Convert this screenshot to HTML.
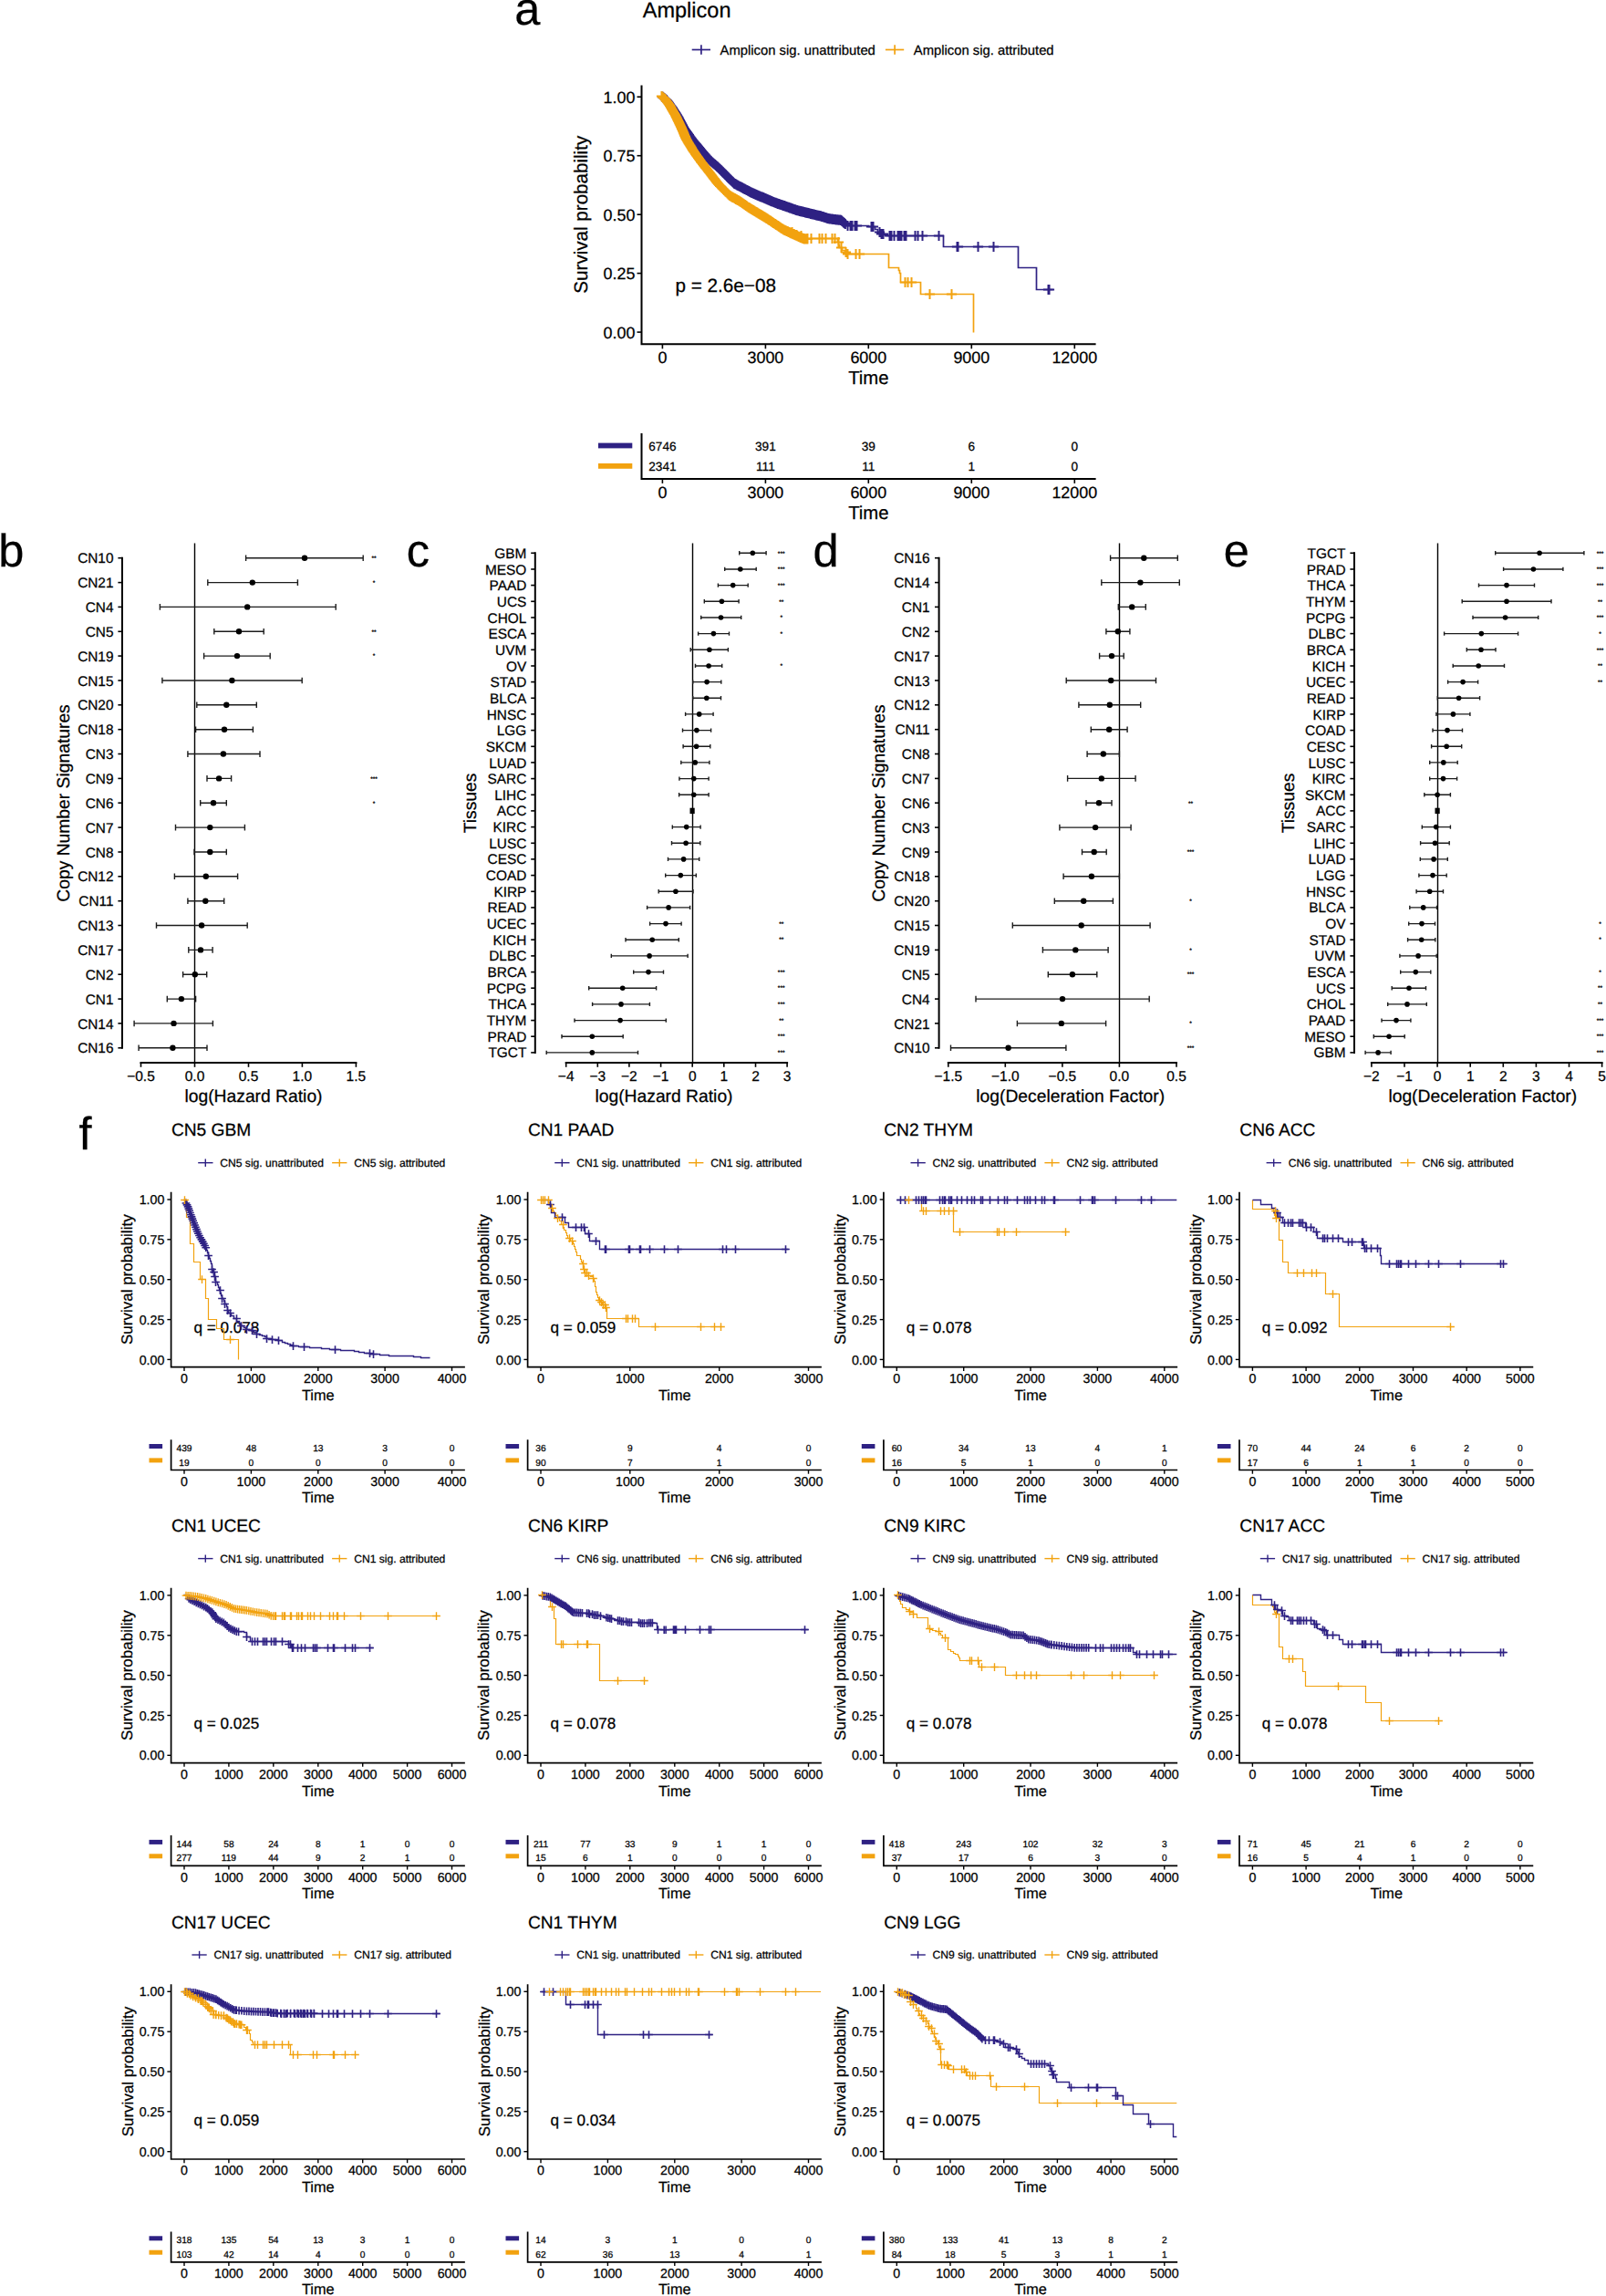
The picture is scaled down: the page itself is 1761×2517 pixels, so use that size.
<!DOCTYPE html>
<html lang="en"><head><meta charset="utf-8"><title>Figure</title>
<style>html,body{margin:0;padding:0;background:#fff}svg{display:block}text{stroke:#000;stroke-width:.25px}</style></head>
<body>
<svg width="1761" height="2517" viewBox="0 0 1761 2517" font-family='"Liberation Sans", "Helvetica", "Arial", sans-serif' text-rendering="geometricPrecision">
<text x="564.2" y="27.2" font-size="50.5" text-anchor="start" fill="#000">a</text>
<text x="-1.8" y="621.4" font-size="50.5" text-anchor="start" fill="#000">b</text>
<text x="445.8" y="621.4" font-size="50.5" text-anchor="start" fill="#000">c</text>
<text x="891.6" y="621.2" font-size="50.5" text-anchor="start" fill="#000">d</text>
<text x="1341.8" y="621.4" font-size="50.5" text-anchor="start" fill="#000">e</text>
<text x="86.6" y="1259.6" font-size="50.5" text-anchor="start" fill="#000">f</text>
<path d="M703.5 94.6V377.3H1200.6" stroke="#000" stroke-width="2" fill="none" stroke-linecap="square"/>
<line x1="698.5" y1="106.2" x2="703.5" y2="106.2" stroke="#000" stroke-width="1.6" stroke-linecap="butt"/>
<text x="696.4" y="112.6" font-size="17.9" text-anchor="end" fill="#000">1.00</text>
<line x1="698.5" y1="170.7" x2="703.5" y2="170.7" stroke="#000" stroke-width="1.6" stroke-linecap="butt"/>
<text x="696.4" y="177.1" font-size="17.9" text-anchor="end" fill="#000">0.75</text>
<line x1="698.5" y1="235.2" x2="703.5" y2="235.2" stroke="#000" stroke-width="1.6" stroke-linecap="butt"/>
<text x="696.4" y="241.6" font-size="17.9" text-anchor="end" fill="#000">0.50</text>
<line x1="698.5" y1="299.6" x2="703.5" y2="299.6" stroke="#000" stroke-width="1.6" stroke-linecap="butt"/>
<text x="696.4" y="306" font-size="17.9" text-anchor="end" fill="#000">0.25</text>
<line x1="698.5" y1="364.1" x2="703.5" y2="364.1" stroke="#000" stroke-width="1.6" stroke-linecap="butt"/>
<text x="696.4" y="370.5" font-size="17.9" text-anchor="end" fill="#000">0.00</text>
<line x1="726.4" y1="377.3" x2="726.4" y2="382.3" stroke="#000" stroke-width="1.6" stroke-linecap="butt"/>
<text x="726.4" y="398.3" font-size="17.9" text-anchor="middle" fill="#000">0</text>
<line x1="839.4" y1="377.3" x2="839.4" y2="382.3" stroke="#000" stroke-width="1.6" stroke-linecap="butt"/>
<text x="839.4" y="398.3" font-size="17.9" text-anchor="middle" fill="#000">3000</text>
<line x1="952.3" y1="377.3" x2="952.3" y2="382.3" stroke="#000" stroke-width="1.6" stroke-linecap="butt"/>
<text x="952.3" y="398.3" font-size="17.9" text-anchor="middle" fill="#000">6000</text>
<line x1="1065.3" y1="377.3" x2="1065.3" y2="382.3" stroke="#000" stroke-width="1.6" stroke-linecap="butt"/>
<text x="1065.3" y="398.3" font-size="17.9" text-anchor="middle" fill="#000">9000</text>
<line x1="1178.3" y1="377.3" x2="1178.3" y2="382.3" stroke="#000" stroke-width="1.6" stroke-linecap="butt"/>
<text x="1178.3" y="398.3" font-size="17.9" text-anchor="middle" fill="#000">12000</text>
<text x="952.3" y="421.1" font-size="20.3" text-anchor="middle" fill="#000">Time</text>
<text x="643.8" y="235.2" font-size="20.6" text-anchor="middle" transform="rotate(-90 643.8 235.2)">Survival probability</text>
<text x="704.8" y="18.6" font-size="23.5" text-anchor="start" fill="#000">Amplicon</text>
<text x="740.5" y="319.9" font-size="20.7" text-anchor="start" fill="#000">p = 2.6e−08</text>
<line x1="758.7" y1="54.5" x2="779" y2="54.5" stroke="#2E2183" stroke-width="1.7" stroke-linecap="butt"/>
<line x1="768.9" y1="49.3" x2="768.9" y2="59.7" stroke="#2E2183" stroke-width="1.7" stroke-linecap="butt"/>
<text x="789.6" y="59.8" font-size="14.8" text-anchor="start" fill="#000">Amplicon sig. unattributed</text>
<line x1="970.9" y1="54.5" x2="991.2" y2="54.5" stroke="#F2A20F" stroke-width="1.7" stroke-linecap="butt"/>
<line x1="981.1" y1="49.3" x2="981.1" y2="59.7" stroke="#F2A20F" stroke-width="1.7" stroke-linecap="butt"/>
<text x="1001.8" y="59.8" font-size="14.8" text-anchor="start" fill="#000">Amplicon sig. attributed</text>
<path d="M703.5 475.9V524.9H1200.6" stroke="#000" stroke-width="2" fill="none" stroke-linecap="square"/>
<line x1="726.4" y1="524.9" x2="726.4" y2="529.9" stroke="#000" stroke-width="1.6" stroke-linecap="butt"/>
<text x="726.4" y="545.7" font-size="17.9" text-anchor="middle" fill="#000">0</text>
<text x="726.4" y="493.6" font-size="13.6" text-anchor="middle" fill="#000">6746</text>
<text x="726.4" y="516" font-size="13.6" text-anchor="middle" fill="#000">2341</text>
<line x1="839.4" y1="524.9" x2="839.4" y2="529.9" stroke="#000" stroke-width="1.6" stroke-linecap="butt"/>
<text x="839.4" y="545.7" font-size="17.9" text-anchor="middle" fill="#000">3000</text>
<text x="839.4" y="493.6" font-size="13.6" text-anchor="middle" fill="#000">391</text>
<text x="839.4" y="516" font-size="13.6" text-anchor="middle" fill="#000">111</text>
<line x1="952.3" y1="524.9" x2="952.3" y2="529.9" stroke="#000" stroke-width="1.6" stroke-linecap="butt"/>
<text x="952.3" y="545.7" font-size="17.9" text-anchor="middle" fill="#000">6000</text>
<text x="952.3" y="493.6" font-size="13.6" text-anchor="middle" fill="#000">39</text>
<text x="952.3" y="516" font-size="13.6" text-anchor="middle" fill="#000">11</text>
<line x1="1065.3" y1="524.9" x2="1065.3" y2="529.9" stroke="#000" stroke-width="1.6" stroke-linecap="butt"/>
<text x="1065.3" y="545.7" font-size="17.9" text-anchor="middle" fill="#000">9000</text>
<text x="1065.3" y="493.6" font-size="13.6" text-anchor="middle" fill="#000">6</text>
<text x="1065.3" y="516" font-size="13.6" text-anchor="middle" fill="#000">1</text>
<line x1="1178.3" y1="524.9" x2="1178.3" y2="529.9" stroke="#000" stroke-width="1.6" stroke-linecap="butt"/>
<text x="1178.3" y="545.7" font-size="17.9" text-anchor="middle" fill="#000">12000</text>
<text x="1178.3" y="493.6" font-size="13.6" text-anchor="middle" fill="#000">0</text>
<text x="1178.3" y="516" font-size="13.6" text-anchor="middle" fill="#000">0</text>
<text x="952.3" y="569" font-size="20.3" text-anchor="middle" fill="#000">Time</text>
<rect x="656" y="485.6" width="37.3" height="5.8" fill="#2E2183"/>
<rect x="656" y="508" width="37.3" height="5.8" fill="#F2A20F"/>
<path d="M726.5 106.5 L728.5 106.5 L728.5 108.5 L731.5 108.5 L731.5 109.5 L733.5 109.5 L733.5 112.5 L735.5 112.5 L735.5 115.5 L737.5 115.5 L737.5 118.5 L739.5 118.5 L739.5 121.5 L741.5 121.5 L741.5 124.5 L742.5 124.5 L742.5 127.5 L744.5 127.5 L744.5 130.5 L746.5 130.5 L746.5 133.5 L747.5 133.5 L747.5 136.5 L749.5 136.5 L749.5 139.5 L751.5 139.5 L751.5 142.5 L753.5 142.5 L753.5 146.5 L756.5 146.5 L756.5 149.5 L758.5 149.5 L758.5 152.5 L760.5 152.5 L760.5 155.5 L762.5 155.5 L762.5 157.5 L765.5 157.5 L765.5 160.5 L767.5 160.5 L767.5 163.5 L769.5 163.5 L769.5 165.5 L772.5 165.5 L772.5 169.5 L775.5 169.5 L775.5 172.5 L778.5 172.5 L778.5 175.5 L781.5 175.5 L781.5 178.5 L784.5 178.5 L784.5 180.5 L787.5 180.5 L787.5 183.5 L790.5 183.5 L790.5 186.5 L793.5 186.5 L793.5 189.5 L796.5 189.5 L796.5 192.5 L799.5 192.5 L799.5 195.5 L802.5 195.5 L802.5 198.5 L804.5 198.5 L804.5 201.5 L807.5 201.5 L807.5 202.5 L810.5 202.5 L810.5 204.5 L813.5 204.5 L813.5 205.5 L816.5 205.5 L816.5 206.5 L818.5 206.5 L818.5 208.5 L821.5 208.5 L821.5 209.5 L824.5 209.5 L824.5 211.5 L827.5 211.5 L827.5 212.5 L830.5 212.5 L830.5 214.5 L833.5 214.5 L833.5 215.5 L836.5 215.5 L836.5 216.5 L840.5 216.5 L840.5 218.5 L843.5 218.5 L843.5 219.5 L846.5 219.5 L846.5 220.5 L849.5 220.5 L849.5 222.5 L852.5 222.5 L852.5 223.5 L855.5 223.5 L855.5 224.5 L858.5 224.5 L858.5 225.5 L861.5 225.5 L861.5 226.5 L865.5 226.5 L865.5 227.5 L868.5 227.5 L868.5 228.5 L871.5 228.5 L871.5 229.5 L874.5 229.5 L874.5 230.5 L877.5 230.5 L877.5 231.5 L880.5 231.5 L880.5 232.5 L882.5 232.5 L882.5 232.5 L885.5 232.5 L885.5 233.5 L888.5 233.5 L888.5 234.5 L891.5 234.5 L891.5 234.5 L894.5 234.5 L894.5 235.5 L897.5 235.5 L897.5 236.5 L900.5 236.5 L900.5 236.5 L902.5 236.5 L902.5 237.5 L905.5 237.5 L905.5 238.5 L908.5 238.5 L908.5 239.5 L912.5 239.5 L912.5 240.5 L915.5 240.5 L915.5 240.5 L918.5 240.5 L918.5 240.5 L922.5 240.5 L922.5 241.5 L925.5 241.5 L925.5 244.5 L928.5 244.5 L928.5 247.5 L931.5 247.5 L931.5 247.5 L934.5 247.5 L934.5 247.5 L937.5 247.5 L937.5 247.5 L940.5 247.5 L940.5 247.5 L943.5 247.5 L943.5 247.5 L946.5 247.5 L946.5 247.5 L949.5 247.5 L949.5 247.5 L952.5 247.5 L952.5 248.5 L955.5 248.5 L955.5 248.5 L959.5 248.5 L959.5 251.5 L962.5 251.5 L962.5 254.5 L965.5 254.5 L965.5 256.5 L969.5 256.5 L969.5 257.5 L972.5 257.5 L972.5 258.5 L1029.5 258.5 L1034.5 258.5 L1034.5 270.5 L1116.5 270.5 L1116.5 293.5 L1136.5 293.5 L1136.5 317.5 L1154.5 317.5" stroke="#2E2183" stroke-width="1.7" fill="none"  stroke-linejoin="miter"/>
<path d="M929.5 241.9v11.2M923.9 247.5h11.2M932.5 241.9v11.2M926.9 247.5h11.2M934.5 241.9v11.2M928.9 247.5h11.2M937.5 241.9v11.2M931.9 247.5h11.2M939.5 241.9v11.2M933.9 247.5h11.2M955.5 242.9v11.2M949.9 248.5h11.2M957.5 242.9v11.2M951.9 248.5h11.2M964.5 248.9v11.2M958.9 254.5h11.2M966.5 250.9v11.2M960.9 256.5h11.2M968.5 250.9v11.2M962.9 256.5h11.2M975.5 252.9v11.2M969.9 258.5h11.2M977.5 252.9v11.2M971.9 258.5h11.2M980.5 252.9v11.2M974.9 258.5h11.2M984.5 252.9v11.2M978.9 258.5h11.2M986.5 252.9v11.2M980.9 258.5h11.2M988.5 252.9v11.2M982.9 258.5h11.2M991.5 252.9v11.2M985.9 258.5h11.2M993.5 252.9v11.2M987.9 258.5h11.2M1003.5 252.9v11.2M997.9 258.5h11.2M1006.5 252.9v11.2M1000.9 258.5h11.2M1011.5 252.9v11.2M1005.9 258.5h11.2M1029.5 252.9v11.2M1023.9 258.5h11.2M1049.5 264.9v11.2M1043.9 270.5h11.2M1050.5 264.9v11.2M1044.9 270.5h11.2M1072.5 264.9v11.2M1066.9 270.5h11.2M1089.5 264.9v11.2M1083.9 270.5h11.2M1149.5 311.9v11.2M1143.9 317.5h11.2M1150.5 311.9v11.2M1144.9 317.5h11.2M726.4 100.6v11.2M720.8 106.2h11.2M727.3 101.3v11.2M721.7 106.9h11.2M728.3 102.1v11.2M722.7 107.7h11.2M729.2 102.8v11.2M723.6 108.4h11.2M730.2 103.6v11.2M724.6 109.2h11.2M731.1 104.3v11.2M725.5 109.9h11.2M731.9 105.4v11.2M726.3 111h11.2M732.7 106.5v11.2M727.1 112.1h11.2M733.5 107.6v11.2M727.9 113.2h11.2M734.2 108.7v11.2M728.6 114.3h11.2M735 109.8v11.2M729.4 115.4h11.2M735.8 110.9v11.2M730.2 116.5h11.2M736.6 112v11.2M731 117.6h11.2M737.4 113v11.2M731.8 118.6h11.2M738.1 114.1v11.2M732.5 119.7h11.2M738.8 115.2v11.2M733.2 120.8h11.2M739.5 116.3v11.2M733.9 121.9h11.2M740.2 117.4v11.2M734.6 123h11.2M740.9 118.5v11.2M735.3 124.1h11.2M741.6 119.6v11.2M736 125.2h11.2M742.3 120.7v11.2M736.7 126.3h11.2M743 121.8v11.2M737.4 127.4h11.2M743.6 122.9v11.2M738 128.5h11.2M744.2 124v11.2M738.6 129.6h11.2M744.8 125.2v11.2M739.2 130.8h11.2M745.4 126.3v11.2M739.8 131.9h11.2M746 127.4v11.2M740.4 133h11.2M746.6 128.6v11.2M741 134.2h11.2M747.2 129.7v11.2M741.6 135.3h11.2M747.8 130.8v11.2M742.2 136.4h11.2M748.4 131.9v11.2M742.8 137.5h11.2M749 133.1v11.2M743.4 138.7h11.2M749.6 134.2v11.2M744 139.8h11.2M750.3 135.3v11.2M744.7 140.9h11.2M751 136.3v11.2M745.4 141.9h11.2M751.7 137.3v11.2M746.1 142.9h11.2M752.5 138.4v11.2M746.9 144h11.2M753.2 139.4v11.2M747.6 145h11.2M753.9 140.4v11.2M748.3 146h11.2M754.6 141.5v11.2M749 147.1h11.2M755.4 142.5v11.2M749.8 148.1h11.2M756.1 143.6v11.2M750.5 149.2h11.2M756.8 144.6v11.2M751.2 150.2h11.2M757.6 145.6v11.2M752 151.2h11.2M758.3 146.7v11.2M752.7 152.3h11.2M759.1 147.6v11.2M753.5 153.2h11.2M759.9 148.6v11.2M754.3 154.2h11.2M760.7 149.6v11.2M755.1 155.2h11.2M761.6 150.6v11.2M756 156.2h11.2M762.4 151.6v11.2M756.8 157.2h11.2M763.2 152.5v11.2M757.6 158.1h11.2M764 153.5v11.2M758.4 159.1h11.2M764.8 154.5v11.2M759.2 160.1h11.2M765.6 155.5v11.2M760 161.1h11.2M766.5 156.5v11.2M760.9 162.1h11.2M767.3 157.4v11.2M761.7 163h11.2M768.1 158.4v11.2M762.5 164h11.2M768.9 159.4v11.2M763.3 165h11.2M769.7 160.4v11.2M764.1 166h11.2M770.5 161.3v11.2M764.9 166.9h11.2M771.3 162.2v11.2M765.7 167.8h11.2M772.1 163.1v11.2M766.5 168.7h11.2M772.9 164v11.2M767.3 169.6h11.2M773.7 164.9v11.2M768.1 170.5h11.2M774.5 165.8v11.2M768.9 171.4h11.2M775.3 166.7v11.2M769.7 172.3h11.2M776.1 167.6v11.2M770.5 173.2h11.2M776.9 168.5v11.2M771.3 174.1h11.2M777.7 169.4v11.2M772.1 175h11.2M778.5 170.3v11.2M772.9 175.9h11.2M779.4 171.1v11.2M773.8 176.7h11.2M780.4 171.9v11.2M774.8 177.5h11.2M781.4 172.7v11.2M775.8 178.3h11.2M782.3 173.5v11.2M776.7 179.1h11.2M783.3 174.3v11.2M777.7 179.9h11.2M784.3 175.1v11.2M778.7 180.7h11.2M785.2 175.9v11.2M779.6 181.5h11.2M786.2 176.7v11.2M780.6 182.3h11.2M787.2 177.6v11.2M781.6 183.2h11.2M788 178.4v11.2M782.4 184h11.2M788.9 179.3v11.2M783.3 184.9h11.2M789.7 180.1v11.2M784.1 185.7h11.2M790.6 181v11.2M785 186.6h11.2M791.4 181.8v11.2M785.8 187.4h11.2M792.3 182.7v11.2M786.7 188.3h11.2M793.1 183.5v11.2M787.5 189.1h11.2M794 184.4v11.2M788.4 190h11.2M794.8 185.2v11.2M789.2 190.8h11.2M795.7 186.1v11.2M790.1 191.7h11.2M796.5 186.9v11.2M790.9 192.5h11.2M797.3 187.8v11.2M791.7 193.4h11.2M798.2 188.7v11.2M792.6 194.3h11.2M799 189.5v11.2M793.4 195.1h11.2M799.9 190.4v11.2M794.3 196h11.2M800.7 191.2v11.2M795.1 196.8h11.2M801.6 192.1v11.2M796 197.7h11.2M802.4 192.9v11.2M796.8 198.5h11.2M803.3 193.8v11.2M797.7 199.4h11.2M804.1 194.6v11.2M798.5 200.2h11.2M805 195.5v11.2M799.4 201.1h11.2M806.1 196.1v11.2M800.5 201.7h11.2M807.2 196.6v11.2M801.6 202.2h11.2M808.2 197.2v11.2M802.6 202.8h11.2M809.3 197.8v11.2M803.7 203.4h11.2M810.4 198.4v11.2M804.8 204h11.2M811.5 198.9v11.2M805.9 204.5h11.2M812.6 199.5v11.2M807 205.1h11.2M813.7 200.1v11.2M808.1 205.7h11.2M814.8 200.7v11.2M809.2 206.3h11.2M815.8 201.2v11.2M810.2 206.8h11.2M816.9 201.8v11.2M811.3 207.4h11.2M818 202.4v11.2M812.4 208h11.2M819.1 202.9v11.2M813.5 208.5h11.2M820.2 203.5v11.2M814.6 209.1h11.2M821.3 204.1v11.2M815.7 209.7h11.2M822.4 204.7v11.2M816.8 210.3h11.2M823.4 205.2v11.2M817.8 210.8h11.2M824.5 205.8v11.2M818.9 211.4h11.2M825.7 206.3v11.2M820.1 211.9h11.2M826.8 206.8v11.2M821.2 212.4h11.2M827.9 207.3v11.2M822.3 212.9h11.2M829.1 207.7v11.2M823.5 213.3h11.2M830.2 208.2v11.2M824.6 213.8h11.2M831.3 208.7v11.2M825.7 214.3h11.2M832.5 209.2v11.2M826.9 214.8h11.2M833.6 209.7v11.2M828 215.3h11.2M834.7 210.2v11.2M829.1 215.8h11.2M835.9 210.6v11.2M830.3 216.2h11.2M837 211.1v11.2M831.4 216.7h11.2M838.1 211.6v11.2M832.5 217.2h11.2M839.3 212.1v11.2M833.7 217.7h11.2M840.4 212.6v11.2M834.8 218.2h11.2M841.5 213v11.2M835.9 218.6h11.2M842.6 213.5v11.2M837 219.1h11.2M843.8 214v11.2M838.2 219.6h11.2M844.9 214.5v11.2M839.3 220.1h11.2M846 215v11.2M840.4 220.6h11.2M847.2 215.4v11.2M841.6 221h11.2M848.3 215.9v11.2M842.7 221.5h11.2M849.4 216.4v11.2M843.8 222h11.2M850.6 216.8v11.2M845 222.4h11.2M851.8 217.2v11.2M846.2 222.8h11.2M853 217.7v11.2M847.4 223.3h11.2M854.2 218.1v11.2M848.6 223.7h11.2M855.4 218.5v11.2M849.8 224.1h11.2M856.6 218.9v11.2M851 224.5h11.2M857.7 219.3v11.2M852.1 224.9h11.2M858.9 219.7v11.2M853.3 225.3h11.2M860.1 220.1v11.2M854.5 225.7h11.2M861.3 220.6v11.2M855.7 226.2h11.2M862.5 221v11.2M856.9 226.6h11.2M863.7 221.4v11.2M858.1 227h11.2M864.9 221.8v11.2M859.3 227.4h11.2M866 222.2v11.2M860.4 227.8h11.2M867.2 222.6v11.2M861.6 228.2h11.2M868.4 223v11.2M862.8 228.6h11.2M869.6 223.5v11.2M864 229.1h11.2M870.8 223.9v11.2M865.2 229.5h11.2M872 224.3v11.2M866.4 229.9h11.2M873.2 224.7v11.2M867.6 230.3h11.2M874.3 225.1v11.2M868.7 230.7h11.2M875.6 225.4v11.2M870 231h11.2M876.8 225.7v11.2M871.2 231.3h11.2M878 226v11.2M872.4 231.6h11.2M879.2 226.3v11.2M873.6 231.9h11.2M880.5 226.6v11.2M874.9 232.2h11.2M881.7 226.9v11.2M876.1 232.5h11.2M882.9 227.2v11.2M877.3 232.8h11.2M884.1 227.5v11.2M878.5 233.1h11.2M885.3 227.8v11.2M879.7 233.4h11.2M886.6 228.1v11.2M881 233.7h11.2M887.8 228.4v11.2M882.2 234h11.2M889 228.7v11.2M883.4 234.3h11.2M890.2 229v11.2M884.6 234.6h11.2M891.4 229.3v11.2M885.8 234.9h11.2M892.7 229.6v11.2M887.1 235.2h11.2M893.9 229.9v11.2M888.3 235.5h11.2M895.1 230.2v11.2M889.5 235.8h11.2M896.3 230.5v11.2M890.7 236.1h11.2M897.6 230.8v11.2M892 236.4h11.2M898.8 231.1v11.2M893.2 236.7h11.2M900 231.3v11.2M894.4 236.9h11.2M901.2 231.7v11.2M895.6 237.3h11.2M902.5 232.1v11.2M896.9 237.7h11.2M903.7 232.5v11.2M898.1 238.1h11.2M904.9 232.9v11.2M899.3 238.5h11.2M906.2 233.3v11.2M900.6 238.9h11.2M907.4 233.7v11.2M901.8 239.3h11.2M908.6 234.1v11.2M903 239.7h11.2M909.9 234.3v11.2M904.3 239.9h11.2M911.1 234.4v11.2M905.5 240h11.2M912.3 234.6v11.2M906.7 240.2h11.2M913.5 234.7v11.2M907.9 240.3h11.2M914.8 234.9v11.2M909.2 240.5h11.2M916 235v11.2M910.4 240.6h11.2M917.2 235.2v11.2M911.6 240.8h11.2M918.4 235.3v11.2M912.8 240.9h11.2M919.6 235.5v11.2M914 241.1h11.2M920.9 235.6v11.2M915.3 241.2h11.2M922.1 235.8v11.2M916.5 241.4h11.2M923.1 236.6v11.2M917.5 242.2h11.2M924 237.4v11.2M918.4 243h11.2M925 238.2v11.2M919.4 243.8h11.2M925.9 239.1v11.2M920.3 244.7h11.2M926.9 239.9v11.2M921.3 245.5h11.2" stroke="#2E2183" stroke-width="2" fill="none" />
<path d="M725.5 105.5 L729.5 105.5 L729.5 108.5 L731.5 108.5 L731.5 111.5 L733.5 111.5 L733.5 114.5 L735.5 114.5 L735.5 118.5 L737.5 118.5 L737.5 121.5 L739.5 121.5 L739.5 124.5 L741.5 124.5 L741.5 127.5 L742.5 127.5 L742.5 130.5 L744.5 130.5 L744.5 133.5 L745.5 133.5 L745.5 136.5 L747.5 136.5 L747.5 139.5 L748.5 139.5 L748.5 142.5 L749.5 142.5 L749.5 146.5 L750.5 146.5 L750.5 149.5 L752.5 149.5 L752.5 152.5 L754.5 152.5 L754.5 155.5 L756.5 155.5 L756.5 158.5 L757.5 158.5 L757.5 161.5 L759.5 161.5 L759.5 164.5 L761.5 164.5 L761.5 167.5 L764.5 167.5 L764.5 170.5 L766.5 170.5 L766.5 174.5 L768.5 174.5 L768.5 177.5 L770.5 177.5 L770.5 180.5 L773.5 180.5 L773.5 183.5 L775.5 183.5 L775.5 186.5 L778.5 186.5 L778.5 189.5 L780.5 189.5 L780.5 192.5 L783.5 192.5 L783.5 195.5 L785.5 195.5 L785.5 198.5 L787.5 198.5 L787.5 202.5 L790.5 202.5 L790.5 205.5 L794.5 205.5 L794.5 208.5 L797.5 208.5 L797.5 211.5 L800.5 211.5 L800.5 214.5 L803.5 214.5 L803.5 216.5 L805.5 216.5 L805.5 217.5 L808.5 217.5 L808.5 219.5 L811.5 219.5 L811.5 220.5 L814.5 220.5 L814.5 222.5 L817.5 222.5 L817.5 224.5 L820.5 224.5 L820.5 226.5 L823.5 226.5 L823.5 228.5 L826.5 228.5 L826.5 230.5 L828.5 230.5 L828.5 232.5 L831.5 232.5 L831.5 234.5 L834.5 234.5 L834.5 235.5 L837.5 235.5 L837.5 237.5 L840.5 237.5 L840.5 239.5 L843.5 239.5 L843.5 241.5 L846.5 241.5 L846.5 243.5 L850.5 243.5 L850.5 245.5 L853.5 245.5 L853.5 247.5 L856.5 247.5 L856.5 249.5 L859.5 249.5 L859.5 251.5 L862.5 251.5 L862.5 253.5 L865.5 253.5 L865.5 254.5 L868.5 254.5 L868.5 256.5 L871.5 256.5 L871.5 257.5 L874.5 257.5 L874.5 258.5 L878.5 258.5 L878.5 260.5 L881.5 260.5 L881.5 261.5 L917.5 261.5 L918.5 261.5 L918.5 265.5 L919.5 265.5 L919.5 268.5 L920.5 268.5 L920.5 271.5 L923.5 271.5 L923.5 274.5 L926.5 274.5 L926.5 276.5 L928.5 276.5 L928.5 278.5 L974.5 278.5 L974.5 293.5 L984.5 293.5 L985.5 293.5 L985.5 296.5 L986.5 296.5 L986.5 299.5 L987.5 299.5 L987.5 301.5 L987.5 309.5 L1009.5 309.5 L1009.5 322.5 L1067.5 322.5 L1067.5 364.5" stroke="#F2A20F" stroke-width="1.7" fill="none"  stroke-linejoin="miter"/>
<path d="M863.5 247.9v11.2M857.9 253.5h11.2M865.5 248.9v11.2M859.9 254.5h11.2M868.5 248.9v11.2M862.9 254.5h11.2M870.5 250.9v11.2M864.9 256.5h11.2M873.5 251.9v11.2M867.9 257.5h11.2M878.5 252.9v11.2M872.9 258.5h11.2M881.5 255.9v11.2M875.9 261.5h11.2M885.5 255.9v11.2M879.9 261.5h11.2M889.5 255.9v11.2M883.9 261.5h11.2M898.5 255.9v11.2M892.9 261.5h11.2M901.5 255.9v11.2M895.9 261.5h11.2M905.5 255.9v11.2M899.9 261.5h11.2M912.5 255.9v11.2M906.9 261.5h11.2M915.5 255.9v11.2M909.9 261.5h11.2M919.5 259.9v11.2M913.9 265.5h11.2M922.5 265.9v11.2M916.9 271.5h11.2M927.5 270.9v11.2M921.9 276.5h11.2M929.5 272.9v11.2M923.9 278.5h11.2M938.5 272.9v11.2M932.9 278.5h11.2M942.5 272.9v11.2M936.9 278.5h11.2M992.5 303.9v11.2M986.9 309.5h11.2M995.5 303.9v11.2M989.9 309.5h11.2M999.5 303.9v11.2M993.9 309.5h11.2M1019.5 316.9v11.2M1013.9 322.5h11.2M1043.5 316.9v11.2M1037.9 322.5h11.2M725.5 100v11.2M719.9 105.6h11.2M726.5 100.7v11.2M720.9 106.3h11.2M727.4 101.5v11.2M721.8 107.1h11.2M728.3 102.3v11.2M722.7 107.9h11.2M729.3 103.1v11.2M723.7 108.7h11.2M730.1 104.1v11.2M724.5 109.7h11.2M730.8 105.2v11.2M725.2 110.8h11.2M731.6 106.2v11.2M726 111.8h11.2M732.4 107.2v11.2M726.8 112.8h11.2M733.2 108.3v11.2M727.6 113.9h11.2M734 109.3v11.2M728.4 114.9h11.2M734.6 110.4v11.2M729 116h11.2M735.3 111.6v11.2M729.7 117.2h11.2M735.9 112.7v11.2M730.3 118.3h11.2M736.6 113.8v11.2M731 119.4h11.2M737.2 115v11.2M731.6 120.6h11.2M737.9 116.1v11.2M732.3 121.7h11.2M738.5 117.2v11.2M732.9 122.8h11.2M739.2 118.4v11.2M733.6 124h11.2M739.8 119.5v11.2M734.2 125.1h11.2M740.5 120.6v11.2M734.9 126.2h11.2M741.1 121.8v11.2M735.5 127.4h11.2M741.6 122.9v11.2M736 128.5h11.2M742.2 124v11.2M736.6 129.6h11.2M742.7 125.2v11.2M737.1 130.8h11.2M743.3 126.3v11.2M737.7 131.9h11.2M743.8 127.4v11.2M738.2 133h11.2M744.4 128.6v11.2M738.8 134.2h11.2M744.9 129.7v11.2M739.3 135.3h11.2M745.4 130.8v11.2M739.8 136.4h11.2M746 131.9v11.2M740.4 137.5h11.2M746.5 133.1v11.2M740.9 138.7h11.2M747.1 134.2v11.2M741.5 139.8h11.2M747.5 135.3v11.2M741.9 140.9h11.2M748 136.5v11.2M742.4 142.1h11.2M748.5 137.6v11.2M742.9 143.2h11.2M749 138.7v11.2M743.4 144.3h11.2M749.5 139.9v11.2M743.9 145.5h11.2M749.9 141v11.2M744.3 146.6h11.2M750.4 142.1v11.2M744.8 147.7h11.2M750.9 143.3v11.2M745.3 148.9h11.2M751.4 144.4v11.2M745.8 150h11.2M751.8 145.5v11.2M746.2 151.1h11.2M752.3 146.7v11.2M746.7 152.3h11.2M752.9 147.7v11.2M747.3 153.3h11.2M753.5 148.7v11.2M747.9 154.3h11.2M754.2 149.8v11.2M748.6 155.4h11.2M754.8 150.8v11.2M749.2 156.4h11.2M755.4 151.9v11.2M749.8 157.5h11.2M756 152.9v11.2M750.4 158.5h11.2M756.7 153.9v11.2M751.1 159.5h11.2M757.3 155v11.2M751.7 160.6h11.2M757.9 156v11.2M752.3 161.6h11.2M758.5 157v11.2M752.9 162.6h11.2M759.2 158.1v11.2M753.6 163.7h11.2M759.8 159.1v11.2M754.2 164.7h11.2M760.5 160.2v11.2M754.9 165.8h11.2M761.2 161.2v11.2M755.6 166.8h11.2M762 162.2v11.2M756.4 167.8h11.2M762.7 163.3v11.2M757.1 168.9h11.2M763.4 164.3v11.2M757.8 169.9h11.2M764.1 165.3v11.2M758.5 170.9h11.2M764.9 166.4v11.2M759.3 172h11.2M765.6 167.4v11.2M760 173h11.2M766.3 168.5v11.2M760.7 174.1h11.2M767 169.5v11.2M761.4 175.1h11.2M767.8 170.5v11.2M762.2 176.1h11.2M768.5 171.6v11.2M762.9 177.2h11.2M769.2 172.5v11.2M763.6 178.1h11.2M770 173.5v11.2M764.4 179.1h11.2M770.7 174.4v11.2M765.1 180h11.2M771.5 175.4v11.2M765.9 181h11.2M772.2 176.4v11.2M766.6 182h11.2M773 177.3v11.2M767.4 182.9h11.2M773.7 178.3v11.2M768.1 183.9h11.2M774.5 179.2v11.2M768.9 184.8h11.2M775.2 180.2v11.2M769.6 185.8h11.2M776 181.2v11.2M770.4 186.8h11.2M776.7 182.1v11.2M771.1 187.7h11.2M777.5 183.1v11.2M771.9 188.7h11.2M778.2 184v11.2M772.6 189.6h11.2M778.9 185v11.2M773.3 190.6h11.2M779.7 185.9v11.2M774.1 191.5h11.2M780.4 186.9v11.2M774.8 192.5h11.2M781.2 187.9v11.2M775.6 193.5h11.2M781.9 188.8v11.2M776.3 194.4h11.2M782.6 189.8v11.2M777 195.4h11.2M783.4 190.7v11.2M777.8 196.3h11.2M784.1 191.7v11.2M778.5 197.3h11.2M784.8 192.6v11.2M779.2 198.2h11.2M785.6 193.6v11.2M780 199.2h11.2M786.3 194.6v11.2M780.7 200.2h11.2M787.1 195.5v11.2M781.5 201.1h11.2M787.8 196.5v11.2M782.2 202.1h11.2M788.7 197.4v11.2M783.1 203h11.2M789.6 198.3v11.2M784 203.9h11.2M790.5 199.1v11.2M784.9 204.7h11.2M791.4 200v11.2M785.8 205.6h11.2M792.2 200.9v11.2M786.6 206.5h11.2M793.1 201.8v11.2M787.5 207.4h11.2M794 202.7v11.2M788.4 208.3h11.2M794.9 203.6v11.2M789.3 209.2h11.2M795.8 204.5v11.2M790.2 210.1h11.2M796.7 205.4v11.2M791.1 211h11.2M797.6 206.3v11.2M792 211.9h11.2M798.5 207.2v11.2M792.9 212.8h11.2M799.4 208v11.2M793.8 213.6h11.2M800.2 208.9v11.2M794.6 214.5h11.2M801.4 209.6v11.2M795.8 215.2h11.2M802.5 210.2v11.2M796.9 215.8h11.2M803.6 210.8v11.2M798 216.4h11.2M804.7 211.4v11.2M799.1 217h11.2M805.9 212v11.2M800.3 217.6h11.2M807 212.7v11.2M801.4 218.3h11.2M808.1 213.3v11.2M802.5 218.9h11.2M809.2 213.9v11.2M803.6 219.5h11.2M810.3 214.5v11.2M804.7 220.1h11.2M811.5 215.2v11.2M805.9 220.8h11.2M812.5 215.9v11.2M806.9 221.5h11.2M813.6 216.7v11.2M808 222.3h11.2M814.7 217.5v11.2M809.1 223.1h11.2M815.8 218.3v11.2M810.2 223.9h11.2M816.9 219.1v11.2M811.3 224.7h11.2M818 219.8v11.2M812.4 225.4h11.2M819.1 220.6v11.2M813.5 226.2h11.2M820.2 221.4v11.2M814.6 227h11.2M821.2 222v11.2M815.6 227.6h11.2M822.2 222.6v11.2M816.6 228.2h11.2M823.3 223.3v11.2M817.7 228.9h11.2M824.3 223.9v11.2M818.7 229.5h11.2M825.3 224.5v11.2M819.7 230.1h11.2M826.3 225.1v11.2M820.7 230.7h11.2M827.4 225.7v11.2M821.8 231.3h11.2M828.4 226.4v11.2M822.8 232h11.2M829.4 227v11.2M823.8 232.6h11.2M830.4 227.6v11.2M824.8 233.2h11.2M831.5 228.2v11.2M825.9 233.8h11.2M832.5 228.9v11.2M826.9 234.5h11.2M833.5 229.5v11.2M827.9 235.1h11.2M834.6 230.1v11.2M829 235.7h11.2M835.6 230.7v11.2M830 236.3h11.2M836.6 231.3v11.2M831 236.9h11.2M837.6 232v11.2M832 237.6h11.2M838.7 232.6v11.2M833.1 238.2h11.2M839.7 233.2v11.2M834.1 238.8h11.2M840.7 233.8v11.2M835.1 239.4h11.2M841.8 234.5v11.2M836.2 240.1h11.2M842.8 235.2v11.2M837.2 240.8h11.2M843.8 235.9v11.2M838.2 241.5h11.2M844.9 236.6v11.2M839.3 242.2h11.2M845.9 237.3v11.2M840.3 242.9h11.2M846.9 238v11.2M841.3 243.6h11.2M848 238.7v11.2M842.4 244.3h11.2M849 239.4v11.2M843.4 245h11.2M850.1 240.1v11.2M844.5 245.7h11.2M851.1 240.8v11.2M845.5 246.4h11.2M852.1 241.4v11.2M846.5 247h11.2M853.2 242.1v11.2M847.6 247.7h11.2M854.2 242.8v11.2M848.6 248.4h11.2M855.3 243.5v11.2M849.7 249.1h11.2M856.3 244.2v11.2M850.7 249.8h11.2M857.3 244.9v11.2M851.7 250.5h11.2M858.4 245.6v11.2M852.8 251.2h11.2M859.4 246.3v11.2M853.8 251.9h11.2M860.6 246.8v11.2M855 252.4h11.2M861.7 247.3v11.2M856.1 252.9h11.2M862.9 247.9v11.2M857.3 253.5h11.2M864 248.4v11.2M858.4 254h11.2M865.1 248.9v11.2M859.5 254.5h11.2M866.3 249.5v11.2M860.7 255.1h11.2M867.4 250v11.2M861.8 255.6h11.2M868.6 250.5v11.2M863 256.1h11.2M869.7 251v11.2M864.1 256.6h11.2M870.9 251.6v11.2M865.3 257.2h11.2M872 252.1v11.2M866.4 257.7h11.2M873.2 252.6v11.2M867.6 258.2h11.2M874.3 253.1v11.2M868.7 258.7h11.2M875.6 253.7v11.2M870 259.3h11.2M876.8 254.2v11.2M871.2 259.8h11.2M878 254.7v11.2M872.4 260.3h11.2M879.3 255.3v11.2M873.7 260.9h11.2M880.5 255.8v11.2M874.9 261.4h11.2M881.7 256.3v11.2M876.1 261.9h11.2M883 256.3v11.2M877.4 261.9h11.2M884.2 256.3v11.2M878.6 261.9h11.2M885.4 256.3v11.2M879.8 261.9h11.2" stroke="#F2A20F" stroke-width="2" fill="none" />
<line x1="213.5" y1="595.4" x2="213.5" y2="1165" stroke="#000" stroke-width="1.4" stroke-linecap="butt"/>
<line x1="134" y1="610.7" x2="134" y2="1149.8" stroke="#000" stroke-width="2" stroke-linecap="butt"/>
<line x1="129.4" y1="611.7" x2="134" y2="611.7" stroke="#000" stroke-width="1.6" stroke-linecap="butt"/>
<text x="124.5" y="617.2" font-size="15.4" text-anchor="end" fill="#000">CN10</text>
<path d="M269.6 611.7H398.2M269.6 608.4v6.6M398.2 608.4v6.6" stroke="#1c1c1c" stroke-width="1.4" fill="none" />
<circle cx="334" cy="611.7" r="3.2" fill="#000"/>
<text x="410" y="613.9" font-size="6.6" text-anchor="middle" fill="#000">**</text>
<line x1="129.4" y1="638.6" x2="134" y2="638.6" stroke="#000" stroke-width="1.6" stroke-linecap="butt"/>
<text x="124.5" y="644.1" font-size="15.4" text-anchor="end" fill="#000">CN21</text>
<path d="M227.8 638.6H326.4M227.8 635.3v6.6M326.4 635.3v6.6" stroke="#1c1c1c" stroke-width="1.4" fill="none" />
<circle cx="276.8" cy="638.6" r="3.2" fill="#000"/>
<text x="410" y="640.8" font-size="6.6" text-anchor="middle" fill="#000">*</text>
<line x1="129.4" y1="665.4" x2="134" y2="665.4" stroke="#000" stroke-width="1.6" stroke-linecap="butt"/>
<text x="124.5" y="670.9" font-size="15.4" text-anchor="end" fill="#000">CN4</text>
<path d="M175.4 665.4H368.2M175.4 662.1v6.6M368.2 662.1v6.6" stroke="#1c1c1c" stroke-width="1.4" fill="none" />
<circle cx="271.2" cy="665.4" r="3.2" fill="#000"/>
<line x1="129.4" y1="692.3" x2="134" y2="692.3" stroke="#000" stroke-width="1.6" stroke-linecap="butt"/>
<text x="124.5" y="697.8" font-size="15.4" text-anchor="end" fill="#000">CN5</text>
<path d="M234.8 692.3H289.2M234.8 689v6.6M289.2 689v6.6" stroke="#1c1c1c" stroke-width="1.4" fill="none" />
<circle cx="262" cy="692.3" r="3.2" fill="#000"/>
<text x="410" y="694.5" font-size="6.6" text-anchor="middle" fill="#000">**</text>
<line x1="129.4" y1="719.1" x2="134" y2="719.1" stroke="#000" stroke-width="1.6" stroke-linecap="butt"/>
<text x="124.5" y="724.6" font-size="15.4" text-anchor="end" fill="#000">CN19</text>
<path d="M223.6 719.1H296.2M223.6 715.8v6.6M296.2 715.8v6.6" stroke="#1c1c1c" stroke-width="1.4" fill="none" />
<circle cx="260" cy="719.1" r="3.2" fill="#000"/>
<text x="410" y="721.3" font-size="6.6" text-anchor="middle" fill="#000">*</text>
<line x1="129.4" y1="746" x2="134" y2="746" stroke="#000" stroke-width="1.6" stroke-linecap="butt"/>
<text x="124.5" y="751.5" font-size="15.4" text-anchor="end" fill="#000">CN15</text>
<path d="M177.9 746H331.2M177.9 742.7v6.6M331.2 742.7v6.6" stroke="#1c1c1c" stroke-width="1.4" fill="none" />
<circle cx="254.4" cy="746" r="3.2" fill="#000"/>
<line x1="129.4" y1="772.8" x2="134" y2="772.8" stroke="#000" stroke-width="1.6" stroke-linecap="butt"/>
<text x="124.5" y="778.3" font-size="15.4" text-anchor="end" fill="#000">CN20</text>
<path d="M215.8 772.8H281.3M215.8 769.5v6.6M281.3 769.5v6.6" stroke="#1c1c1c" stroke-width="1.4" fill="none" />
<circle cx="248.3" cy="772.8" r="3.2" fill="#000"/>
<line x1="129.4" y1="799.7" x2="134" y2="799.7" stroke="#000" stroke-width="1.6" stroke-linecap="butt"/>
<text x="124.5" y="805.2" font-size="15.4" text-anchor="end" fill="#000">CN18</text>
<path d="M214.6 799.7H277.4M214.6 796.4v6.6M277.4 796.4v6.6" stroke="#1c1c1c" stroke-width="1.4" fill="none" />
<circle cx="246" cy="799.7" r="3.2" fill="#000"/>
<line x1="129.4" y1="826.5" x2="134" y2="826.5" stroke="#000" stroke-width="1.6" stroke-linecap="butt"/>
<text x="124.5" y="832.1" font-size="15.4" text-anchor="end" fill="#000">CN3</text>
<path d="M205.9 826.5H285M205.9 823.3v6.6M285 823.3v6.6" stroke="#1c1c1c" stroke-width="1.4" fill="none" />
<circle cx="244.9" cy="826.5" r="3.2" fill="#000"/>
<line x1="129.4" y1="853.4" x2="134" y2="853.4" stroke="#000" stroke-width="1.6" stroke-linecap="butt"/>
<text x="124.5" y="858.9" font-size="15.4" text-anchor="end" fill="#000">CN9</text>
<path d="M227 853.4H253.6M227 850.1v6.6M253.6 850.1v6.6" stroke="#1c1c1c" stroke-width="1.4" fill="none" />
<circle cx="240.1" cy="853.4" r="3.2" fill="#000"/>
<text x="410" y="855.6" font-size="6.6" text-anchor="middle" fill="#000">***</text>
<line x1="129.4" y1="880.2" x2="134" y2="880.2" stroke="#000" stroke-width="1.6" stroke-linecap="butt"/>
<text x="124.5" y="885.8" font-size="15.4" text-anchor="end" fill="#000">CN6</text>
<path d="M219.7 880.2H248.3M219.7 877v6.6M248.3 877v6.6" stroke="#1c1c1c" stroke-width="1.4" fill="none" />
<circle cx="234" cy="880.2" r="3.2" fill="#000"/>
<text x="410" y="882.5" font-size="6.6" text-anchor="middle" fill="#000">*</text>
<line x1="129.4" y1="907.1" x2="134" y2="907.1" stroke="#000" stroke-width="1.6" stroke-linecap="butt"/>
<text x="124.5" y="912.6" font-size="15.4" text-anchor="end" fill="#000">CN7</text>
<path d="M192.5 907.1H268.4M192.5 903.8v6.6M268.4 903.8v6.6" stroke="#1c1c1c" stroke-width="1.4" fill="none" />
<circle cx="230.3" cy="907.1" r="3.2" fill="#000"/>
<line x1="129.4" y1="934" x2="134" y2="934" stroke="#000" stroke-width="1.6" stroke-linecap="butt"/>
<text x="124.5" y="939.5" font-size="15.4" text-anchor="end" fill="#000">CN8</text>
<path d="M213 934H248.3M213 930.7v6.6M248.3 930.7v6.6" stroke="#1c1c1c" stroke-width="1.4" fill="none" />
<circle cx="230.3" cy="934" r="3.2" fill="#000"/>
<line x1="129.4" y1="960.8" x2="134" y2="960.8" stroke="#000" stroke-width="1.6" stroke-linecap="butt"/>
<text x="124.5" y="966.3" font-size="15.4" text-anchor="end" fill="#000">CN12</text>
<path d="M191.4 960.8H260.6M191.4 957.5v6.6M260.6 957.5v6.6" stroke="#1c1c1c" stroke-width="1.4" fill="none" />
<circle cx="225.8" cy="960.8" r="3.2" fill="#000"/>
<line x1="129.4" y1="987.7" x2="134" y2="987.7" stroke="#000" stroke-width="1.6" stroke-linecap="butt"/>
<text x="124.5" y="993.2" font-size="15.4" text-anchor="end" fill="#000">CN11</text>
<path d="M205.9 987.7H245.7M205.9 984.4v6.6M245.7 984.4v6.6" stroke="#1c1c1c" stroke-width="1.4" fill="none" />
<circle cx="225.3" cy="987.7" r="3.2" fill="#000"/>
<line x1="129.4" y1="1014.5" x2="134" y2="1014.5" stroke="#000" stroke-width="1.6" stroke-linecap="butt"/>
<text x="124.5" y="1020" font-size="15.4" text-anchor="end" fill="#000">CN13</text>
<path d="M171.5 1014.5H271.2M171.5 1011.2v6.6M271.2 1011.2v6.6" stroke="#1c1c1c" stroke-width="1.4" fill="none" />
<circle cx="221.1" cy="1014.5" r="3.2" fill="#000"/>
<line x1="129.4" y1="1041.4" x2="134" y2="1041.4" stroke="#000" stroke-width="1.6" stroke-linecap="butt"/>
<text x="124.5" y="1046.9" font-size="15.4" text-anchor="end" fill="#000">CN17</text>
<path d="M206.8 1041.4H233.1M206.8 1038.1v6.6M233.1 1038.1v6.6" stroke="#1c1c1c" stroke-width="1.4" fill="none" />
<circle cx="220" cy="1041.4" r="3.2" fill="#000"/>
<line x1="129.4" y1="1068.2" x2="134" y2="1068.2" stroke="#000" stroke-width="1.6" stroke-linecap="butt"/>
<text x="124.5" y="1073.7" font-size="15.4" text-anchor="end" fill="#000">CN2</text>
<path d="M200.6 1068.2H226.7M200.6 1064.9v6.6M226.7 1064.9v6.6" stroke="#1c1c1c" stroke-width="1.4" fill="none" />
<circle cx="213.8" cy="1068.2" r="3.2" fill="#000"/>
<line x1="129.4" y1="1095.1" x2="134" y2="1095.1" stroke="#000" stroke-width="1.6" stroke-linecap="butt"/>
<text x="124.5" y="1100.6" font-size="15.4" text-anchor="end" fill="#000">CN1</text>
<path d="M183.3 1095.1H214.6M183.3 1091.8v6.6M214.6 1091.8v6.6" stroke="#1c1c1c" stroke-width="1.4" fill="none" />
<circle cx="198.9" cy="1095.1" r="3.2" fill="#000"/>
<line x1="129.4" y1="1121.9" x2="134" y2="1121.9" stroke="#000" stroke-width="1.6" stroke-linecap="butt"/>
<text x="124.5" y="1127.5" font-size="15.4" text-anchor="end" fill="#000">CN14</text>
<path d="M147.1 1121.9H233.4M147.1 1118.7v6.6M233.4 1118.7v6.6" stroke="#1c1c1c" stroke-width="1.4" fill="none" />
<circle cx="190.5" cy="1121.9" r="3.2" fill="#000"/>
<line x1="129.4" y1="1148.8" x2="134" y2="1148.8" stroke="#000" stroke-width="1.6" stroke-linecap="butt"/>
<text x="124.5" y="1154.3" font-size="15.4" text-anchor="end" fill="#000">CN16</text>
<path d="M152.1 1148.8H227M152.1 1145.5v6.6M227 1145.5v6.6" stroke="#1c1c1c" stroke-width="1.4" fill="none" />
<circle cx="189.4" cy="1148.8" r="3.2" fill="#000"/>
<line x1="153.5" y1="1165" x2="391.4" y2="1165" stroke="#000" stroke-width="2" stroke-linecap="butt"/>
<line x1="154.5" y1="1165" x2="154.5" y2="1169.8" stroke="#000" stroke-width="1.6" stroke-linecap="butt"/>
<text x="154.5" y="1185.3" font-size="15.5" text-anchor="middle" fill="#000">−0.5</text>
<line x1="213.5" y1="1165" x2="213.5" y2="1169.8" stroke="#000" stroke-width="1.6" stroke-linecap="butt"/>
<text x="213.5" y="1185.3" font-size="15.5" text-anchor="middle" fill="#000">0.0</text>
<line x1="272.5" y1="1165" x2="272.5" y2="1169.8" stroke="#000" stroke-width="1.6" stroke-linecap="butt"/>
<text x="272.5" y="1185.3" font-size="15.5" text-anchor="middle" fill="#000">0.5</text>
<line x1="331.4" y1="1165" x2="331.4" y2="1169.8" stroke="#000" stroke-width="1.6" stroke-linecap="butt"/>
<text x="331.4" y="1185.3" font-size="15.5" text-anchor="middle" fill="#000">1.0</text>
<line x1="390.4" y1="1165" x2="390.4" y2="1169.8" stroke="#000" stroke-width="1.6" stroke-linecap="butt"/>
<text x="390.4" y="1185.3" font-size="15.5" text-anchor="middle" fill="#000">1.5</text>
<text x="278" y="1207.7" font-size="19.3" text-anchor="middle" fill="#000">log(Hazard Ratio)</text>
<text x="75.5" y="880.5" font-size="19.3" text-anchor="middle" transform="rotate(-90 75.5 880.5)">Copy Number Signatures</text>
<line x1="759.5" y1="595.4" x2="759.5" y2="1165" stroke="#000" stroke-width="1.4" stroke-linecap="butt"/>
<line x1="586.8" y1="605.3" x2="586.8" y2="1154.9" stroke="#000" stroke-width="2" stroke-linecap="butt"/>
<line x1="582.2" y1="606.3" x2="586.8" y2="606.3" stroke="#000" stroke-width="1.6" stroke-linecap="butt"/>
<text x="577.3" y="611.8" font-size="15.4" text-anchor="end" fill="#000">GBM</text>
<path d="M810.7 606.3H840.1M810.7 604.1v4.3M840.1 604.1v4.3" stroke="#1c1c1c" stroke-width="1.4" fill="none" />
<circle cx="825.3" cy="606.3" r="2.8" fill="#000"/>
<text x="856.7" y="608.5" font-size="6.6" text-anchor="middle" fill="#000">***</text>
<line x1="582.2" y1="624" x2="586.8" y2="624" stroke="#000" stroke-width="1.6" stroke-linecap="butt"/>
<text x="577.3" y="629.5" font-size="15.4" text-anchor="end" fill="#000">MESO</text>
<path d="M794.7 624H829.2M794.7 621.8v4.3M829.2 621.8v4.3" stroke="#1c1c1c" stroke-width="1.4" fill="none" />
<circle cx="811.8" cy="624" r="2.8" fill="#000"/>
<text x="856.7" y="626.2" font-size="6.6" text-anchor="middle" fill="#000">***</text>
<line x1="582.2" y1="641.6" x2="586.8" y2="641.6" stroke="#000" stroke-width="1.6" stroke-linecap="butt"/>
<text x="577.3" y="647.1" font-size="15.4" text-anchor="end" fill="#000">PAAD</text>
<path d="M787.4 641.6H820.2M787.4 639.5v4.3M820.2 639.5v4.3" stroke="#1c1c1c" stroke-width="1.4" fill="none" />
<circle cx="803.7" cy="641.6" r="2.8" fill="#000"/>
<text x="856.7" y="643.8" font-size="6.6" text-anchor="middle" fill="#000">***</text>
<line x1="582.2" y1="659.3" x2="586.8" y2="659.3" stroke="#000" stroke-width="1.6" stroke-linecap="butt"/>
<text x="577.3" y="664.8" font-size="15.4" text-anchor="end" fill="#000">UCS</text>
<path d="M772.3 659.3H810.1M772.3 657.1v4.3M810.1 657.1v4.3" stroke="#1c1c1c" stroke-width="1.4" fill="none" />
<circle cx="791.4" cy="659.3" r="2.8" fill="#000"/>
<text x="856.7" y="661.5" font-size="6.6" text-anchor="middle" fill="#000">**</text>
<line x1="582.2" y1="677" x2="586.8" y2="677" stroke="#000" stroke-width="1.6" stroke-linecap="butt"/>
<text x="577.3" y="682.5" font-size="15.4" text-anchor="end" fill="#000">CHOL</text>
<path d="M768.7 677H812.7M768.7 674.8v4.3M812.7 674.8v4.3" stroke="#1c1c1c" stroke-width="1.4" fill="none" />
<circle cx="790.5" cy="677" r="2.8" fill="#000"/>
<text x="856.7" y="679.2" font-size="6.6" text-anchor="middle" fill="#000">*</text>
<line x1="582.2" y1="694.6" x2="586.8" y2="694.6" stroke="#000" stroke-width="1.6" stroke-linecap="butt"/>
<text x="577.3" y="700.1" font-size="15.4" text-anchor="end" fill="#000">ESCA</text>
<path d="M765.6 694.6H799.5M765.6 692.5v4.3M799.5 692.5v4.3" stroke="#1c1c1c" stroke-width="1.4" fill="none" />
<circle cx="782.4" cy="694.6" r="2.8" fill="#000"/>
<text x="856.7" y="696.8" font-size="6.6" text-anchor="middle" fill="#000">*</text>
<line x1="582.2" y1="712.3" x2="586.8" y2="712.3" stroke="#000" stroke-width="1.6" stroke-linecap="butt"/>
<text x="577.3" y="717.8" font-size="15.4" text-anchor="end" fill="#000">UVM</text>
<path d="M757.2 712.3H798.4M757.2 710.1v4.3M798.4 710.1v4.3" stroke="#1c1c1c" stroke-width="1.4" fill="none" />
<circle cx="777.9" cy="712.3" r="2.8" fill="#000"/>
<line x1="582.2" y1="730" x2="586.8" y2="730" stroke="#000" stroke-width="1.6" stroke-linecap="butt"/>
<text x="577.3" y="735.5" font-size="15.4" text-anchor="end" fill="#000">OV</text>
<path d="M762.5 730H791.7M762.5 727.8v4.3M791.7 727.8v4.3" stroke="#1c1c1c" stroke-width="1.4" fill="none" />
<circle cx="777.1" cy="730" r="2.8" fill="#000"/>
<text x="856.7" y="732.2" font-size="6.6" text-anchor="middle" fill="#000">*</text>
<line x1="582.2" y1="747.6" x2="586.8" y2="747.6" stroke="#000" stroke-width="1.6" stroke-linecap="butt"/>
<text x="577.3" y="753.1" font-size="15.4" text-anchor="end" fill="#000">STAD</text>
<path d="M759.7 747.6H790.8M759.7 745.5v4.3M790.8 745.5v4.3" stroke="#1c1c1c" stroke-width="1.4" fill="none" />
<circle cx="775.1" cy="747.6" r="2.8" fill="#000"/>
<line x1="582.2" y1="765.3" x2="586.8" y2="765.3" stroke="#000" stroke-width="1.6" stroke-linecap="butt"/>
<text x="577.3" y="770.8" font-size="15.4" text-anchor="end" fill="#000">BLCA</text>
<path d="M759.7 765.3H790.5M759.7 763.1v4.3M790.5 763.1v4.3" stroke="#1c1c1c" stroke-width="1.4" fill="none" />
<circle cx="774.8" cy="765.3" r="2.8" fill="#000"/>
<line x1="582.2" y1="782.9" x2="586.8" y2="782.9" stroke="#000" stroke-width="1.6" stroke-linecap="butt"/>
<text x="577.3" y="788.5" font-size="15.4" text-anchor="end" fill="#000">HNSC</text>
<path d="M751.6 782.9H782.1M751.6 780.8v4.3M782.1 780.8v4.3" stroke="#1c1c1c" stroke-width="1.4" fill="none" />
<circle cx="766.7" cy="782.9" r="2.8" fill="#000"/>
<line x1="582.2" y1="800.6" x2="586.8" y2="800.6" stroke="#000" stroke-width="1.6" stroke-linecap="butt"/>
<text x="577.3" y="806.1" font-size="15.4" text-anchor="end" fill="#000">LGG</text>
<path d="M748.5 800.6H779.6M748.5 798.4v4.3M779.6 798.4v4.3" stroke="#1c1c1c" stroke-width="1.4" fill="none" />
<circle cx="763.9" cy="800.6" r="2.8" fill="#000"/>
<line x1="582.2" y1="818.3" x2="586.8" y2="818.3" stroke="#000" stroke-width="1.6" stroke-linecap="butt"/>
<text x="577.3" y="823.8" font-size="15.4" text-anchor="end" fill="#000">SKCM</text>
<path d="M749.1 818.3H778.8M749.1 816.1v4.3M778.8 816.1v4.3" stroke="#1c1c1c" stroke-width="1.4" fill="none" />
<circle cx="763.6" cy="818.3" r="2.8" fill="#000"/>
<line x1="582.2" y1="835.9" x2="586.8" y2="835.9" stroke="#000" stroke-width="1.6" stroke-linecap="butt"/>
<text x="577.3" y="841.5" font-size="15.4" text-anchor="end" fill="#000">LUAD</text>
<path d="M746.8 835.9H777.9M746.8 833.8v4.3M777.9 833.8v4.3" stroke="#1c1c1c" stroke-width="1.4" fill="none" />
<circle cx="762.2" cy="835.9" r="2.8" fill="#000"/>
<line x1="582.2" y1="853.6" x2="586.8" y2="853.6" stroke="#000" stroke-width="1.6" stroke-linecap="butt"/>
<text x="577.3" y="859.1" font-size="15.4" text-anchor="end" fill="#000">SARC</text>
<path d="M744.9 853.6H777.1M744.9 851.4v4.3M777.1 851.4v4.3" stroke="#1c1c1c" stroke-width="1.4" fill="none" />
<circle cx="760.8" cy="853.6" r="2.8" fill="#000"/>
<line x1="582.2" y1="871.3" x2="586.8" y2="871.3" stroke="#000" stroke-width="1.6" stroke-linecap="butt"/>
<text x="577.3" y="876.8" font-size="15.4" text-anchor="end" fill="#000">LIHC</text>
<path d="M744.6 871.3H777.1M744.6 869.1v4.3M777.1 869.1v4.3" stroke="#1c1c1c" stroke-width="1.4" fill="none" />
<circle cx="760.8" cy="871.3" r="2.8" fill="#000"/>
<line x1="582.2" y1="888.9" x2="586.8" y2="888.9" stroke="#000" stroke-width="1.6" stroke-linecap="butt"/>
<text x="577.3" y="894.4" font-size="15.4" text-anchor="end" fill="#000">ACC</text>
<rect x="756.5" y="885.7" width="5.2" height="6.4" fill="#000"/>
<line x1="582.2" y1="906.6" x2="586.8" y2="906.6" stroke="#000" stroke-width="1.6" stroke-linecap="butt"/>
<text x="577.3" y="912.1" font-size="15.4" text-anchor="end" fill="#000">KIRC</text>
<path d="M737.3 906.6H768.1M737.3 904.4v4.3M768.1 904.4v4.3" stroke="#1c1c1c" stroke-width="1.4" fill="none" />
<circle cx="752.7" cy="906.6" r="2.8" fill="#000"/>
<line x1="582.2" y1="924.3" x2="586.8" y2="924.3" stroke="#000" stroke-width="1.6" stroke-linecap="butt"/>
<text x="577.3" y="929.8" font-size="15.4" text-anchor="end" fill="#000">LUSC</text>
<path d="M736.5 924.3H767.8M736.5 922.1v4.3M767.8 922.1v4.3" stroke="#1c1c1c" stroke-width="1.4" fill="none" />
<circle cx="752.1" cy="924.3" r="2.8" fill="#000"/>
<line x1="582.2" y1="941.9" x2="586.8" y2="941.9" stroke="#000" stroke-width="1.6" stroke-linecap="butt"/>
<text x="577.3" y="947.4" font-size="15.4" text-anchor="end" fill="#000">CESC</text>
<path d="M732.5 941.9H766.7M732.5 939.8v4.3M766.7 939.8v4.3" stroke="#1c1c1c" stroke-width="1.4" fill="none" />
<circle cx="749.6" cy="941.9" r="2.8" fill="#000"/>
<line x1="582.2" y1="959.6" x2="586.8" y2="959.6" stroke="#000" stroke-width="1.6" stroke-linecap="butt"/>
<text x="577.3" y="965.1" font-size="15.4" text-anchor="end" fill="#000">COAD</text>
<path d="M729.7 959.6H763.3M729.7 957.4v4.3M763.3 957.4v4.3" stroke="#1c1c1c" stroke-width="1.4" fill="none" />
<circle cx="746.3" cy="959.6" r="2.8" fill="#000"/>
<line x1="582.2" y1="977.3" x2="586.8" y2="977.3" stroke="#000" stroke-width="1.6" stroke-linecap="butt"/>
<text x="577.3" y="982.8" font-size="15.4" text-anchor="end" fill="#000">KIRP</text>
<path d="M722.2 977.3H760M722.2 975.1v4.3M760 975.1v4.3" stroke="#1c1c1c" stroke-width="1.4" fill="none" />
<circle cx="740.9" cy="977.3" r="2.8" fill="#000"/>
<line x1="582.2" y1="994.9" x2="586.8" y2="994.9" stroke="#000" stroke-width="1.6" stroke-linecap="butt"/>
<text x="577.3" y="1000.4" font-size="15.4" text-anchor="end" fill="#000">READ</text>
<path d="M709.6 994.9H756.6M709.6 992.8v4.3M756.6 992.8v4.3" stroke="#1c1c1c" stroke-width="1.4" fill="none" />
<circle cx="733.1" cy="994.9" r="2.8" fill="#000"/>
<line x1="582.2" y1="1012.6" x2="586.8" y2="1012.6" stroke="#000" stroke-width="1.6" stroke-linecap="butt"/>
<text x="577.3" y="1018.1" font-size="15.4" text-anchor="end" fill="#000">UCEC</text>
<path d="M712.6 1012.6H747.1M712.6 1010.4v4.3M747.1 1010.4v4.3" stroke="#1c1c1c" stroke-width="1.4" fill="none" />
<circle cx="730" cy="1012.6" r="2.8" fill="#000"/>
<text x="856.7" y="1014.8" font-size="6.6" text-anchor="middle" fill="#000">**</text>
<line x1="582.2" y1="1030.2" x2="586.8" y2="1030.2" stroke="#000" stroke-width="1.6" stroke-linecap="butt"/>
<text x="577.3" y="1035.8" font-size="15.4" text-anchor="end" fill="#000">KICH</text>
<path d="M686 1030.2H744.3M686 1028.1v4.3M744.3 1028.1v4.3" stroke="#1c1c1c" stroke-width="1.4" fill="none" />
<circle cx="715.2" cy="1030.2" r="2.8" fill="#000"/>
<text x="856.7" y="1032.4" font-size="6.6" text-anchor="middle" fill="#000">**</text>
<line x1="582.2" y1="1047.9" x2="586.8" y2="1047.9" stroke="#000" stroke-width="1.6" stroke-linecap="butt"/>
<text x="577.3" y="1053.4" font-size="15.4" text-anchor="end" fill="#000">DLBC</text>
<path d="M670.3 1047.9H754.1M670.3 1045.7v4.3M754.1 1045.7v4.3" stroke="#1c1c1c" stroke-width="1.4" fill="none" />
<circle cx="712.1" cy="1047.9" r="2.8" fill="#000"/>
<line x1="582.2" y1="1065.6" x2="586.8" y2="1065.6" stroke="#000" stroke-width="1.6" stroke-linecap="butt"/>
<text x="577.3" y="1071.1" font-size="15.4" text-anchor="end" fill="#000">BRCA</text>
<path d="M694.7 1065.6H727.5M694.7 1063.4v4.3M727.5 1063.4v4.3" stroke="#1c1c1c" stroke-width="1.4" fill="none" />
<circle cx="711" cy="1065.6" r="2.8" fill="#000"/>
<text x="856.7" y="1067.8" font-size="6.6" text-anchor="middle" fill="#000">***</text>
<line x1="582.2" y1="1083.2" x2="586.8" y2="1083.2" stroke="#000" stroke-width="1.6" stroke-linecap="butt"/>
<text x="577.3" y="1088.8" font-size="15.4" text-anchor="end" fill="#000">PCPG</text>
<path d="M645.7 1083.2H719.6M645.7 1081.1v4.3M719.6 1081.1v4.3" stroke="#1c1c1c" stroke-width="1.4" fill="none" />
<circle cx="682.7" cy="1083.2" r="2.8" fill="#000"/>
<text x="856.7" y="1085.4" font-size="6.6" text-anchor="middle" fill="#000">***</text>
<line x1="582.2" y1="1100.9" x2="586.8" y2="1100.9" stroke="#000" stroke-width="1.6" stroke-linecap="butt"/>
<text x="577.3" y="1106.4" font-size="15.4" text-anchor="end" fill="#000">THCA</text>
<path d="M649.6 1100.9H712.4M649.6 1098.7v4.3M712.4 1098.7v4.3" stroke="#1c1c1c" stroke-width="1.4" fill="none" />
<circle cx="681" cy="1100.9" r="2.8" fill="#000"/>
<text x="856.7" y="1103.1" font-size="6.6" text-anchor="middle" fill="#000">***</text>
<line x1="582.2" y1="1118.6" x2="586.8" y2="1118.6" stroke="#000" stroke-width="1.6" stroke-linecap="butt"/>
<text x="577.3" y="1124.1" font-size="15.4" text-anchor="end" fill="#000">THYM</text>
<path d="M630 1118.6H730.3M630 1116.4v4.3M730.3 1116.4v4.3" stroke="#1c1c1c" stroke-width="1.4" fill="none" />
<circle cx="680.1" cy="1118.6" r="2.8" fill="#000"/>
<text x="856.7" y="1120.8" font-size="6.6" text-anchor="middle" fill="#000">**</text>
<line x1="582.2" y1="1136.2" x2="586.8" y2="1136.2" stroke="#000" stroke-width="1.6" stroke-linecap="butt"/>
<text x="577.3" y="1141.7" font-size="15.4" text-anchor="end" fill="#000">PRAD</text>
<path d="M616 1136.2H683.2M616 1134.1v4.3M683.2 1134.1v4.3" stroke="#1c1c1c" stroke-width="1.4" fill="none" />
<circle cx="649.3" cy="1136.2" r="2.8" fill="#000"/>
<text x="856.7" y="1138.4" font-size="6.6" text-anchor="middle" fill="#000">***</text>
<line x1="582.2" y1="1153.9" x2="586.8" y2="1153.9" stroke="#000" stroke-width="1.6" stroke-linecap="butt"/>
<text x="577.3" y="1159.4" font-size="15.4" text-anchor="end" fill="#000">TGCT</text>
<path d="M599.2 1153.9H699.5M599.2 1151.7v4.3M699.5 1151.7v4.3" stroke="#1c1c1c" stroke-width="1.4" fill="none" />
<circle cx="649.3" cy="1153.9" r="2.8" fill="#000"/>
<text x="856.7" y="1156.1" font-size="6.6" text-anchor="middle" fill="#000">***</text>
<line x1="619.7" y1="1165" x2="864.1" y2="1165" stroke="#000" stroke-width="2" stroke-linecap="butt"/>
<line x1="620.7" y1="1165" x2="620.7" y2="1169.8" stroke="#000" stroke-width="1.6" stroke-linecap="butt"/>
<text x="620.7" y="1185.3" font-size="15.5" text-anchor="middle" fill="#000">−4</text>
<line x1="655.3" y1="1165" x2="655.3" y2="1169.8" stroke="#000" stroke-width="1.6" stroke-linecap="butt"/>
<text x="655.3" y="1185.3" font-size="15.5" text-anchor="middle" fill="#000">−3</text>
<line x1="689.9" y1="1165" x2="689.9" y2="1169.8" stroke="#000" stroke-width="1.6" stroke-linecap="butt"/>
<text x="689.9" y="1185.3" font-size="15.5" text-anchor="middle" fill="#000">−2</text>
<line x1="724.6" y1="1165" x2="724.6" y2="1169.8" stroke="#000" stroke-width="1.6" stroke-linecap="butt"/>
<text x="724.6" y="1185.3" font-size="15.5" text-anchor="middle" fill="#000">−1</text>
<line x1="759.2" y1="1165" x2="759.2" y2="1169.8" stroke="#000" stroke-width="1.6" stroke-linecap="butt"/>
<text x="759.2" y="1185.3" font-size="15.5" text-anchor="middle" fill="#000">0</text>
<line x1="793.8" y1="1165" x2="793.8" y2="1169.8" stroke="#000" stroke-width="1.6" stroke-linecap="butt"/>
<text x="793.8" y="1185.3" font-size="15.5" text-anchor="middle" fill="#000">1</text>
<line x1="828.5" y1="1165" x2="828.5" y2="1169.8" stroke="#000" stroke-width="1.6" stroke-linecap="butt"/>
<text x="828.5" y="1185.3" font-size="15.5" text-anchor="middle" fill="#000">2</text>
<line x1="863.1" y1="1165" x2="863.1" y2="1169.8" stroke="#000" stroke-width="1.6" stroke-linecap="butt"/>
<text x="863.1" y="1185.3" font-size="15.5" text-anchor="middle" fill="#000">3</text>
<text x="728" y="1207.7" font-size="19.3" text-anchor="middle" fill="#000">log(Hazard Ratio)</text>
<text x="522" y="880.5" font-size="19.3" text-anchor="middle" transform="rotate(-90 522 880.5)">Tissues</text>
<line x1="1227.5" y1="595.4" x2="1227.5" y2="1165" stroke="#000" stroke-width="1.4" stroke-linecap="butt"/>
<line x1="1029.6" y1="610.7" x2="1029.6" y2="1149.8" stroke="#000" stroke-width="2" stroke-linecap="butt"/>
<line x1="1025" y1="611.7" x2="1029.6" y2="611.7" stroke="#000" stroke-width="1.6" stroke-linecap="butt"/>
<text x="1019.6" y="617.2" font-size="15.4" text-anchor="end" fill="#000">CN16</text>
<path d="M1217.6 611.7H1291.3M1217.6 608.4v6.6M1291.3 608.4v6.6" stroke="#1c1c1c" stroke-width="1.4" fill="none" />
<circle cx="1254.3" cy="611.7" r="3.2" fill="#000"/>
<line x1="1025" y1="638.6" x2="1029.6" y2="638.6" stroke="#000" stroke-width="1.6" stroke-linecap="butt"/>
<text x="1019.6" y="644.1" font-size="15.4" text-anchor="end" fill="#000">CN14</text>
<path d="M1207.8 638.6H1293.3M1207.8 635.3v6.6M1293.3 635.3v6.6" stroke="#1c1c1c" stroke-width="1.4" fill="none" />
<circle cx="1250.4" cy="638.6" r="3.2" fill="#000"/>
<line x1="1025" y1="665.4" x2="1029.6" y2="665.4" stroke="#000" stroke-width="1.6" stroke-linecap="butt"/>
<text x="1019.6" y="670.9" font-size="15.4" text-anchor="end" fill="#000">CN1</text>
<path d="M1226.3 665.4H1256.3M1226.3 662.1v6.6M1256.3 662.1v6.6" stroke="#1c1c1c" stroke-width="1.4" fill="none" />
<circle cx="1241.2" cy="665.4" r="3.2" fill="#000"/>
<line x1="1025" y1="692.3" x2="1029.6" y2="692.3" stroke="#000" stroke-width="1.6" stroke-linecap="butt"/>
<text x="1019.6" y="697.8" font-size="15.4" text-anchor="end" fill="#000">CN2</text>
<path d="M1212.9 692.3H1238.9M1212.9 689v6.6M1238.9 689v6.6" stroke="#1c1c1c" stroke-width="1.4" fill="none" />
<circle cx="1225.8" cy="692.3" r="3.2" fill="#000"/>
<line x1="1025" y1="719.1" x2="1029.6" y2="719.1" stroke="#000" stroke-width="1.6" stroke-linecap="butt"/>
<text x="1019.6" y="724.6" font-size="15.4" text-anchor="end" fill="#000">CN17</text>
<path d="M1205.6 719.1H1232.2M1205.6 715.8v6.6M1232.2 715.8v6.6" stroke="#1c1c1c" stroke-width="1.4" fill="none" />
<circle cx="1219" cy="719.1" r="3.2" fill="#000"/>
<line x1="1025" y1="746" x2="1029.6" y2="746" stroke="#000" stroke-width="1.6" stroke-linecap="butt"/>
<text x="1019.6" y="751.5" font-size="15.4" text-anchor="end" fill="#000">CN13</text>
<path d="M1169.2 746H1267.5M1169.2 742.7v6.6M1267.5 742.7v6.6" stroke="#1c1c1c" stroke-width="1.4" fill="none" />
<circle cx="1218.2" cy="746" r="3.2" fill="#000"/>
<line x1="1025" y1="772.8" x2="1029.6" y2="772.8" stroke="#000" stroke-width="1.6" stroke-linecap="butt"/>
<text x="1019.6" y="778.3" font-size="15.4" text-anchor="end" fill="#000">CN12</text>
<path d="M1182.9 772.8H1250.7M1182.9 769.5v6.6M1250.7 769.5v6.6" stroke="#1c1c1c" stroke-width="1.4" fill="none" />
<circle cx="1216.8" cy="772.8" r="3.2" fill="#000"/>
<line x1="1025" y1="799.7" x2="1029.6" y2="799.7" stroke="#000" stroke-width="1.6" stroke-linecap="butt"/>
<text x="1019.6" y="805.2" font-size="15.4" text-anchor="end" fill="#000">CN11</text>
<path d="M1196.3 799.7H1236.1M1196.3 796.4v6.6M1236.1 796.4v6.6" stroke="#1c1c1c" stroke-width="1.4" fill="none" />
<circle cx="1216.2" cy="799.7" r="3.2" fill="#000"/>
<line x1="1025" y1="826.5" x2="1029.6" y2="826.5" stroke="#000" stroke-width="1.6" stroke-linecap="butt"/>
<text x="1019.6" y="832.1" font-size="15.4" text-anchor="end" fill="#000">CN8</text>
<path d="M1192.1 826.5H1227.4M1192.1 823.3v6.6M1227.4 823.3v6.6" stroke="#1c1c1c" stroke-width="1.4" fill="none" />
<circle cx="1209.8" cy="826.5" r="3.2" fill="#000"/>
<line x1="1025" y1="853.4" x2="1029.6" y2="853.4" stroke="#000" stroke-width="1.6" stroke-linecap="butt"/>
<text x="1019.6" y="858.9" font-size="15.4" text-anchor="end" fill="#000">CN7</text>
<path d="M1170.6 853.4H1245.1M1170.6 850.1v6.6M1245.1 850.1v6.6" stroke="#1c1c1c" stroke-width="1.4" fill="none" />
<circle cx="1207.8" cy="853.4" r="3.2" fill="#000"/>
<line x1="1025" y1="880.2" x2="1029.6" y2="880.2" stroke="#000" stroke-width="1.6" stroke-linecap="butt"/>
<text x="1019.6" y="885.8" font-size="15.4" text-anchor="end" fill="#000">CN6</text>
<path d="M1191 880.2H1219M1191 877v6.6M1219 877v6.6" stroke="#1c1c1c" stroke-width="1.4" fill="none" />
<circle cx="1205" cy="880.2" r="3.2" fill="#000"/>
<text x="1305.6" y="882.5" font-size="6.6" text-anchor="middle" fill="#000">**</text>
<line x1="1025" y1="907.1" x2="1029.6" y2="907.1" stroke="#000" stroke-width="1.6" stroke-linecap="butt"/>
<text x="1019.6" y="912.6" font-size="15.4" text-anchor="end" fill="#000">CN3</text>
<path d="M1161.9 907.1H1240.1M1161.9 903.8v6.6M1240.1 903.8v6.6" stroke="#1c1c1c" stroke-width="1.4" fill="none" />
<circle cx="1201.1" cy="907.1" r="3.2" fill="#000"/>
<line x1="1025" y1="934" x2="1029.6" y2="934" stroke="#000" stroke-width="1.6" stroke-linecap="butt"/>
<text x="1019.6" y="939.5" font-size="15.4" text-anchor="end" fill="#000">CN9</text>
<path d="M1186.5 934H1213.2M1186.5 930.7v6.6M1213.2 930.7v6.6" stroke="#1c1c1c" stroke-width="1.4" fill="none" />
<circle cx="1199.7" cy="934" r="3.2" fill="#000"/>
<text x="1305.6" y="936.2" font-size="6.6" text-anchor="middle" fill="#000">***</text>
<line x1="1025" y1="960.8" x2="1029.6" y2="960.8" stroke="#000" stroke-width="1.6" stroke-linecap="butt"/>
<text x="1019.6" y="966.3" font-size="15.4" text-anchor="end" fill="#000">CN18</text>
<path d="M1166.1 960.8H1227.4M1166.1 957.5v6.6M1227.4 957.5v6.6" stroke="#1c1c1c" stroke-width="1.4" fill="none" />
<circle cx="1196.9" cy="960.8" r="3.2" fill="#000"/>
<line x1="1025" y1="987.7" x2="1029.6" y2="987.7" stroke="#000" stroke-width="1.6" stroke-linecap="butt"/>
<text x="1019.6" y="993.2" font-size="15.4" text-anchor="end" fill="#000">CN20</text>
<path d="M1156.3 987.7H1220.4M1156.3 984.4v6.6M1220.4 984.4v6.6" stroke="#1c1c1c" stroke-width="1.4" fill="none" />
<circle cx="1188.2" cy="987.7" r="3.2" fill="#000"/>
<text x="1305.6" y="989.9" font-size="6.6" text-anchor="middle" fill="#000">*</text>
<line x1="1025" y1="1014.5" x2="1029.6" y2="1014.5" stroke="#000" stroke-width="1.6" stroke-linecap="butt"/>
<text x="1019.6" y="1020" font-size="15.4" text-anchor="end" fill="#000">CN15</text>
<path d="M1110.3 1014.5H1261.1M1110.3 1011.2v6.6M1261.1 1011.2v6.6" stroke="#1c1c1c" stroke-width="1.4" fill="none" />
<circle cx="1185.7" cy="1014.5" r="3.2" fill="#000"/>
<line x1="1025" y1="1041.4" x2="1029.6" y2="1041.4" stroke="#000" stroke-width="1.6" stroke-linecap="butt"/>
<text x="1019.6" y="1046.9" font-size="15.4" text-anchor="end" fill="#000">CN19</text>
<path d="M1143.4 1041.4H1215.1M1143.4 1038.1v6.6M1215.1 1038.1v6.6" stroke="#1c1c1c" stroke-width="1.4" fill="none" />
<circle cx="1179.3" cy="1041.4" r="3.2" fill="#000"/>
<text x="1305.6" y="1043.6" font-size="6.6" text-anchor="middle" fill="#000">*</text>
<line x1="1025" y1="1068.2" x2="1029.6" y2="1068.2" stroke="#000" stroke-width="1.6" stroke-linecap="butt"/>
<text x="1019.6" y="1073.7" font-size="15.4" text-anchor="end" fill="#000">CN5</text>
<path d="M1149.3 1068.2H1202.8M1149.3 1064.9v6.6M1202.8 1064.9v6.6" stroke="#1c1c1c" stroke-width="1.4" fill="none" />
<circle cx="1175.9" cy="1068.2" r="3.2" fill="#000"/>
<text x="1305.6" y="1070.4" font-size="6.6" text-anchor="middle" fill="#000">***</text>
<line x1="1025" y1="1095.1" x2="1029.6" y2="1095.1" stroke="#000" stroke-width="1.6" stroke-linecap="butt"/>
<text x="1019.6" y="1100.6" font-size="15.4" text-anchor="end" fill="#000">CN4</text>
<path d="M1070 1095.1H1260.2M1070 1091.8v6.6M1260.2 1091.8v6.6" stroke="#1c1c1c" stroke-width="1.4" fill="none" />
<circle cx="1165" cy="1095.1" r="3.2" fill="#000"/>
<line x1="1025" y1="1121.9" x2="1029.6" y2="1121.9" stroke="#000" stroke-width="1.6" stroke-linecap="butt"/>
<text x="1019.6" y="1127.5" font-size="15.4" text-anchor="end" fill="#000">CN21</text>
<path d="M1115.4 1121.9H1212.6M1115.4 1118.7v6.6M1212.6 1118.7v6.6" stroke="#1c1c1c" stroke-width="1.4" fill="none" />
<circle cx="1163.8" cy="1121.9" r="3.2" fill="#000"/>
<text x="1305.6" y="1124.1" font-size="6.6" text-anchor="middle" fill="#000">*</text>
<line x1="1025" y1="1148.8" x2="1029.6" y2="1148.8" stroke="#000" stroke-width="1.6" stroke-linecap="butt"/>
<text x="1019.6" y="1154.3" font-size="15.4" text-anchor="end" fill="#000">CN10</text>
<path d="M1042.5 1148.8H1168.9M1042.5 1145.5v6.6M1168.9 1145.5v6.6" stroke="#1c1c1c" stroke-width="1.4" fill="none" />
<circle cx="1105.6" cy="1148.8" r="3.2" fill="#000"/>
<text x="1305.6" y="1151" font-size="6.6" text-anchor="middle" fill="#000">***</text>
<line x1="1038.8" y1="1165" x2="1291" y2="1165" stroke="#000" stroke-width="2" stroke-linecap="butt"/>
<line x1="1039.8" y1="1165" x2="1039.8" y2="1169.8" stroke="#000" stroke-width="1.6" stroke-linecap="butt"/>
<text x="1039.8" y="1185.3" font-size="15.5" text-anchor="middle" fill="#000">−1.5</text>
<line x1="1102.3" y1="1165" x2="1102.3" y2="1169.8" stroke="#000" stroke-width="1.6" stroke-linecap="butt"/>
<text x="1102.3" y="1185.3" font-size="15.5" text-anchor="middle" fill="#000">−1.0</text>
<line x1="1164.9" y1="1165" x2="1164.9" y2="1169.8" stroke="#000" stroke-width="1.6" stroke-linecap="butt"/>
<text x="1164.9" y="1185.3" font-size="15.5" text-anchor="middle" fill="#000">−0.5</text>
<line x1="1227.4" y1="1165" x2="1227.4" y2="1169.8" stroke="#000" stroke-width="1.6" stroke-linecap="butt"/>
<text x="1227.4" y="1185.3" font-size="15.5" text-anchor="middle" fill="#000">0.0</text>
<line x1="1290" y1="1165" x2="1290" y2="1169.8" stroke="#000" stroke-width="1.6" stroke-linecap="butt"/>
<text x="1290" y="1185.3" font-size="15.5" text-anchor="middle" fill="#000">0.5</text>
<text x="1173.7" y="1207.7" font-size="19.3" text-anchor="middle" fill="#000">log(Deceleration Factor)</text>
<text x="970.4" y="880.5" font-size="19.3" text-anchor="middle" transform="rotate(-90 970.4 880.5)">Copy Number Signatures</text>
<line x1="1576.5" y1="595.4" x2="1576.5" y2="1165" stroke="#000" stroke-width="1.4" stroke-linecap="butt"/>
<line x1="1485" y1="605.3" x2="1485" y2="1154.9" stroke="#000" stroke-width="2" stroke-linecap="butt"/>
<line x1="1480.4" y1="606.3" x2="1485" y2="606.3" stroke="#000" stroke-width="1.6" stroke-linecap="butt"/>
<text x="1475.5" y="611.8" font-size="15.4" text-anchor="end" fill="#000">TGCT</text>
<path d="M1639.7 606.3H1736.9M1639.7 604.1v4.3M1736.9 604.1v4.3" stroke="#1c1c1c" stroke-width="1.4" fill="none" />
<circle cx="1688.1" cy="606.3" r="2.8" fill="#000"/>
<text x="1754.6" y="608.5" font-size="6.6" text-anchor="middle" fill="#000">***</text>
<line x1="1480.4" y1="624" x2="1485" y2="624" stroke="#000" stroke-width="1.6" stroke-linecap="butt"/>
<text x="1475.5" y="629.5" font-size="15.4" text-anchor="end" fill="#000">PRAD</text>
<path d="M1648.6 624H1713.9M1648.6 621.8v4.3M1713.9 621.8v4.3" stroke="#1c1c1c" stroke-width="1.4" fill="none" />
<circle cx="1681.4" cy="624" r="2.8" fill="#000"/>
<text x="1754.6" y="626.2" font-size="6.6" text-anchor="middle" fill="#000">***</text>
<line x1="1480.4" y1="641.6" x2="1485" y2="641.6" stroke="#000" stroke-width="1.6" stroke-linecap="butt"/>
<text x="1475.5" y="647.1" font-size="15.4" text-anchor="end" fill="#000">THCA</text>
<path d="M1621.5 641.6H1682.5M1621.5 639.5v4.3M1682.5 639.5v4.3" stroke="#1c1c1c" stroke-width="1.4" fill="none" />
<circle cx="1652" cy="641.6" r="2.8" fill="#000"/>
<text x="1754.6" y="643.8" font-size="6.6" text-anchor="middle" fill="#000">***</text>
<line x1="1480.4" y1="659.3" x2="1485" y2="659.3" stroke="#000" stroke-width="1.6" stroke-linecap="butt"/>
<text x="1475.5" y="664.8" font-size="15.4" text-anchor="end" fill="#000">THYM</text>
<path d="M1603.2 659.3H1701M1603.2 657.1v4.3M1701 657.1v4.3" stroke="#1c1c1c" stroke-width="1.4" fill="none" />
<circle cx="1652" cy="659.3" r="2.8" fill="#000"/>
<text x="1754.6" y="661.5" font-size="6.6" text-anchor="middle" fill="#000">**</text>
<line x1="1480.4" y1="677" x2="1485" y2="677" stroke="#000" stroke-width="1.6" stroke-linecap="butt"/>
<text x="1475.5" y="682.5" font-size="15.4" text-anchor="end" fill="#000">PCPG</text>
<path d="M1615 677H1686.7M1615 674.8v4.3M1686.7 674.8v4.3" stroke="#1c1c1c" stroke-width="1.4" fill="none" />
<circle cx="1650.6" cy="677" r="2.8" fill="#000"/>
<text x="1754.6" y="679.2" font-size="6.6" text-anchor="middle" fill="#000">***</text>
<line x1="1480.4" y1="694.6" x2="1485" y2="694.6" stroke="#000" stroke-width="1.6" stroke-linecap="butt"/>
<text x="1475.5" y="700.1" font-size="15.4" text-anchor="end" fill="#000">DLBC</text>
<path d="M1583.6 694.6H1664.6M1583.6 692.5v4.3M1664.6 692.5v4.3" stroke="#1c1c1c" stroke-width="1.4" fill="none" />
<circle cx="1624.3" cy="694.6" r="2.8" fill="#000"/>
<text x="1754.6" y="696.8" font-size="6.6" text-anchor="middle" fill="#000">*</text>
<line x1="1480.4" y1="712.3" x2="1485" y2="712.3" stroke="#000" stroke-width="1.6" stroke-linecap="butt"/>
<text x="1475.5" y="717.8" font-size="15.4" text-anchor="end" fill="#000">BRCA</text>
<path d="M1608.3 712.3H1640M1608.3 710.1v4.3M1640 710.1v4.3" stroke="#1c1c1c" stroke-width="1.4" fill="none" />
<circle cx="1624" cy="712.3" r="2.8" fill="#000"/>
<text x="1754.6" y="714.5" font-size="6.6" text-anchor="middle" fill="#000">***</text>
<line x1="1480.4" y1="730" x2="1485" y2="730" stroke="#000" stroke-width="1.6" stroke-linecap="butt"/>
<text x="1475.5" y="735.5" font-size="15.4" text-anchor="end" fill="#000">KICH</text>
<path d="M1593.2 730H1649.5M1593.2 727.8v4.3M1649.5 727.8v4.3" stroke="#1c1c1c" stroke-width="1.4" fill="none" />
<circle cx="1621.2" cy="730" r="2.8" fill="#000"/>
<text x="1754.6" y="732.2" font-size="6.6" text-anchor="middle" fill="#000">**</text>
<line x1="1480.4" y1="747.6" x2="1485" y2="747.6" stroke="#000" stroke-width="1.6" stroke-linecap="butt"/>
<text x="1475.5" y="753.1" font-size="15.4" text-anchor="end" fill="#000">UCEC</text>
<path d="M1587.6 747.6H1620.6M1587.6 745.5v4.3M1620.6 745.5v4.3" stroke="#1c1c1c" stroke-width="1.4" fill="none" />
<circle cx="1604.1" cy="747.6" r="2.8" fill="#000"/>
<text x="1754.6" y="749.8" font-size="6.6" text-anchor="middle" fill="#000">**</text>
<line x1="1480.4" y1="765.3" x2="1485" y2="765.3" stroke="#000" stroke-width="1.6" stroke-linecap="butt"/>
<text x="1475.5" y="770.8" font-size="15.4" text-anchor="end" fill="#000">READ</text>
<path d="M1576.3 765.3H1622.6M1576.3 763.1v4.3M1622.6 763.1v4.3" stroke="#1c1c1c" stroke-width="1.4" fill="none" />
<circle cx="1599.6" cy="765.3" r="2.8" fill="#000"/>
<line x1="1480.4" y1="782.9" x2="1485" y2="782.9" stroke="#000" stroke-width="1.6" stroke-linecap="butt"/>
<text x="1475.5" y="788.5" font-size="15.4" text-anchor="end" fill="#000">KIRP</text>
<path d="M1574.9 782.9H1611.9M1574.9 780.8v4.3M1611.9 780.8v4.3" stroke="#1c1c1c" stroke-width="1.4" fill="none" />
<circle cx="1593.4" cy="782.9" r="2.8" fill="#000"/>
<line x1="1480.4" y1="800.6" x2="1485" y2="800.6" stroke="#000" stroke-width="1.6" stroke-linecap="butt"/>
<text x="1475.5" y="806.1" font-size="15.4" text-anchor="end" fill="#000">COAD</text>
<path d="M1571 800.6H1603.5M1571 798.4v4.3M1603.5 798.4v4.3" stroke="#1c1c1c" stroke-width="1.4" fill="none" />
<circle cx="1587" cy="800.6" r="2.8" fill="#000"/>
<line x1="1480.4" y1="818.3" x2="1485" y2="818.3" stroke="#000" stroke-width="1.6" stroke-linecap="butt"/>
<text x="1475.5" y="823.8" font-size="15.4" text-anchor="end" fill="#000">CESC</text>
<path d="M1569.6 818.3H1602.7M1569.6 816.1v4.3M1602.7 816.1v4.3" stroke="#1c1c1c" stroke-width="1.4" fill="none" />
<circle cx="1586.2" cy="818.3" r="2.8" fill="#000"/>
<line x1="1480.4" y1="835.9" x2="1485" y2="835.9" stroke="#000" stroke-width="1.6" stroke-linecap="butt"/>
<text x="1475.5" y="841.5" font-size="15.4" text-anchor="end" fill="#000">LUSC</text>
<path d="M1567.7 835.9H1598.2M1567.7 833.8v4.3M1598.2 833.8v4.3" stroke="#1c1c1c" stroke-width="1.4" fill="none" />
<circle cx="1582.8" cy="835.9" r="2.8" fill="#000"/>
<line x1="1480.4" y1="853.6" x2="1485" y2="853.6" stroke="#000" stroke-width="1.6" stroke-linecap="butt"/>
<text x="1475.5" y="859.1" font-size="15.4" text-anchor="end" fill="#000">KIRC</text>
<path d="M1567.7 853.6H1597.6M1567.7 851.4v4.3M1597.6 851.4v4.3" stroke="#1c1c1c" stroke-width="1.4" fill="none" />
<circle cx="1582.5" cy="853.6" r="2.8" fill="#000"/>
<line x1="1480.4" y1="871.3" x2="1485" y2="871.3" stroke="#000" stroke-width="1.6" stroke-linecap="butt"/>
<text x="1475.5" y="876.8" font-size="15.4" text-anchor="end" fill="#000">SKCM</text>
<path d="M1561.8 871.3H1590.4M1561.8 869.1v4.3M1590.4 869.1v4.3" stroke="#1c1c1c" stroke-width="1.4" fill="none" />
<circle cx="1576.1" cy="871.3" r="2.8" fill="#000"/>
<line x1="1480.4" y1="888.9" x2="1485" y2="888.9" stroke="#000" stroke-width="1.6" stroke-linecap="butt"/>
<text x="1475.5" y="894.4" font-size="15.4" text-anchor="end" fill="#000">ACC</text>
<rect x="1573.5" y="885.7" width="5.2" height="6.4" fill="#000"/>
<line x1="1480.4" y1="906.6" x2="1485" y2="906.6" stroke="#000" stroke-width="1.6" stroke-linecap="butt"/>
<text x="1475.5" y="912.1" font-size="15.4" text-anchor="end" fill="#000">SARC</text>
<path d="M1559.3 906.6H1590.4M1559.3 904.4v4.3M1590.4 904.4v4.3" stroke="#1c1c1c" stroke-width="1.4" fill="none" />
<circle cx="1574.7" cy="906.6" r="2.8" fill="#000"/>
<line x1="1480.4" y1="924.3" x2="1485" y2="924.3" stroke="#000" stroke-width="1.6" stroke-linecap="butt"/>
<text x="1475.5" y="929.8" font-size="15.4" text-anchor="end" fill="#000">LIHC</text>
<path d="M1557.6 924.3H1589.2M1557.6 922.1v4.3M1589.2 922.1v4.3" stroke="#1c1c1c" stroke-width="1.4" fill="none" />
<circle cx="1573.5" cy="924.3" r="2.8" fill="#000"/>
<line x1="1480.4" y1="941.9" x2="1485" y2="941.9" stroke="#000" stroke-width="1.6" stroke-linecap="butt"/>
<text x="1475.5" y="947.4" font-size="15.4" text-anchor="end" fill="#000">LUAD</text>
<path d="M1557.3 941.9H1587.3M1557.3 939.8v4.3M1587.3 939.8v4.3" stroke="#1c1c1c" stroke-width="1.4" fill="none" />
<circle cx="1572.1" cy="941.9" r="2.8" fill="#000"/>
<line x1="1480.4" y1="959.6" x2="1485" y2="959.6" stroke="#000" stroke-width="1.6" stroke-linecap="butt"/>
<text x="1475.5" y="965.1" font-size="15.4" text-anchor="end" fill="#000">LGG</text>
<path d="M1555.9 959.6H1586.2M1555.9 957.4v4.3M1586.2 957.4v4.3" stroke="#1c1c1c" stroke-width="1.4" fill="none" />
<circle cx="1571" cy="959.6" r="2.8" fill="#000"/>
<line x1="1480.4" y1="977.3" x2="1485" y2="977.3" stroke="#000" stroke-width="1.6" stroke-linecap="butt"/>
<text x="1475.5" y="982.8" font-size="15.4" text-anchor="end" fill="#000">HNSC</text>
<path d="M1553.1 977.3H1582.5M1553.1 975.1v4.3M1582.5 975.1v4.3" stroke="#1c1c1c" stroke-width="1.4" fill="none" />
<circle cx="1567.7" cy="977.3" r="2.8" fill="#000"/>
<line x1="1480.4" y1="994.9" x2="1485" y2="994.9" stroke="#000" stroke-width="1.6" stroke-linecap="butt"/>
<text x="1475.5" y="1000.4" font-size="15.4" text-anchor="end" fill="#000">BLCA</text>
<path d="M1545.8 994.9H1575.5M1545.8 992.8v4.3M1575.5 992.8v4.3" stroke="#1c1c1c" stroke-width="1.4" fill="none" />
<circle cx="1560.7" cy="994.9" r="2.8" fill="#000"/>
<line x1="1480.4" y1="1012.6" x2="1485" y2="1012.6" stroke="#000" stroke-width="1.6" stroke-linecap="butt"/>
<text x="1475.5" y="1018.1" font-size="15.4" text-anchor="end" fill="#000">OV</text>
<path d="M1544.7 1012.6H1573.5M1544.7 1010.4v4.3M1573.5 1010.4v4.3" stroke="#1c1c1c" stroke-width="1.4" fill="none" />
<circle cx="1559" cy="1012.6" r="2.8" fill="#000"/>
<text x="1754.6" y="1014.8" font-size="6.6" text-anchor="middle" fill="#000">*</text>
<line x1="1480.4" y1="1030.2" x2="1485" y2="1030.2" stroke="#000" stroke-width="1.6" stroke-linecap="butt"/>
<text x="1475.5" y="1035.8" font-size="15.4" text-anchor="end" fill="#000">STAD</text>
<path d="M1543.6 1030.2H1573.8M1543.6 1028.1v4.3M1573.8 1028.1v4.3" stroke="#1c1c1c" stroke-width="1.4" fill="none" />
<circle cx="1558.7" cy="1030.2" r="2.8" fill="#000"/>
<text x="1754.6" y="1032.4" font-size="6.6" text-anchor="middle" fill="#000">*</text>
<line x1="1480.4" y1="1047.9" x2="1485" y2="1047.9" stroke="#000" stroke-width="1.6" stroke-linecap="butt"/>
<text x="1475.5" y="1053.4" font-size="15.4" text-anchor="end" fill="#000">UVM</text>
<path d="M1534.9 1047.9H1575.2M1534.9 1045.7v4.3M1575.2 1045.7v4.3" stroke="#1c1c1c" stroke-width="1.4" fill="none" />
<circle cx="1555.1" cy="1047.9" r="2.8" fill="#000"/>
<line x1="1480.4" y1="1065.6" x2="1485" y2="1065.6" stroke="#000" stroke-width="1.6" stroke-linecap="butt"/>
<text x="1475.5" y="1071.1" font-size="15.4" text-anchor="end" fill="#000">ESCA</text>
<path d="M1535.7 1065.6H1568.8M1535.7 1063.4v4.3M1568.8 1063.4v4.3" stroke="#1c1c1c" stroke-width="1.4" fill="none" />
<circle cx="1552.3" cy="1065.6" r="2.8" fill="#000"/>
<text x="1754.6" y="1067.8" font-size="6.6" text-anchor="middle" fill="#000">*</text>
<line x1="1480.4" y1="1083.2" x2="1485" y2="1083.2" stroke="#000" stroke-width="1.6" stroke-linecap="butt"/>
<text x="1475.5" y="1088.8" font-size="15.4" text-anchor="end" fill="#000">UCS</text>
<path d="M1526.2 1083.2H1563.5M1526.2 1081.1v4.3M1563.5 1081.1v4.3" stroke="#1c1c1c" stroke-width="1.4" fill="none" />
<circle cx="1545" cy="1083.2" r="2.8" fill="#000"/>
<text x="1754.6" y="1085.4" font-size="6.6" text-anchor="middle" fill="#000">**</text>
<line x1="1480.4" y1="1100.9" x2="1485" y2="1100.9" stroke="#000" stroke-width="1.6" stroke-linecap="butt"/>
<text x="1475.5" y="1106.4" font-size="15.4" text-anchor="end" fill="#000">CHOL</text>
<path d="M1521.7 1100.9H1564.3M1521.7 1098.7v4.3M1564.3 1098.7v4.3" stroke="#1c1c1c" stroke-width="1.4" fill="none" />
<circle cx="1543" cy="1100.9" r="2.8" fill="#000"/>
<text x="1754.6" y="1103.1" font-size="6.6" text-anchor="middle" fill="#000">**</text>
<line x1="1480.4" y1="1118.6" x2="1485" y2="1118.6" stroke="#000" stroke-width="1.6" stroke-linecap="butt"/>
<text x="1475.5" y="1124.1" font-size="15.4" text-anchor="end" fill="#000">PAAD</text>
<path d="M1515 1118.6H1546.9M1515 1116.4v4.3M1546.9 1116.4v4.3" stroke="#1c1c1c" stroke-width="1.4" fill="none" />
<circle cx="1531" cy="1118.6" r="2.8" fill="#000"/>
<text x="1754.6" y="1120.8" font-size="6.6" text-anchor="middle" fill="#000">***</text>
<line x1="1480.4" y1="1136.2" x2="1485" y2="1136.2" stroke="#000" stroke-width="1.6" stroke-linecap="butt"/>
<text x="1475.5" y="1141.7" font-size="15.4" text-anchor="end" fill="#000">MESO</text>
<path d="M1506.3 1136.2H1540.2M1506.3 1134.1v4.3M1540.2 1134.1v4.3" stroke="#1c1c1c" stroke-width="1.4" fill="none" />
<circle cx="1523.1" cy="1136.2" r="2.8" fill="#000"/>
<text x="1754.6" y="1138.4" font-size="6.6" text-anchor="middle" fill="#000">***</text>
<line x1="1480.4" y1="1153.9" x2="1485" y2="1153.9" stroke="#000" stroke-width="1.6" stroke-linecap="butt"/>
<text x="1475.5" y="1159.4" font-size="15.4" text-anchor="end" fill="#000">GBM</text>
<path d="M1497.1 1153.9H1525.1M1497.1 1151.7v4.3M1525.1 1151.7v4.3" stroke="#1c1c1c" stroke-width="1.4" fill="none" />
<circle cx="1511.1" cy="1153.9" r="2.8" fill="#000"/>
<text x="1754.6" y="1156.1" font-size="6.6" text-anchor="middle" fill="#000">***</text>
<line x1="1502.9" y1="1165" x2="1757.6" y2="1165" stroke="#000" stroke-width="2" stroke-linecap="butt"/>
<line x1="1503.9" y1="1165" x2="1503.9" y2="1169.8" stroke="#000" stroke-width="1.6" stroke-linecap="butt"/>
<text x="1503.9" y="1185.3" font-size="15.5" text-anchor="middle" fill="#000">−2</text>
<line x1="1540" y1="1165" x2="1540" y2="1169.8" stroke="#000" stroke-width="1.6" stroke-linecap="butt"/>
<text x="1540" y="1185.3" font-size="15.5" text-anchor="middle" fill="#000">−1</text>
<line x1="1576.1" y1="1165" x2="1576.1" y2="1169.8" stroke="#000" stroke-width="1.6" stroke-linecap="butt"/>
<text x="1576.1" y="1185.3" font-size="15.5" text-anchor="middle" fill="#000">0</text>
<line x1="1612.2" y1="1165" x2="1612.2" y2="1169.8" stroke="#000" stroke-width="1.6" stroke-linecap="butt"/>
<text x="1612.2" y="1185.3" font-size="15.5" text-anchor="middle" fill="#000">1</text>
<line x1="1648.3" y1="1165" x2="1648.3" y2="1169.8" stroke="#000" stroke-width="1.6" stroke-linecap="butt"/>
<text x="1648.3" y="1185.3" font-size="15.5" text-anchor="middle" fill="#000">2</text>
<line x1="1684.4" y1="1165" x2="1684.4" y2="1169.8" stroke="#000" stroke-width="1.6" stroke-linecap="butt"/>
<text x="1684.4" y="1185.3" font-size="15.5" text-anchor="middle" fill="#000">3</text>
<line x1="1720.5" y1="1165" x2="1720.5" y2="1169.8" stroke="#000" stroke-width="1.6" stroke-linecap="butt"/>
<text x="1720.5" y="1185.3" font-size="15.5" text-anchor="middle" fill="#000">4</text>
<line x1="1756.6" y1="1165" x2="1756.6" y2="1169.8" stroke="#000" stroke-width="1.6" stroke-linecap="butt"/>
<text x="1756.6" y="1185.3" font-size="15.5" text-anchor="middle" fill="#000">5</text>
<text x="1625.8" y="1207.7" font-size="19.3" text-anchor="middle" fill="#000">log(Deceleration Factor)</text>
<text x="1419.3" y="880.5" font-size="19.3" text-anchor="middle" transform="rotate(-90 1419.3 880.5)">Tissues</text>
<clipPath id="c00"><rect x="187.6" y="1301.7" width="321.4" height="197"/></clipPath>
<path d="M187.6 1307.7V1498.7H509" stroke="#000" stroke-width="1.7" fill="none" stroke-linecap="square"/>
<line x1="183.4" y1="1315" x2="187.6" y2="1315" stroke="#000" stroke-width="1.4" stroke-linecap="butt"/>
<text x="180.3" y="1320.1" font-size="14.2" text-anchor="end" fill="#000">1.00</text>
<line x1="183.4" y1="1358.8" x2="187.6" y2="1358.8" stroke="#000" stroke-width="1.4" stroke-linecap="butt"/>
<text x="180.3" y="1363.9" font-size="14.2" text-anchor="end" fill="#000">0.75</text>
<line x1="183.4" y1="1402.7" x2="187.6" y2="1402.7" stroke="#000" stroke-width="1.4" stroke-linecap="butt"/>
<text x="180.3" y="1407.8" font-size="14.2" text-anchor="end" fill="#000">0.50</text>
<line x1="183.4" y1="1446.6" x2="187.6" y2="1446.6" stroke="#000" stroke-width="1.4" stroke-linecap="butt"/>
<text x="180.3" y="1451.6" font-size="14.2" text-anchor="end" fill="#000">0.25</text>
<line x1="183.4" y1="1490.4" x2="187.6" y2="1490.4" stroke="#000" stroke-width="1.4" stroke-linecap="butt"/>
<text x="180.3" y="1495.5" font-size="14.2" text-anchor="end" fill="#000">0.00</text>
<line x1="202" y1="1498.7" x2="202" y2="1502.9" stroke="#000" stroke-width="1.4" stroke-linecap="butt"/>
<text x="202" y="1515.6" font-size="14.2" text-anchor="middle" fill="#000">0</text>
<line x1="275.4" y1="1498.7" x2="275.4" y2="1502.9" stroke="#000" stroke-width="1.4" stroke-linecap="butt"/>
<text x="275.4" y="1515.6" font-size="14.2" text-anchor="middle" fill="#000">1000</text>
<line x1="348.8" y1="1498.7" x2="348.8" y2="1502.9" stroke="#000" stroke-width="1.4" stroke-linecap="butt"/>
<text x="348.8" y="1515.6" font-size="14.2" text-anchor="middle" fill="#000">2000</text>
<line x1="422.1" y1="1498.7" x2="422.1" y2="1502.9" stroke="#000" stroke-width="1.4" stroke-linecap="butt"/>
<text x="422.1" y="1515.6" font-size="14.2" text-anchor="middle" fill="#000">3000</text>
<line x1="495.5" y1="1498.7" x2="495.5" y2="1502.9" stroke="#000" stroke-width="1.4" stroke-linecap="butt"/>
<text x="495.5" y="1515.6" font-size="14.2" text-anchor="middle" fill="#000">4000</text>
<text x="348.8" y="1534.6" font-size="16.3" text-anchor="middle" fill="#000">Time</text>
<text x="145.5" y="1402.7" font-size="17" text-anchor="middle" transform="rotate(-90 145.5 1402.7)">Survival probability</text>
<text x="187.9" y="1245.3" font-size="19.2" text-anchor="start" fill="#000">CN5 GBM</text>
<text x="212.4" y="1461.3" font-size="17.1" text-anchor="start" fill="#000">q = 0.078</text>
<line x1="217.2" y1="1274.7" x2="233.5" y2="1274.7" stroke="#2E2183" stroke-width="1.4" stroke-linecap="butt"/>
<line x1="225.3" y1="1270.5" x2="225.3" y2="1278.9" stroke="#2E2183" stroke-width="1.4" stroke-linecap="butt"/>
<text x="241.3" y="1279" font-size="12.1" text-anchor="start" fill="#000">CN5 sig. unattributed</text>
<line x1="364.1" y1="1274.7" x2="380.4" y2="1274.7" stroke="#F2A20F" stroke-width="1.4" stroke-linecap="butt"/>
<line x1="372.3" y1="1270.5" x2="372.3" y2="1278.9" stroke="#F2A20F" stroke-width="1.4" stroke-linecap="butt"/>
<text x="388.2" y="1279" font-size="12.1" text-anchor="start" fill="#000">CN5 sig. attributed</text>
<path d="M187.6 1579V1611.5H509" stroke="#000" stroke-width="1.7" fill="none" stroke-linecap="square"/>
<line x1="202" y1="1611.5" x2="202" y2="1615.7" stroke="#000" stroke-width="1.4" stroke-linecap="butt"/>
<text x="202" y="1628.9" font-size="14.2" text-anchor="middle" fill="#000">0</text>
<text x="202" y="1591.1" font-size="10.2" text-anchor="middle" fill="#000">439</text>
<text x="202" y="1606.5" font-size="10.2" text-anchor="middle" fill="#000">19</text>
<line x1="275.4" y1="1611.5" x2="275.4" y2="1615.7" stroke="#000" stroke-width="1.4" stroke-linecap="butt"/>
<text x="275.4" y="1628.9" font-size="14.2" text-anchor="middle" fill="#000">1000</text>
<text x="275.4" y="1591.1" font-size="10.2" text-anchor="middle" fill="#000">48</text>
<text x="275.4" y="1606.5" font-size="10.2" text-anchor="middle" fill="#000">0</text>
<line x1="348.8" y1="1611.5" x2="348.8" y2="1615.7" stroke="#000" stroke-width="1.4" stroke-linecap="butt"/>
<text x="348.8" y="1628.9" font-size="14.2" text-anchor="middle" fill="#000">2000</text>
<text x="348.8" y="1591.1" font-size="10.2" text-anchor="middle" fill="#000">13</text>
<text x="348.8" y="1606.5" font-size="10.2" text-anchor="middle" fill="#000">0</text>
<line x1="422.1" y1="1611.5" x2="422.1" y2="1615.7" stroke="#000" stroke-width="1.4" stroke-linecap="butt"/>
<text x="422.1" y="1628.9" font-size="14.2" text-anchor="middle" fill="#000">3000</text>
<text x="422.1" y="1591.1" font-size="10.2" text-anchor="middle" fill="#000">3</text>
<text x="422.1" y="1606.5" font-size="10.2" text-anchor="middle" fill="#000">0</text>
<line x1="495.5" y1="1611.5" x2="495.5" y2="1615.7" stroke="#000" stroke-width="1.4" stroke-linecap="butt"/>
<text x="495.5" y="1628.9" font-size="14.2" text-anchor="middle" fill="#000">4000</text>
<text x="495.5" y="1591.1" font-size="10.2" text-anchor="middle" fill="#000">0</text>
<text x="495.5" y="1606.5" font-size="10.2" text-anchor="middle" fill="#000">0</text>
<text x="348.8" y="1646.8" font-size="16.3" text-anchor="middle" fill="#000">Time</text>
<rect x="163.5" y="1583" width="14.6" height="5" fill="#2E2183"/>
<rect x="163.5" y="1598.4" width="14.6" height="5" fill="#F2A20F"/>
<path d="M201.5 1315.5 L204.5 1315.5 L204.5 1334.5 L208.5 1334.5 L208.5 1363.5 L212.5 1363.5 L212.5 1383.5 L219.5 1383.5 L219.5 1402.5 L225.5 1402.5 L225.5 1423.5 L228.5 1423.5 L228.5 1446.5 L237.5 1446.5 L237.5 1456.5 L245.5 1456.5 L245.5 1468.5 L261.5 1468.5 L261.5 1490.5" stroke="#F2A20F" stroke-width="1.2" fill="none" clip-path="url(#c00)" stroke-linejoin="miter"/>
<path d="M201.5 1315.5 L203.5 1315.5 L203.5 1317.5 L204.5 1317.5 L204.5 1320.5 L206.5 1320.5 L206.5 1322.5 L207.5 1322.5 L207.5 1325.5 L208.5 1325.5 L208.5 1329.5 L209.5 1329.5 L209.5 1332.5 L210.5 1332.5 L210.5 1335.5 L211.5 1335.5 L211.5 1338.5 L212.5 1338.5 L212.5 1341.5 L213.5 1341.5 L213.5 1343.5 L215.5 1343.5 L215.5 1346.5 L216.5 1346.5 L216.5 1349.5 L217.5 1349.5 L217.5 1352.5 L218.5 1352.5 L218.5 1355.5 L220.5 1355.5 L220.5 1358.5 L222.5 1358.5 L222.5 1361.5 L224.5 1361.5 L224.5 1364.5 L225.5 1364.5 L225.5 1367.5 L226.5 1367.5 L226.5 1370.5 L227.5 1370.5 L227.5 1373.5 L228.5 1373.5 L228.5 1376.5 L229.5 1376.5 L229.5 1379.5 L230.5 1379.5 L230.5 1382.5 L231.5 1382.5 L231.5 1385.5 L232.5 1385.5 L232.5 1388.5 L232.5 1388.5 L232.5 1391.5 L233.5 1391.5 L233.5 1394.5 L234.5 1394.5 L234.5 1397.5 L235.5 1397.5 L235.5 1399.5 L236.5 1399.5 L236.5 1402.5 L236.5 1402.5 L236.5 1405.5 L238.5 1405.5 L238.5 1408.5 L239.5 1408.5 L239.5 1411.5 L240.5 1411.5 L240.5 1414.5 L241.5 1414.5 L241.5 1417.5 L242.5 1417.5 L242.5 1420.5 L243.5 1420.5 L243.5 1423.5 L245.5 1423.5 L245.5 1426.5 L246.5 1426.5 L246.5 1429.5 L248.5 1429.5 L248.5 1432.5 L249.5 1432.5 L249.5 1436.5 L250.5 1436.5 L250.5 1439.5 L253.5 1439.5 L253.5 1442.5 L256.5 1442.5 L256.5 1445.5 L259.5 1445.5 L259.5 1448.5 L262.5 1448.5 L262.5 1451.5 L264.5 1451.5 L264.5 1453.5 L267.5 1453.5 L267.5 1455.5 L270.5 1455.5 L270.5 1457.5 L273.5 1457.5 L273.5 1458.5 L276.5 1458.5 L276.5 1459.5 L278.5 1459.5 L278.5 1460.5 L281.5 1460.5 L281.5 1462.5 L284.5 1462.5 L284.5 1463.5 L287.5 1463.5 L287.5 1464.5 L290.5 1464.5 L290.5 1465.5 L292.5 1465.5 L292.5 1467.5 L295.5 1467.5 L295.5 1467.5 L298.5 1467.5 L298.5 1468.5 L301.5 1468.5 L301.5 1468.5 L304.5 1468.5 L304.5 1469.5 L306.5 1469.5 L306.5 1469.5 L309.5 1469.5 L309.5 1471.5 L312.5 1471.5 L312.5 1472.5 L315.5 1472.5 L315.5 1473.5 L318.5 1473.5 L318.5 1474.5 L320.5 1474.5 L320.5 1475.5 L324.5 1475.5 L324.5 1475.5 L327.5 1475.5 L327.5 1476.5 L330.5 1476.5 L330.5 1476.5 L333.5 1476.5 L333.5 1476.5 L336.5 1476.5 L336.5 1476.5 L339.5 1476.5 L339.5 1477.5 L342.5 1477.5 L342.5 1477.5 L345.5 1477.5 L345.5 1477.5 L348.5 1477.5 L348.5 1477.5 L352.5 1477.5 L352.5 1478.5 L355.5 1478.5 L355.5 1478.5 L358.5 1478.5 L358.5 1478.5 L361.5 1478.5 L361.5 1479.5 L364.5 1479.5 L364.5 1479.5 L367.5 1479.5 L367.5 1479.5 L370.5 1479.5 L370.5 1479.5 L373.5 1479.5 L373.5 1480.5 L376.5 1480.5 L376.5 1480.5 L379.5 1480.5 L379.5 1480.5 L382.5 1480.5 L382.5 1480.5 L385.5 1480.5 L385.5 1480.5 L388.5 1480.5 L388.5 1481.5 L391.5 1481.5 L391.5 1481.5 L393.5 1481.5 L393.5 1482.5 L396.5 1482.5 L396.5 1482.5 L399.5 1482.5 L399.5 1483.5 L402.5 1483.5 L402.5 1483.5 L405.5 1483.5 L405.5 1484.5 L407.5 1484.5 L407.5 1484.5 L410.5 1484.5 L410.5 1484.5 L413.5 1484.5 L413.5 1484.5 L416.5 1484.5 L416.5 1485.5 L419.5 1485.5 L419.5 1485.5 L421.5 1485.5 L421.5 1485.5 L424.5 1485.5 L424.5 1485.5 L426.5 1485.5 L426.5 1486.5 L429.5 1486.5 L429.5 1486.5 L432.5 1486.5 L432.5 1486.5 L435.5 1486.5 L435.5 1486.5 L438.5 1486.5 L438.5 1486.5 L441.5 1486.5 L441.5 1486.5 L444.5 1486.5 L444.5 1486.5 L447.5 1486.5 L447.5 1486.5 L450.5 1486.5 L450.5 1486.5 L453.5 1486.5 L453.5 1487.5 L456.5 1487.5 L456.5 1487.5 L459.5 1487.5 L459.5 1487.5 L461.5 1487.5 L461.5 1488.5 L464.5 1488.5 L464.5 1488.5 L467.5 1488.5 L467.5 1488.5 L471.5 1488.5 L471.5 1488.5" stroke="#2E2183" stroke-width="1.4" fill="none" clip-path="url(#c00)" stroke-linejoin="miter"/>
<path d="M228.5 1372.2v8.7M224.2 1376.5h8.7M232.5 1387.2v8.7M228.2 1391.5h8.7M234.5 1390.2v8.7M230.2 1394.5h8.7M235.5 1395.2v8.7M231.2 1399.5h8.7M236.5 1401.2v8.7M232.2 1405.5h8.7M241.5 1410.2v8.7M237.2 1414.5h8.7M243.5 1419.2v8.7M239.2 1423.5h8.7M246.5 1425.2v8.7M242.2 1429.5h8.7M249.5 1432.2v8.7M245.2 1436.5h8.7M252.5 1435.2v8.7M248.2 1439.5h8.7M259.5 1441.2v8.7M255.2 1445.5h8.7M264.5 1449.2v8.7M260.1 1453.5h8.7M270.5 1453.2v8.7M266.1 1457.5h8.7M276.5 1454.2v8.7M272.1 1458.5h8.7M281.5 1458.2v8.7M277.1 1462.5h8.7M292.5 1463.2v8.7M288.1 1467.5h8.7M298.5 1464.2v8.7M294.1 1468.5h8.7M305.5 1465.2v8.7M301.1 1469.5h8.7M321.5 1471.2v8.7M317.1 1475.5h8.7M333.5 1472.2v8.7M329.1 1476.5h8.7M367.5 1475.2v8.7M363.1 1479.5h8.7M405.5 1479.2v8.7M401.1 1483.5h8.7M409.5 1480.2v8.7M405.1 1484.5h8.7M204 1314.6v8.7M199.6 1319h8.7M205 1316.6v8.7M200.7 1320.9h8.7M206.1 1318.5v8.7M201.7 1322.9h8.7M206.9 1320.7v8.7M202.5 1325.1h8.7M207.7 1322.9v8.7M203.3 1327.3h8.7M208.5 1325.1v8.7M204.1 1329.5h8.7M209.3 1327.3v8.7M204.9 1331.7h8.7M210.1 1329.5v8.7M205.7 1333.9h8.7M210.9 1331.7v8.7M206.5 1336.1h8.7M211.7 1333.9v8.7M207.3 1338.3h8.7M212.6 1336.3v8.7M208.3 1340.6h8.7M213.6 1338.6v8.7M209.2 1343h8.7M214.5 1340.9v8.7M210.1 1345.3h8.7M215.4 1343.3v8.7M211.1 1347.6h8.7M216.4 1345.6v8.7M212 1350h8.7M217.3 1347.9v8.7M212.9 1352.3h8.7M218.5 1350.1v8.7M214.1 1354.5h8.7M219.7 1352.4v8.7M215.3 1356.7h8.7M220.9 1354.6v8.7M216.6 1358.9h8.7M222.1 1356.8v8.7M217.8 1361.1h8.7M223.3 1359v8.7M219 1363.3h8.7M224.5 1361.2v8.7M220.2 1365.5h8.7M225.7 1363.4v8.7M221.4 1367.7h8.7" stroke="#2E2183" stroke-width="1.6" fill="none" clip-path="url(#c00)"/>
<path d="M202.5 1311.2v8.7M198.2 1315.5h8.7M221.5 1398.2v8.7M217.2 1402.5h8.7M252.5 1464.2v8.7M248.2 1468.5h8.7" stroke="#F2A20F" stroke-width="1.4" fill="none" clip-path="url(#c00)"/>
<clipPath id="c10"><rect x="578.6" y="1301.7" width="321.4" height="197"/></clipPath>
<path d="M578.6 1307.7V1498.7H900" stroke="#000" stroke-width="1.7" fill="none" stroke-linecap="square"/>
<line x1="574.4" y1="1315" x2="578.6" y2="1315" stroke="#000" stroke-width="1.4" stroke-linecap="butt"/>
<text x="571.3" y="1320.1" font-size="14.2" text-anchor="end" fill="#000">1.00</text>
<line x1="574.4" y1="1358.8" x2="578.6" y2="1358.8" stroke="#000" stroke-width="1.4" stroke-linecap="butt"/>
<text x="571.3" y="1363.9" font-size="14.2" text-anchor="end" fill="#000">0.75</text>
<line x1="574.4" y1="1402.7" x2="578.6" y2="1402.7" stroke="#000" stroke-width="1.4" stroke-linecap="butt"/>
<text x="571.3" y="1407.8" font-size="14.2" text-anchor="end" fill="#000">0.50</text>
<line x1="574.4" y1="1446.6" x2="578.6" y2="1446.6" stroke="#000" stroke-width="1.4" stroke-linecap="butt"/>
<text x="571.3" y="1451.6" font-size="14.2" text-anchor="end" fill="#000">0.25</text>
<line x1="574.4" y1="1490.4" x2="578.6" y2="1490.4" stroke="#000" stroke-width="1.4" stroke-linecap="butt"/>
<text x="571.3" y="1495.5" font-size="14.2" text-anchor="end" fill="#000">0.00</text>
<line x1="593" y1="1498.7" x2="593" y2="1502.9" stroke="#000" stroke-width="1.4" stroke-linecap="butt"/>
<text x="593" y="1515.6" font-size="14.2" text-anchor="middle" fill="#000">0</text>
<line x1="690.8" y1="1498.7" x2="690.8" y2="1502.9" stroke="#000" stroke-width="1.4" stroke-linecap="butt"/>
<text x="690.8" y="1515.6" font-size="14.2" text-anchor="middle" fill="#000">1000</text>
<line x1="788.7" y1="1498.7" x2="788.7" y2="1502.9" stroke="#000" stroke-width="1.4" stroke-linecap="butt"/>
<text x="788.7" y="1515.6" font-size="14.2" text-anchor="middle" fill="#000">2000</text>
<line x1="886.5" y1="1498.7" x2="886.5" y2="1502.9" stroke="#000" stroke-width="1.4" stroke-linecap="butt"/>
<text x="886.5" y="1515.6" font-size="14.2" text-anchor="middle" fill="#000">3000</text>
<text x="739.8" y="1534.6" font-size="16.3" text-anchor="middle" fill="#000">Time</text>
<text x="536.5" y="1402.7" font-size="17" text-anchor="middle" transform="rotate(-90 536.5 1402.7)">Survival probability</text>
<text x="578.9" y="1245.3" font-size="19.2" text-anchor="start" fill="#000">CN1 PAAD</text>
<text x="603.4" y="1461.3" font-size="17.1" text-anchor="start" fill="#000">q = 0.059</text>
<line x1="608.2" y1="1274.7" x2="624.5" y2="1274.7" stroke="#2E2183" stroke-width="1.4" stroke-linecap="butt"/>
<line x1="616.3" y1="1270.5" x2="616.3" y2="1278.9" stroke="#2E2183" stroke-width="1.4" stroke-linecap="butt"/>
<text x="632.3" y="1279" font-size="12.1" text-anchor="start" fill="#000">CN1 sig. unattributed</text>
<line x1="755.1" y1="1274.7" x2="771.4" y2="1274.7" stroke="#F2A20F" stroke-width="1.4" stroke-linecap="butt"/>
<line x1="763.3" y1="1270.5" x2="763.3" y2="1278.9" stroke="#F2A20F" stroke-width="1.4" stroke-linecap="butt"/>
<text x="779.2" y="1279" font-size="12.1" text-anchor="start" fill="#000">CN1 sig. attributed</text>
<path d="M578.6 1579V1611.5H900" stroke="#000" stroke-width="1.7" fill="none" stroke-linecap="square"/>
<line x1="593" y1="1611.5" x2="593" y2="1615.7" stroke="#000" stroke-width="1.4" stroke-linecap="butt"/>
<text x="593" y="1628.9" font-size="14.2" text-anchor="middle" fill="#000">0</text>
<text x="593" y="1591.1" font-size="10.2" text-anchor="middle" fill="#000">36</text>
<text x="593" y="1606.5" font-size="10.2" text-anchor="middle" fill="#000">90</text>
<line x1="690.8" y1="1611.5" x2="690.8" y2="1615.7" stroke="#000" stroke-width="1.4" stroke-linecap="butt"/>
<text x="690.8" y="1628.9" font-size="14.2" text-anchor="middle" fill="#000">1000</text>
<text x="690.8" y="1591.1" font-size="10.2" text-anchor="middle" fill="#000">9</text>
<text x="690.8" y="1606.5" font-size="10.2" text-anchor="middle" fill="#000">7</text>
<line x1="788.7" y1="1611.5" x2="788.7" y2="1615.7" stroke="#000" stroke-width="1.4" stroke-linecap="butt"/>
<text x="788.7" y="1628.9" font-size="14.2" text-anchor="middle" fill="#000">2000</text>
<text x="788.7" y="1591.1" font-size="10.2" text-anchor="middle" fill="#000">4</text>
<text x="788.7" y="1606.5" font-size="10.2" text-anchor="middle" fill="#000">1</text>
<line x1="886.5" y1="1611.5" x2="886.5" y2="1615.7" stroke="#000" stroke-width="1.4" stroke-linecap="butt"/>
<text x="886.5" y="1628.9" font-size="14.2" text-anchor="middle" fill="#000">3000</text>
<text x="886.5" y="1591.1" font-size="10.2" text-anchor="middle" fill="#000">0</text>
<text x="886.5" y="1606.5" font-size="10.2" text-anchor="middle" fill="#000">0</text>
<text x="739.8" y="1646.8" font-size="16.3" text-anchor="middle" fill="#000">Time</text>
<rect x="554.5" y="1583" width="14.6" height="5" fill="#2E2183"/>
<rect x="554.5" y="1598.4" width="14.6" height="5" fill="#F2A20F"/>
<path d="M593.5 1315.5 L600.5 1315.5 L601.5 1315.5 L601.5 1318.5 L603.5 1318.5 L603.5 1321.5 L604.5 1321.5 L604.5 1324.5 L606.5 1324.5 L606.5 1327.5 L607.5 1327.5 L607.5 1329.5 L609.5 1329.5 L609.5 1332.5 L611.5 1332.5 L611.5 1335.5 L613.5 1335.5 L613.5 1338.5 L615.5 1338.5 L615.5 1342.5 L617.5 1342.5 L617.5 1345.5 L618.5 1345.5 L618.5 1348.5 L620.5 1348.5 L620.5 1351.5 L621.5 1351.5 L621.5 1354.5 L622.5 1354.5 L622.5 1357.5 L625.5 1357.5 L625.5 1360.5 L628.5 1360.5 L628.5 1363.5 L629.5 1363.5 L629.5 1366.5 L630.5 1366.5 L630.5 1369.5 L631.5 1369.5 L631.5 1372.5 L632.5 1372.5 L632.5 1376.5 L636.5 1376.5 L636.5 1380.5 L637.5 1380.5 L637.5 1383.5 L638.5 1383.5 L638.5 1385.5 L639.5 1385.5 L639.5 1388.5 L639.5 1388.5 L639.5 1391.5 L641.5 1391.5 L641.5 1395.5 L643.5 1395.5 L643.5 1398.5 L647.5 1398.5 L647.5 1399.5 L650.5 1399.5 L650.5 1401.5 L651.5 1401.5 L651.5 1404.5 L652.5 1404.5 L652.5 1407.5 L652.5 1407.5 L652.5 1410.5 L653.5 1410.5 L653.5 1413.5 L653.5 1413.5 L653.5 1416.5 L654.5 1416.5 L654.5 1419.5 L655.5 1419.5 L655.5 1422.5 L656.5 1422.5 L656.5 1425.5 L658.5 1425.5 L658.5 1427.5 L660.5 1427.5 L660.5 1430.5 L664.5 1430.5 L664.5 1433.5 L665.5 1433.5 L665.5 1436.5 L665.5 1436.5 L665.5 1439.5 L665.5 1439.5 L665.5 1442.5 L665.5 1442.5 L665.5 1445.5 L700.5 1445.5 L700.5 1454.5 L793.5 1454.5" stroke="#F2A20F" stroke-width="1.2" fill="none" clip-path="url(#c10)" stroke-linejoin="miter"/>
<path d="M593.5 1315.5 L601.5 1315.5 L601.5 1320.5 L604.5 1320.5 L604.5 1329.5 L608.5 1329.5 L608.5 1334.5 L619.5 1334.5 L619.5 1340.5 L623.5 1340.5 L623.5 1345.5 L641.5 1345.5 L641.5 1352.5 L646.5 1352.5 L646.5 1360.5 L657.5 1360.5 L657.5 1369.5 L864.5 1369.5" stroke="#2E2183" stroke-width="1.4" fill="none" clip-path="url(#c10)" stroke-linejoin="miter"/>
<path d="M603.5 1316.2v8.7M599.1 1320.5h8.7M616.5 1330.2v8.7M612.1 1334.5h8.7M631.5 1341.2v8.7M627.1 1345.5h8.7M637.5 1341.2v8.7M633.1 1345.5h8.7M640.5 1341.2v8.7M636.1 1345.5h8.7M645.5 1348.2v8.7M641.1 1352.5h8.7M653.5 1356.2v8.7M649.1 1360.5h8.7M663.5 1365.2v8.7M659.1 1369.5h8.7M664.5 1365.2v8.7M660.1 1369.5h8.7M689.5 1365.2v8.7M685.1 1369.5h8.7M690.5 1365.2v8.7M686.1 1369.5h8.7M701.5 1365.2v8.7M697.1 1369.5h8.7M702.5 1365.2v8.7M698.1 1369.5h8.7M712.5 1365.2v8.7M708.1 1369.5h8.7M728.5 1365.2v8.7M724.1 1369.5h8.7M743.5 1365.2v8.7M739.1 1369.5h8.7M792.5 1365.2v8.7M788.1 1369.5h8.7M796.5 1365.2v8.7M792.1 1369.5h8.7M806.5 1365.2v8.7M802.1 1369.5h8.7M861.5 1365.2v8.7M857.1 1369.5h8.7" stroke="#2E2183" stroke-width="1.6" fill="none" clip-path="url(#c10)"/>
<path d="M593.5 1311.2v8.7M589.1 1315.5h8.7M595.5 1311.2v8.7M591.1 1315.5h8.7M597.5 1311.2v8.7M593.1 1315.5h8.7M601.5 1311.2v8.7M597.1 1315.5h8.7M605.5 1320.2v8.7M601.1 1324.5h8.7M611.5 1331.2v8.7M607.1 1335.5h8.7M617.5 1338.2v8.7M613.1 1342.5h8.7M624.5 1353.2v8.7M620.1 1357.5h8.7M627.5 1356.2v8.7M623.1 1360.5h8.7M639.5 1381.2v8.7M635.1 1385.5h8.7M640.5 1387.2v8.7M636.1 1391.5h8.7M641.5 1391.2v8.7M637.1 1395.5h8.7M643.5 1391.2v8.7M639.1 1395.5h8.7M645.5 1394.2v8.7M641.1 1398.5h8.7M650.5 1397.2v8.7M646.1 1401.5h8.7M657.5 1421.2v8.7M653.1 1425.5h8.7M659.5 1423.2v8.7M655.1 1427.5h8.7M661.5 1426.2v8.7M657.1 1430.5h8.7M663.5 1426.2v8.7M659.1 1430.5h8.7M664.5 1429.2v8.7M660.1 1433.5h8.7M686.5 1441.2v8.7M682.1 1445.5h8.7M688.5 1441.2v8.7M684.1 1445.5h8.7M693.5 1441.2v8.7M689.1 1445.5h8.7M696.5 1441.2v8.7M692.1 1445.5h8.7M718.5 1450.2v8.7M714.1 1454.5h8.7M768.5 1450.2v8.7M764.1 1454.5h8.7M783.5 1450.2v8.7M779.1 1454.5h8.7M790.5 1450.2v8.7M786.1 1454.5h8.7" stroke="#F2A20F" stroke-width="1.4" fill="none" clip-path="url(#c10)"/>
<clipPath id="c20"><rect x="968.9" y="1301.7" width="321.4" height="197"/></clipPath>
<path d="M968.9 1307.7V1498.7H1290.3" stroke="#000" stroke-width="1.7" fill="none" stroke-linecap="square"/>
<line x1="964.7" y1="1315" x2="968.9" y2="1315" stroke="#000" stroke-width="1.4" stroke-linecap="butt"/>
<text x="961.6" y="1320.1" font-size="14.2" text-anchor="end" fill="#000">1.00</text>
<line x1="964.7" y1="1358.8" x2="968.9" y2="1358.8" stroke="#000" stroke-width="1.4" stroke-linecap="butt"/>
<text x="961.6" y="1363.9" font-size="14.2" text-anchor="end" fill="#000">0.75</text>
<line x1="964.7" y1="1402.7" x2="968.9" y2="1402.7" stroke="#000" stroke-width="1.4" stroke-linecap="butt"/>
<text x="961.6" y="1407.8" font-size="14.2" text-anchor="end" fill="#000">0.50</text>
<line x1="964.7" y1="1446.6" x2="968.9" y2="1446.6" stroke="#000" stroke-width="1.4" stroke-linecap="butt"/>
<text x="961.6" y="1451.6" font-size="14.2" text-anchor="end" fill="#000">0.25</text>
<line x1="964.7" y1="1490.4" x2="968.9" y2="1490.4" stroke="#000" stroke-width="1.4" stroke-linecap="butt"/>
<text x="961.6" y="1495.5" font-size="14.2" text-anchor="end" fill="#000">0.00</text>
<line x1="983.3" y1="1498.7" x2="983.3" y2="1502.9" stroke="#000" stroke-width="1.4" stroke-linecap="butt"/>
<text x="983.3" y="1515.6" font-size="14.2" text-anchor="middle" fill="#000">0</text>
<line x1="1056.7" y1="1498.7" x2="1056.7" y2="1502.9" stroke="#000" stroke-width="1.4" stroke-linecap="butt"/>
<text x="1056.7" y="1515.6" font-size="14.2" text-anchor="middle" fill="#000">1000</text>
<line x1="1130" y1="1498.7" x2="1130" y2="1502.9" stroke="#000" stroke-width="1.4" stroke-linecap="butt"/>
<text x="1130" y="1515.6" font-size="14.2" text-anchor="middle" fill="#000">2000</text>
<line x1="1203.4" y1="1498.7" x2="1203.4" y2="1502.9" stroke="#000" stroke-width="1.4" stroke-linecap="butt"/>
<text x="1203.4" y="1515.6" font-size="14.2" text-anchor="middle" fill="#000">3000</text>
<line x1="1276.8" y1="1498.7" x2="1276.8" y2="1502.9" stroke="#000" stroke-width="1.4" stroke-linecap="butt"/>
<text x="1276.8" y="1515.6" font-size="14.2" text-anchor="middle" fill="#000">4000</text>
<text x="1130" y="1534.6" font-size="16.3" text-anchor="middle" fill="#000">Time</text>
<text x="926.8" y="1402.7" font-size="17" text-anchor="middle" transform="rotate(-90 926.8 1402.7)">Survival probability</text>
<text x="969.2" y="1245.3" font-size="19.2" text-anchor="start" fill="#000">CN2 THYM</text>
<text x="993.7" y="1461.3" font-size="17.1" text-anchor="start" fill="#000">q = 0.078</text>
<line x1="998.5" y1="1274.7" x2="1014.8" y2="1274.7" stroke="#2E2183" stroke-width="1.4" stroke-linecap="butt"/>
<line x1="1006.6" y1="1270.5" x2="1006.6" y2="1278.9" stroke="#2E2183" stroke-width="1.4" stroke-linecap="butt"/>
<text x="1022.6" y="1279" font-size="12.1" text-anchor="start" fill="#000">CN2 sig. unattributed</text>
<line x1="1145.4" y1="1274.7" x2="1161.7" y2="1274.7" stroke="#F2A20F" stroke-width="1.4" stroke-linecap="butt"/>
<line x1="1153.6" y1="1270.5" x2="1153.6" y2="1278.9" stroke="#F2A20F" stroke-width="1.4" stroke-linecap="butt"/>
<text x="1169.5" y="1279" font-size="12.1" text-anchor="start" fill="#000">CN2 sig. attributed</text>
<path d="M968.9 1579V1611.5H1290.3" stroke="#000" stroke-width="1.7" fill="none" stroke-linecap="square"/>
<line x1="983.3" y1="1611.5" x2="983.3" y2="1615.7" stroke="#000" stroke-width="1.4" stroke-linecap="butt"/>
<text x="983.3" y="1628.9" font-size="14.2" text-anchor="middle" fill="#000">0</text>
<text x="983.3" y="1591.1" font-size="10.2" text-anchor="middle" fill="#000">60</text>
<text x="983.3" y="1606.5" font-size="10.2" text-anchor="middle" fill="#000">16</text>
<line x1="1056.7" y1="1611.5" x2="1056.7" y2="1615.7" stroke="#000" stroke-width="1.4" stroke-linecap="butt"/>
<text x="1056.7" y="1628.9" font-size="14.2" text-anchor="middle" fill="#000">1000</text>
<text x="1056.7" y="1591.1" font-size="10.2" text-anchor="middle" fill="#000">34</text>
<text x="1056.7" y="1606.5" font-size="10.2" text-anchor="middle" fill="#000">5</text>
<line x1="1130" y1="1611.5" x2="1130" y2="1615.7" stroke="#000" stroke-width="1.4" stroke-linecap="butt"/>
<text x="1130" y="1628.9" font-size="14.2" text-anchor="middle" fill="#000">2000</text>
<text x="1130" y="1591.1" font-size="10.2" text-anchor="middle" fill="#000">13</text>
<text x="1130" y="1606.5" font-size="10.2" text-anchor="middle" fill="#000">1</text>
<line x1="1203.4" y1="1611.5" x2="1203.4" y2="1615.7" stroke="#000" stroke-width="1.4" stroke-linecap="butt"/>
<text x="1203.4" y="1628.9" font-size="14.2" text-anchor="middle" fill="#000">3000</text>
<text x="1203.4" y="1591.1" font-size="10.2" text-anchor="middle" fill="#000">4</text>
<text x="1203.4" y="1606.5" font-size="10.2" text-anchor="middle" fill="#000">0</text>
<line x1="1276.8" y1="1611.5" x2="1276.8" y2="1615.7" stroke="#000" stroke-width="1.4" stroke-linecap="butt"/>
<text x="1276.8" y="1628.9" font-size="14.2" text-anchor="middle" fill="#000">4000</text>
<text x="1276.8" y="1591.1" font-size="10.2" text-anchor="middle" fill="#000">1</text>
<text x="1276.8" y="1606.5" font-size="10.2" text-anchor="middle" fill="#000">0</text>
<text x="1130" y="1646.8" font-size="16.3" text-anchor="middle" fill="#000">Time</text>
<rect x="944.8" y="1583" width="14.6" height="5" fill="#2E2183"/>
<rect x="944.8" y="1598.4" width="14.6" height="5" fill="#F2A20F"/>
<path d="M983.5 1315.5 L1010.5 1315.5 L1010.5 1327.5 L1045.5 1327.5 L1045.5 1350.5 L1171.5 1350.5" stroke="#F2A20F" stroke-width="1.2" fill="none" clip-path="url(#c20)" stroke-linejoin="miter"/>
<path d="M983.5 1315.5 L1318.5 1315.5" stroke="#2E2183" stroke-width="1.4" fill="none" clip-path="url(#c20)" stroke-linejoin="miter"/>
<path d="M987.5 1311.2v8.7M983.1 1315.5h8.7M992.5 1311.2v8.7M988.1 1315.5h8.7M1004.5 1311.2v8.7M1000.1 1315.5h8.7M1007.5 1311.2v8.7M1003.1 1315.5h8.7M1010.5 1311.2v8.7M1006.1 1315.5h8.7M1012.5 1311.2v8.7M1008.1 1315.5h8.7M1014.5 1311.2v8.7M1010.1 1315.5h8.7M1015.5 1311.2v8.7M1011.1 1315.5h8.7M1030.5 1311.2v8.7M1026.2 1315.5h8.7M1033.5 1311.2v8.7M1029.2 1315.5h8.7M1035.5 1311.2v8.7M1031.2 1315.5h8.7M1036.5 1311.2v8.7M1032.2 1315.5h8.7M1040.5 1311.2v8.7M1036.2 1315.5h8.7M1042.5 1311.2v8.7M1038.2 1315.5h8.7M1043.5 1311.2v8.7M1039.2 1315.5h8.7M1049.5 1311.2v8.7M1045.2 1315.5h8.7M1054.5 1311.2v8.7M1050.2 1315.5h8.7M1060.5 1311.2v8.7M1056.2 1315.5h8.7M1065.5 1311.2v8.7M1061.2 1315.5h8.7M1068.5 1311.2v8.7M1064.2 1315.5h8.7M1075.5 1311.2v8.7M1071.2 1315.5h8.7M1077.5 1311.2v8.7M1073.2 1315.5h8.7M1085.5 1311.2v8.7M1081.2 1315.5h8.7M1094.5 1311.2v8.7M1090.2 1315.5h8.7M1101.5 1311.2v8.7M1097.2 1315.5h8.7M1104.5 1311.2v8.7M1100.2 1315.5h8.7M1115.5 1311.2v8.7M1111.2 1315.5h8.7M1123.5 1311.2v8.7M1119.2 1315.5h8.7M1126.5 1311.2v8.7M1122.2 1315.5h8.7M1129.5 1311.2v8.7M1125.2 1315.5h8.7M1135.5 1311.2v8.7M1131.2 1315.5h8.7M1142.5 1311.2v8.7M1138.2 1315.5h8.7M1145.5 1311.2v8.7M1141.2 1315.5h8.7M1155.5 1311.2v8.7M1151.2 1315.5h8.7M1156.5 1311.2v8.7M1152.2 1315.5h8.7M1184.5 1311.2v8.7M1180.2 1315.5h8.7M1197.5 1311.2v8.7M1193.2 1315.5h8.7M1198.5 1311.2v8.7M1194.2 1315.5h8.7M1200.5 1311.2v8.7M1196.2 1315.5h8.7M1223.5 1311.2v8.7M1219.2 1315.5h8.7M1251.5 1311.2v8.7M1247.2 1315.5h8.7M1262.5 1311.2v8.7M1258.2 1315.5h8.7" stroke="#2E2183" stroke-width="1.6" fill="none" clip-path="url(#c20)"/>
<path d="M996.5 1311.2v8.7M992.1 1315.5h8.7M1012.5 1323.2v8.7M1008.1 1327.5h8.7M1015.5 1323.2v8.7M1011.1 1327.5h8.7M1031.5 1323.2v8.7M1027.2 1327.5h8.7M1035.5 1323.2v8.7M1031.2 1327.5h8.7M1040.5 1323.2v8.7M1036.2 1327.5h8.7M1045.5 1323.2v8.7M1041.2 1327.5h8.7M1052.5 1346.2v8.7M1048.2 1350.5h8.7M1093.5 1346.2v8.7M1089.2 1350.5h8.7M1095.5 1346.2v8.7M1091.2 1350.5h8.7M1101.5 1346.2v8.7M1097.2 1350.5h8.7M1114.5 1346.2v8.7M1110.2 1350.5h8.7M1168.5 1346.2v8.7M1164.2 1350.5h8.7" stroke="#F2A20F" stroke-width="1.4" fill="none" clip-path="url(#c20)"/>
<clipPath id="c30"><rect x="1359" y="1301.7" width="321.4" height="197"/></clipPath>
<path d="M1359 1307.7V1498.7H1680.4" stroke="#000" stroke-width="1.7" fill="none" stroke-linecap="square"/>
<line x1="1354.8" y1="1315" x2="1359" y2="1315" stroke="#000" stroke-width="1.4" stroke-linecap="butt"/>
<text x="1351.7" y="1320.1" font-size="14.2" text-anchor="end" fill="#000">1.00</text>
<line x1="1354.8" y1="1358.8" x2="1359" y2="1358.8" stroke="#000" stroke-width="1.4" stroke-linecap="butt"/>
<text x="1351.7" y="1363.9" font-size="14.2" text-anchor="end" fill="#000">0.75</text>
<line x1="1354.8" y1="1402.7" x2="1359" y2="1402.7" stroke="#000" stroke-width="1.4" stroke-linecap="butt"/>
<text x="1351.7" y="1407.8" font-size="14.2" text-anchor="end" fill="#000">0.50</text>
<line x1="1354.8" y1="1446.6" x2="1359" y2="1446.6" stroke="#000" stroke-width="1.4" stroke-linecap="butt"/>
<text x="1351.7" y="1451.6" font-size="14.2" text-anchor="end" fill="#000">0.25</text>
<line x1="1354.8" y1="1490.4" x2="1359" y2="1490.4" stroke="#000" stroke-width="1.4" stroke-linecap="butt"/>
<text x="1351.7" y="1495.5" font-size="14.2" text-anchor="end" fill="#000">0.00</text>
<line x1="1373.4" y1="1498.7" x2="1373.4" y2="1502.9" stroke="#000" stroke-width="1.4" stroke-linecap="butt"/>
<text x="1373.4" y="1515.6" font-size="14.2" text-anchor="middle" fill="#000">0</text>
<line x1="1432.1" y1="1498.7" x2="1432.1" y2="1502.9" stroke="#000" stroke-width="1.4" stroke-linecap="butt"/>
<text x="1432.1" y="1515.6" font-size="14.2" text-anchor="middle" fill="#000">1000</text>
<line x1="1490.8" y1="1498.7" x2="1490.8" y2="1502.9" stroke="#000" stroke-width="1.4" stroke-linecap="butt"/>
<text x="1490.8" y="1515.6" font-size="14.2" text-anchor="middle" fill="#000">2000</text>
<line x1="1549.5" y1="1498.7" x2="1549.5" y2="1502.9" stroke="#000" stroke-width="1.4" stroke-linecap="butt"/>
<text x="1549.5" y="1515.6" font-size="14.2" text-anchor="middle" fill="#000">3000</text>
<line x1="1608.2" y1="1498.7" x2="1608.2" y2="1502.9" stroke="#000" stroke-width="1.4" stroke-linecap="butt"/>
<text x="1608.2" y="1515.6" font-size="14.2" text-anchor="middle" fill="#000">4000</text>
<line x1="1666.9" y1="1498.7" x2="1666.9" y2="1502.9" stroke="#000" stroke-width="1.4" stroke-linecap="butt"/>
<text x="1666.9" y="1515.6" font-size="14.2" text-anchor="middle" fill="#000">5000</text>
<text x="1520.2" y="1534.6" font-size="16.3" text-anchor="middle" fill="#000">Time</text>
<text x="1316.9" y="1402.7" font-size="17" text-anchor="middle" transform="rotate(-90 1316.9 1402.7)">Survival probability</text>
<text x="1359.3" y="1245.3" font-size="19.2" text-anchor="start" fill="#000">CN6 ACC</text>
<text x="1383.8" y="1461.3" font-size="17.1" text-anchor="start" fill="#000">q = 0.092</text>
<line x1="1388.6" y1="1274.7" x2="1404.9" y2="1274.7" stroke="#2E2183" stroke-width="1.4" stroke-linecap="butt"/>
<line x1="1396.7" y1="1270.5" x2="1396.7" y2="1278.9" stroke="#2E2183" stroke-width="1.4" stroke-linecap="butt"/>
<text x="1412.7" y="1279" font-size="12.1" text-anchor="start" fill="#000">CN6 sig. unattributed</text>
<line x1="1535.5" y1="1274.7" x2="1551.8" y2="1274.7" stroke="#F2A20F" stroke-width="1.4" stroke-linecap="butt"/>
<line x1="1543.7" y1="1270.5" x2="1543.7" y2="1278.9" stroke="#F2A20F" stroke-width="1.4" stroke-linecap="butt"/>
<text x="1559.6" y="1279" font-size="12.1" text-anchor="start" fill="#000">CN6 sig. attributed</text>
<path d="M1359 1579V1611.5H1680.4" stroke="#000" stroke-width="1.7" fill="none" stroke-linecap="square"/>
<line x1="1373.4" y1="1611.5" x2="1373.4" y2="1615.7" stroke="#000" stroke-width="1.4" stroke-linecap="butt"/>
<text x="1373.4" y="1628.9" font-size="14.2" text-anchor="middle" fill="#000">0</text>
<text x="1373.4" y="1591.1" font-size="10.2" text-anchor="middle" fill="#000">70</text>
<text x="1373.4" y="1606.5" font-size="10.2" text-anchor="middle" fill="#000">17</text>
<line x1="1432.1" y1="1611.5" x2="1432.1" y2="1615.7" stroke="#000" stroke-width="1.4" stroke-linecap="butt"/>
<text x="1432.1" y="1628.9" font-size="14.2" text-anchor="middle" fill="#000">1000</text>
<text x="1432.1" y="1591.1" font-size="10.2" text-anchor="middle" fill="#000">44</text>
<text x="1432.1" y="1606.5" font-size="10.2" text-anchor="middle" fill="#000">6</text>
<line x1="1490.8" y1="1611.5" x2="1490.8" y2="1615.7" stroke="#000" stroke-width="1.4" stroke-linecap="butt"/>
<text x="1490.8" y="1628.9" font-size="14.2" text-anchor="middle" fill="#000">2000</text>
<text x="1490.8" y="1591.1" font-size="10.2" text-anchor="middle" fill="#000">24</text>
<text x="1490.8" y="1606.5" font-size="10.2" text-anchor="middle" fill="#000">1</text>
<line x1="1549.5" y1="1611.5" x2="1549.5" y2="1615.7" stroke="#000" stroke-width="1.4" stroke-linecap="butt"/>
<text x="1549.5" y="1628.9" font-size="14.2" text-anchor="middle" fill="#000">3000</text>
<text x="1549.5" y="1591.1" font-size="10.2" text-anchor="middle" fill="#000">6</text>
<text x="1549.5" y="1606.5" font-size="10.2" text-anchor="middle" fill="#000">1</text>
<line x1="1608.2" y1="1611.5" x2="1608.2" y2="1615.7" stroke="#000" stroke-width="1.4" stroke-linecap="butt"/>
<text x="1608.2" y="1628.9" font-size="14.2" text-anchor="middle" fill="#000">4000</text>
<text x="1608.2" y="1591.1" font-size="10.2" text-anchor="middle" fill="#000">2</text>
<text x="1608.2" y="1606.5" font-size="10.2" text-anchor="middle" fill="#000">0</text>
<line x1="1666.9" y1="1611.5" x2="1666.9" y2="1615.7" stroke="#000" stroke-width="1.4" stroke-linecap="butt"/>
<text x="1666.9" y="1628.9" font-size="14.2" text-anchor="middle" fill="#000">5000</text>
<text x="1666.9" y="1591.1" font-size="10.2" text-anchor="middle" fill="#000">0</text>
<text x="1666.9" y="1606.5" font-size="10.2" text-anchor="middle" fill="#000">0</text>
<text x="1520.2" y="1646.8" font-size="16.3" text-anchor="middle" fill="#000">Time</text>
<rect x="1334.9" y="1583" width="14.6" height="5" fill="#2E2183"/>
<rect x="1334.9" y="1598.4" width="14.6" height="5" fill="#F2A20F"/>
<path d="M1373.5 1315.5 L1373.5 1325.5 L1394.5 1325.5 L1396.5 1325.5 L1396.5 1328.5 L1397.5 1328.5 L1397.5 1332.5 L1398.5 1332.5 L1398.5 1335.5 L1402.5 1335.5 L1402.5 1359.5 L1406.5 1359.5 L1406.5 1383.5 L1412.5 1383.5 L1412.5 1395.5 L1453.5 1395.5 L1453.5 1418.5 L1468.5 1418.5 L1468.5 1454.5 L1593.5 1454.5" stroke="#F2A20F" stroke-width="1.2" fill="none" clip-path="url(#c30)" stroke-linejoin="miter"/>
<path d="M1373.5 1315.5 L1382.5 1315.5 L1382.5 1320.5 L1394.5 1320.5 L1394.5 1324.5 L1398.5 1324.5 L1398.5 1329.5 L1401.5 1329.5 L1401.5 1334.5 L1406.5 1334.5 L1406.5 1340.5 L1431.5 1340.5 L1431.5 1345.5 L1440.5 1345.5 L1440.5 1350.5 L1444.5 1350.5 L1444.5 1357.5 L1472.5 1357.5 L1472.5 1361.5 L1495.5 1361.5 L1495.5 1368.5 L1513.5 1368.5 L1513.5 1376.5 L1514.5 1376.5 L1514.5 1385.5 L1651.5 1385.5" stroke="#2E2183" stroke-width="1.4" fill="none" clip-path="url(#c30)" stroke-linejoin="miter"/>
<path d="M1400.5 1325.2v8.7M1396.2 1329.5h8.7M1403.5 1330.2v8.7M1399.2 1334.5h8.7M1408.5 1336.2v8.7M1404.2 1340.5h8.7M1412.5 1336.2v8.7M1408.2 1340.5h8.7M1415.5 1336.2v8.7M1411.2 1340.5h8.7M1417.5 1336.2v8.7M1413.2 1340.5h8.7M1424.5 1336.2v8.7M1420.2 1340.5h8.7M1426.5 1336.2v8.7M1422.2 1340.5h8.7M1428.5 1336.2v8.7M1424.2 1340.5h8.7M1432.5 1341.2v8.7M1428.2 1345.5h8.7M1437.5 1341.2v8.7M1433.2 1345.5h8.7M1443.5 1346.2v8.7M1439.2 1350.5h8.7M1450.5 1353.2v8.7M1446.2 1357.5h8.7M1452.5 1353.2v8.7M1448.2 1357.5h8.7M1455.5 1353.2v8.7M1451.2 1357.5h8.7M1461.5 1353.2v8.7M1457.2 1357.5h8.7M1467.5 1353.2v8.7M1463.2 1357.5h8.7M1478.5 1357.2v8.7M1474.2 1361.5h8.7M1482.5 1357.2v8.7M1478.2 1361.5h8.7M1493.5 1357.2v8.7M1489.2 1361.5h8.7M1494.5 1357.2v8.7M1490.2 1361.5h8.7M1496.5 1364.2v8.7M1492.2 1368.5h8.7M1498.5 1364.2v8.7M1494.2 1368.5h8.7M1503.5 1364.2v8.7M1499.2 1368.5h8.7M1510.5 1364.2v8.7M1506.2 1368.5h8.7M1523.5 1381.2v8.7M1519.2 1385.5h8.7M1531.5 1381.2v8.7M1527.2 1385.5h8.7M1533.5 1381.2v8.7M1529.2 1385.5h8.7M1535.5 1381.2v8.7M1531.2 1385.5h8.7M1536.5 1381.2v8.7M1532.2 1385.5h8.7M1544.5 1381.2v8.7M1540.2 1385.5h8.7M1552.5 1381.2v8.7M1548.2 1385.5h8.7M1566.5 1381.2v8.7M1562.2 1385.5h8.7M1577.5 1381.2v8.7M1573.2 1385.5h8.7M1601.5 1381.2v8.7M1597.2 1385.5h8.7M1645.5 1381.2v8.7M1641.2 1385.5h8.7M1648.5 1381.2v8.7M1644.2 1385.5h8.7" stroke="#2E2183" stroke-width="1.6" fill="none" clip-path="url(#c30)"/>
<path d="M1398.5 1323.2v8.7M1394.2 1327.5h8.7M1399.5 1331.2v8.7M1395.2 1335.5h8.7M1422.5 1391.2v8.7M1418.2 1395.5h8.7M1429.5 1391.2v8.7M1425.2 1395.5h8.7M1438.5 1391.2v8.7M1434.2 1395.5h8.7M1443.5 1391.2v8.7M1439.2 1395.5h8.7M1461.5 1414.2v8.7M1457.2 1418.5h8.7M1590.5 1450.2v8.7M1586.2 1454.5h8.7" stroke="#F2A20F" stroke-width="1.4" fill="none" clip-path="url(#c30)"/>
<clipPath id="c01"><rect x="187.6" y="1735.6" width="321.4" height="197"/></clipPath>
<path d="M187.6 1741.6V1932.6H509" stroke="#000" stroke-width="1.7" fill="none" stroke-linecap="square"/>
<line x1="183.4" y1="1748.9" x2="187.6" y2="1748.9" stroke="#000" stroke-width="1.4" stroke-linecap="butt"/>
<text x="180.3" y="1754" font-size="14.2" text-anchor="end" fill="#000">1.00</text>
<line x1="183.4" y1="1792.8" x2="187.6" y2="1792.8" stroke="#000" stroke-width="1.4" stroke-linecap="butt"/>
<text x="180.3" y="1797.8" font-size="14.2" text-anchor="end" fill="#000">0.75</text>
<line x1="183.4" y1="1836.6" x2="187.6" y2="1836.6" stroke="#000" stroke-width="1.4" stroke-linecap="butt"/>
<text x="180.3" y="1841.7" font-size="14.2" text-anchor="end" fill="#000">0.50</text>
<line x1="183.4" y1="1880.5" x2="187.6" y2="1880.5" stroke="#000" stroke-width="1.4" stroke-linecap="butt"/>
<text x="180.3" y="1885.5" font-size="14.2" text-anchor="end" fill="#000">0.25</text>
<line x1="183.4" y1="1924.3" x2="187.6" y2="1924.3" stroke="#000" stroke-width="1.4" stroke-linecap="butt"/>
<text x="180.3" y="1929.4" font-size="14.2" text-anchor="end" fill="#000">0.00</text>
<line x1="202" y1="1932.6" x2="202" y2="1936.8" stroke="#000" stroke-width="1.4" stroke-linecap="butt"/>
<text x="202" y="1949.5" font-size="14.2" text-anchor="middle" fill="#000">0</text>
<line x1="250.9" y1="1932.6" x2="250.9" y2="1936.8" stroke="#000" stroke-width="1.4" stroke-linecap="butt"/>
<text x="250.9" y="1949.5" font-size="14.2" text-anchor="middle" fill="#000">1000</text>
<line x1="299.8" y1="1932.6" x2="299.8" y2="1936.8" stroke="#000" stroke-width="1.4" stroke-linecap="butt"/>
<text x="299.8" y="1949.5" font-size="14.2" text-anchor="middle" fill="#000">2000</text>
<line x1="348.8" y1="1932.6" x2="348.8" y2="1936.8" stroke="#000" stroke-width="1.4" stroke-linecap="butt"/>
<text x="348.8" y="1949.5" font-size="14.2" text-anchor="middle" fill="#000">3000</text>
<line x1="397.7" y1="1932.6" x2="397.7" y2="1936.8" stroke="#000" stroke-width="1.4" stroke-linecap="butt"/>
<text x="397.7" y="1949.5" font-size="14.2" text-anchor="middle" fill="#000">4000</text>
<line x1="446.6" y1="1932.6" x2="446.6" y2="1936.8" stroke="#000" stroke-width="1.4" stroke-linecap="butt"/>
<text x="446.6" y="1949.5" font-size="14.2" text-anchor="middle" fill="#000">5000</text>
<line x1="495.5" y1="1932.6" x2="495.5" y2="1936.8" stroke="#000" stroke-width="1.4" stroke-linecap="butt"/>
<text x="495.5" y="1949.5" font-size="14.2" text-anchor="middle" fill="#000">6000</text>
<text x="348.8" y="1968.5" font-size="16.3" text-anchor="middle" fill="#000">Time</text>
<text x="145.5" y="1836.6" font-size="17" text-anchor="middle" transform="rotate(-90 145.5 1836.6)">Survival probability</text>
<text x="187.9" y="1679.2" font-size="19.2" text-anchor="start" fill="#000">CN1 UCEC</text>
<text x="212.4" y="1895.2" font-size="17.1" text-anchor="start" fill="#000">q = 0.025</text>
<line x1="217.2" y1="1708.6" x2="233.5" y2="1708.6" stroke="#2E2183" stroke-width="1.4" stroke-linecap="butt"/>
<line x1="225.3" y1="1704.4" x2="225.3" y2="1712.8" stroke="#2E2183" stroke-width="1.4" stroke-linecap="butt"/>
<text x="241.3" y="1712.9" font-size="12.1" text-anchor="start" fill="#000">CN1 sig. unattributed</text>
<line x1="364.1" y1="1708.6" x2="380.4" y2="1708.6" stroke="#F2A20F" stroke-width="1.4" stroke-linecap="butt"/>
<line x1="372.3" y1="1704.4" x2="372.3" y2="1712.8" stroke="#F2A20F" stroke-width="1.4" stroke-linecap="butt"/>
<text x="388.2" y="1712.9" font-size="12.1" text-anchor="start" fill="#000">CN1 sig. attributed</text>
<path d="M187.6 2012.9V2045.4H509" stroke="#000" stroke-width="1.7" fill="none" stroke-linecap="square"/>
<line x1="202" y1="2045.4" x2="202" y2="2049.6" stroke="#000" stroke-width="1.4" stroke-linecap="butt"/>
<text x="202" y="2062.8" font-size="14.2" text-anchor="middle" fill="#000">0</text>
<text x="202" y="2025" font-size="10.2" text-anchor="middle" fill="#000">144</text>
<text x="202" y="2040.4" font-size="10.2" text-anchor="middle" fill="#000">277</text>
<line x1="250.9" y1="2045.4" x2="250.9" y2="2049.6" stroke="#000" stroke-width="1.4" stroke-linecap="butt"/>
<text x="250.9" y="2062.8" font-size="14.2" text-anchor="middle" fill="#000">1000</text>
<text x="250.9" y="2025" font-size="10.2" text-anchor="middle" fill="#000">58</text>
<text x="250.9" y="2040.4" font-size="10.2" text-anchor="middle" fill="#000">119</text>
<line x1="299.8" y1="2045.4" x2="299.8" y2="2049.6" stroke="#000" stroke-width="1.4" stroke-linecap="butt"/>
<text x="299.8" y="2062.8" font-size="14.2" text-anchor="middle" fill="#000">2000</text>
<text x="299.8" y="2025" font-size="10.2" text-anchor="middle" fill="#000">24</text>
<text x="299.8" y="2040.4" font-size="10.2" text-anchor="middle" fill="#000">44</text>
<line x1="348.8" y1="2045.4" x2="348.8" y2="2049.6" stroke="#000" stroke-width="1.4" stroke-linecap="butt"/>
<text x="348.8" y="2062.8" font-size="14.2" text-anchor="middle" fill="#000">3000</text>
<text x="348.8" y="2025" font-size="10.2" text-anchor="middle" fill="#000">8</text>
<text x="348.8" y="2040.4" font-size="10.2" text-anchor="middle" fill="#000">9</text>
<line x1="397.7" y1="2045.4" x2="397.7" y2="2049.6" stroke="#000" stroke-width="1.4" stroke-linecap="butt"/>
<text x="397.7" y="2062.8" font-size="14.2" text-anchor="middle" fill="#000">4000</text>
<text x="397.7" y="2025" font-size="10.2" text-anchor="middle" fill="#000">1</text>
<text x="397.7" y="2040.4" font-size="10.2" text-anchor="middle" fill="#000">2</text>
<line x1="446.6" y1="2045.4" x2="446.6" y2="2049.6" stroke="#000" stroke-width="1.4" stroke-linecap="butt"/>
<text x="446.6" y="2062.8" font-size="14.2" text-anchor="middle" fill="#000">5000</text>
<text x="446.6" y="2025" font-size="10.2" text-anchor="middle" fill="#000">0</text>
<text x="446.6" y="2040.4" font-size="10.2" text-anchor="middle" fill="#000">1</text>
<line x1="495.5" y1="2045.4" x2="495.5" y2="2049.6" stroke="#000" stroke-width="1.4" stroke-linecap="butt"/>
<text x="495.5" y="2062.8" font-size="14.2" text-anchor="middle" fill="#000">6000</text>
<text x="495.5" y="2025" font-size="10.2" text-anchor="middle" fill="#000">0</text>
<text x="495.5" y="2040.4" font-size="10.2" text-anchor="middle" fill="#000">0</text>
<text x="348.8" y="2080.7" font-size="16.3" text-anchor="middle" fill="#000">Time</text>
<rect x="163.5" y="2016.9" width="14.6" height="5" fill="#2E2183"/>
<rect x="163.5" y="2032.3" width="14.6" height="5" fill="#F2A20F"/>
<path d="M201.5 1748.5 L205.5 1748.5 L205.5 1751.5 L208.5 1751.5 L208.5 1753.5 L211.5 1753.5 L211.5 1755.5 L214.5 1755.5 L214.5 1756.5 L217.5 1756.5 L217.5 1757.5 L220.5 1757.5 L220.5 1759.5 L222.5 1759.5 L222.5 1760.5 L225.5 1760.5 L225.5 1762.5 L229.5 1762.5 L229.5 1764.5 L232.5 1764.5 L232.5 1767.5 L234.5 1767.5 L234.5 1771.5 L236.5 1771.5 L236.5 1774.5 L239.5 1774.5 L239.5 1776.5 L242.5 1776.5 L242.5 1777.5 L245.5 1777.5 L245.5 1778.5 L248.5 1778.5 L248.5 1781.5 L250.5 1781.5 L250.5 1784.5 L253.5 1784.5 L253.5 1785.5 L256.5 1785.5 L256.5 1787.5 L259.5 1787.5 L259.5 1788.5 L262.5 1788.5 L262.5 1788.5 L264.5 1788.5 L264.5 1788.5 L267.5 1788.5 L267.5 1789.5 L270.5 1789.5 L270.5 1789.5 L270.5 1794.5 L274.5 1794.5 L274.5 1799.5 L316.5 1799.5 L316.5 1802.5 L319.5 1802.5 L319.5 1806.5 L409.5 1806.5" stroke="#2E2183" stroke-width="1.4" fill="none" clip-path="url(#c01)" stroke-linejoin="miter"/>
<path d="M201.5 1748.5 L205.5 1748.5 L205.5 1749.5 L208.5 1749.5 L208.5 1749.5 L211.5 1749.5 L211.5 1749.5 L214.5 1749.5 L214.5 1750.5 L217.5 1750.5 L217.5 1750.5 L220.5 1750.5 L220.5 1751.5 L222.5 1751.5 L222.5 1751.5 L225.5 1751.5 L225.5 1752.5 L228.5 1752.5 L228.5 1753.5 L231.5 1753.5 L231.5 1754.5 L234.5 1754.5 L234.5 1755.5 L236.5 1755.5 L236.5 1755.5 L239.5 1755.5 L239.5 1756.5 L242.5 1756.5 L242.5 1757.5 L245.5 1757.5 L245.5 1758.5 L248.5 1758.5 L248.5 1759.5 L250.5 1759.5 L250.5 1760.5 L253.5 1760.5 L253.5 1762.5 L256.5 1762.5 L256.5 1763.5 L259.5 1763.5 L259.5 1763.5 L262.5 1763.5 L262.5 1764.5 L264.5 1764.5 L264.5 1764.5 L267.5 1764.5 L267.5 1765.5 L270.5 1765.5 L270.5 1765.5 L273.5 1765.5 L273.5 1766.5 L276.5 1766.5 L276.5 1766.5 L278.5 1766.5 L278.5 1767.5 L281.5 1767.5 L281.5 1767.5 L284.5 1767.5 L284.5 1768.5 L287.5 1768.5 L287.5 1768.5 L290.5 1768.5 L290.5 1768.5 L292.5 1768.5 L292.5 1769.5 L297.5 1769.5 L297.5 1771.5 L482.5 1771.5" stroke="#F2A20F" stroke-width="1.2" fill="none" clip-path="url(#c01)" stroke-linejoin="miter"/>
<path d="M270.5 1790.2v8.7M266.1 1794.5h8.7M276.5 1795.2v8.7M272.1 1799.5h8.7M279.5 1795.2v8.7M275.1 1799.5h8.7M282.5 1795.2v8.7M278.1 1799.5h8.7M288.5 1795.2v8.7M284.1 1799.5h8.7M290.5 1795.2v8.7M286.1 1799.5h8.7M292.5 1795.2v8.7M288.1 1799.5h8.7M297.5 1795.2v8.7M293.1 1799.5h8.7M300.5 1795.2v8.7M296.1 1799.5h8.7M302.5 1795.2v8.7M298.1 1799.5h8.7M309.5 1795.2v8.7M305.1 1799.5h8.7M316.5 1798.2v8.7M312.1 1802.5h8.7M318.5 1798.2v8.7M314.1 1802.5h8.7M320.5 1802.2v8.7M316.1 1806.5h8.7M321.5 1802.2v8.7M317.1 1806.5h8.7M326.5 1802.2v8.7M322.1 1806.5h8.7M330.5 1802.2v8.7M326.1 1806.5h8.7M334.5 1802.2v8.7M330.1 1806.5h8.7M343.5 1802.2v8.7M339.1 1806.5h8.7M345.5 1802.2v8.7M341.1 1806.5h8.7M347.5 1802.2v8.7M343.1 1806.5h8.7M359.5 1802.2v8.7M355.1 1806.5h8.7M365.5 1802.2v8.7M361.1 1806.5h8.7M366.5 1802.2v8.7M362.1 1806.5h8.7M378.5 1802.2v8.7M374.1 1806.5h8.7M386.5 1802.2v8.7M382.1 1806.5h8.7M389.5 1802.2v8.7M385.1 1806.5h8.7M405.5 1802.2v8.7M401.1 1806.5h8.7M207.1 1748.1v8.7M202.8 1752.5h8.7M208.9 1749.3v8.7M204.5 1753.7h8.7M211 1750.4v8.7M206.6 1754.7h8.7M213.1 1751.4v8.7M208.7 1755.8h8.7M215.2 1752.5v8.7M210.8 1756.8h8.7M217.3 1753.5v8.7M212.9 1757.9h8.7M219.4 1754.6v8.7M215 1758.9h8.7M221.5 1755.6v8.7M217.2 1760h8.7M223.6 1756.7v8.7M219.3 1761h8.7M225.7 1757.7v8.7M221.4 1762.1h8.7M227.5 1759.1v8.7M223.1 1763.5h8.7M229.2 1760.5v8.7M224.9 1764.9h8.7M231 1761.9v8.7M226.6 1766.3h8.7M232.7 1763.3v8.7M228.4 1767.7h8.7M233.8 1765.1v8.7M229.4 1769.4h8.7M234.8 1766.8v8.7M230.5 1771.2h8.7M235.9 1768.6v8.7M231.5 1772.9h8.7M236.9 1770.3v8.7M232.6 1774.7h8.7M239 1771.4v8.7M234.7 1775.7h8.7M241.1 1772.4v8.7M236.8 1776.8h8.7M243.2 1773.5v8.7M238.9 1777.8h8.7M245.3 1774.5v8.7M241 1778.9h8.7M247.2 1776.4v8.7M242.8 1780.8h8.7M249.1 1778.3v8.7M244.7 1782.6h8.7M250.9 1780.1v8.7M246.6 1784.5h8.7M253 1781.2v8.7M248.7 1785.5h8.7M255.1 1782.2v8.7M250.8 1786.6h8.7M257.2 1783.3v8.7M252.9 1787.6h8.7M259.3 1784.3v8.7M255 1788.7h8.7M261.6 1784.5v8.7M257.2 1788.8h8.7" stroke="#2E2183" stroke-width="1.6" fill="none" clip-path="url(#c01)"/>
<path d="M299.5 1767.2v8.7M295.1 1771.5h8.7M301.5 1767.2v8.7M297.1 1771.5h8.7M302.5 1767.2v8.7M298.1 1771.5h8.7M309.5 1767.2v8.7M305.1 1771.5h8.7M311.5 1767.2v8.7M307.1 1771.5h8.7M312.5 1767.2v8.7M308.1 1771.5h8.7M318.5 1767.2v8.7M314.1 1771.5h8.7M319.5 1767.2v8.7M315.1 1771.5h8.7M325.5 1767.2v8.7M321.1 1771.5h8.7M327.5 1767.2v8.7M323.1 1771.5h8.7M330.5 1767.2v8.7M326.1 1771.5h8.7M331.5 1767.2v8.7M327.1 1771.5h8.7M337.5 1767.2v8.7M333.1 1771.5h8.7M340.5 1767.2v8.7M336.1 1771.5h8.7M344.5 1767.2v8.7M340.1 1771.5h8.7M351.5 1767.2v8.7M347.1 1771.5h8.7M361.5 1767.2v8.7M357.1 1771.5h8.7M365.5 1767.2v8.7M361.1 1771.5h8.7M369.5 1767.2v8.7M365.1 1771.5h8.7M370.5 1767.2v8.7M366.1 1771.5h8.7M377.5 1767.2v8.7M373.1 1771.5h8.7M395.5 1767.2v8.7M391.1 1771.5h8.7M425.5 1767.2v8.7M421.1 1771.5h8.7M478.5 1767.2v8.7M474.1 1771.5h8.7M204 1744.7v8.7M199.6 1749.1h8.7M206.1 1744.9v8.7M201.7 1749.3h8.7M208.2 1745.1v8.7M203.8 1749.5h8.7M210.3 1745.3v8.7M205.9 1749.7h8.7M212.4 1745.5v8.7M208 1749.8h8.7M214.5 1745.7v8.7M210.1 1750h8.7M216.7 1746.1v8.7M212.4 1750.5h8.7M219 1746.6v8.7M214.6 1750.9h8.7M221.2 1747v8.7M216.9 1751.4h8.7M223.5 1747.5v8.7M219.1 1751.8h8.7M225.7 1747.9v8.7M221.4 1752.3h8.7M227.9 1748.7v8.7M223.6 1753h8.7M230.2 1749.4v8.7M225.8 1753.7h8.7M232.4 1750.1v8.7M228.1 1754.5h8.7M234.7 1750.8v8.7M230.3 1755.2h8.7M236.9 1751.6v8.7M232.6 1755.9h8.7M239.2 1752.2v8.7M234.8 1756.6h8.7M241.4 1752.9v8.7M237 1757.3h8.7M243.6 1753.6v8.7M239.3 1757.9h8.7M245.9 1754.3v8.7M241.5 1758.6h8.7M248.1 1754.9v8.7M243.8 1759.3h8.7M250.2 1756v8.7M245.9 1760.3h8.7M252.3 1757v8.7M248 1761.4h8.7M254.4 1758.1v8.7M250.1 1762.4h8.7M256.5 1759.1v8.7M252.2 1763.5h8.7M258.5 1759.4v8.7M254.2 1763.8h8.7M260.5 1759.7v8.7M256.2 1764h8.7M262.5 1760v8.7M258.2 1764.3h8.7M264.5 1760.3v8.7M260.2 1764.6h8.7M266.5 1760.5v8.7M262.2 1764.9h8.7M268.5 1760.8v8.7M264.2 1765.2h8.7M270.5 1761.1v8.7M266.2 1765.4h8.7M272.8 1761.5v8.7M268.4 1765.9h8.7M275 1762v8.7M270.7 1766.3h8.7M277.3 1762.4v8.7M272.9 1766.8h8.7M279.5 1762.9v8.7M275.2 1767.2h8.7M281.7 1763.3v8.7M277.4 1767.7h8.7M284 1763.6v8.7M279.6 1768h8.7M286.2 1763.9v8.7M281.9 1768.2h8.7M288.5 1764.2v8.7M284.1 1768.5h8.7M290.7 1764.5v8.7M286.4 1768.8h8.7M293 1764.7v8.7M288.6 1769.1h8.7M295.1 1765.9v8.7M290.7 1770.2h8.7M297.2 1767v8.7M292.8 1771.3h8.7" stroke="#F2A20F" stroke-width="1.4" fill="none" clip-path="url(#c01)"/>
<clipPath id="c11"><rect x="578.6" y="1735.6" width="321.4" height="197"/></clipPath>
<path d="M578.6 1741.6V1932.6H900" stroke="#000" stroke-width="1.7" fill="none" stroke-linecap="square"/>
<line x1="574.4" y1="1748.9" x2="578.6" y2="1748.9" stroke="#000" stroke-width="1.4" stroke-linecap="butt"/>
<text x="571.3" y="1754" font-size="14.2" text-anchor="end" fill="#000">1.00</text>
<line x1="574.4" y1="1792.8" x2="578.6" y2="1792.8" stroke="#000" stroke-width="1.4" stroke-linecap="butt"/>
<text x="571.3" y="1797.8" font-size="14.2" text-anchor="end" fill="#000">0.75</text>
<line x1="574.4" y1="1836.6" x2="578.6" y2="1836.6" stroke="#000" stroke-width="1.4" stroke-linecap="butt"/>
<text x="571.3" y="1841.7" font-size="14.2" text-anchor="end" fill="#000">0.50</text>
<line x1="574.4" y1="1880.5" x2="578.6" y2="1880.5" stroke="#000" stroke-width="1.4" stroke-linecap="butt"/>
<text x="571.3" y="1885.5" font-size="14.2" text-anchor="end" fill="#000">0.25</text>
<line x1="574.4" y1="1924.3" x2="578.6" y2="1924.3" stroke="#000" stroke-width="1.4" stroke-linecap="butt"/>
<text x="571.3" y="1929.4" font-size="14.2" text-anchor="end" fill="#000">0.00</text>
<line x1="593" y1="1932.6" x2="593" y2="1936.8" stroke="#000" stroke-width="1.4" stroke-linecap="butt"/>
<text x="593" y="1949.5" font-size="14.2" text-anchor="middle" fill="#000">0</text>
<line x1="641.9" y1="1932.6" x2="641.9" y2="1936.8" stroke="#000" stroke-width="1.4" stroke-linecap="butt"/>
<text x="641.9" y="1949.5" font-size="14.2" text-anchor="middle" fill="#000">1000</text>
<line x1="690.8" y1="1932.6" x2="690.8" y2="1936.8" stroke="#000" stroke-width="1.4" stroke-linecap="butt"/>
<text x="690.8" y="1949.5" font-size="14.2" text-anchor="middle" fill="#000">2000</text>
<line x1="739.8" y1="1932.6" x2="739.8" y2="1936.8" stroke="#000" stroke-width="1.4" stroke-linecap="butt"/>
<text x="739.8" y="1949.5" font-size="14.2" text-anchor="middle" fill="#000">3000</text>
<line x1="788.7" y1="1932.6" x2="788.7" y2="1936.8" stroke="#000" stroke-width="1.4" stroke-linecap="butt"/>
<text x="788.7" y="1949.5" font-size="14.2" text-anchor="middle" fill="#000">4000</text>
<line x1="837.6" y1="1932.6" x2="837.6" y2="1936.8" stroke="#000" stroke-width="1.4" stroke-linecap="butt"/>
<text x="837.6" y="1949.5" font-size="14.2" text-anchor="middle" fill="#000">5000</text>
<line x1="886.5" y1="1932.6" x2="886.5" y2="1936.8" stroke="#000" stroke-width="1.4" stroke-linecap="butt"/>
<text x="886.5" y="1949.5" font-size="14.2" text-anchor="middle" fill="#000">6000</text>
<text x="739.8" y="1968.5" font-size="16.3" text-anchor="middle" fill="#000">Time</text>
<text x="536.5" y="1836.6" font-size="17" text-anchor="middle" transform="rotate(-90 536.5 1836.6)">Survival probability</text>
<text x="578.9" y="1679.2" font-size="19.2" text-anchor="start" fill="#000">CN6 KIRP</text>
<text x="603.4" y="1895.2" font-size="17.1" text-anchor="start" fill="#000">q = 0.078</text>
<line x1="608.2" y1="1708.6" x2="624.5" y2="1708.6" stroke="#2E2183" stroke-width="1.4" stroke-linecap="butt"/>
<line x1="616.3" y1="1704.4" x2="616.3" y2="1712.8" stroke="#2E2183" stroke-width="1.4" stroke-linecap="butt"/>
<text x="632.3" y="1712.9" font-size="12.1" text-anchor="start" fill="#000">CN6 sig. unattributed</text>
<line x1="755.1" y1="1708.6" x2="771.4" y2="1708.6" stroke="#F2A20F" stroke-width="1.4" stroke-linecap="butt"/>
<line x1="763.3" y1="1704.4" x2="763.3" y2="1712.8" stroke="#F2A20F" stroke-width="1.4" stroke-linecap="butt"/>
<text x="779.2" y="1712.9" font-size="12.1" text-anchor="start" fill="#000">CN6 sig. attributed</text>
<path d="M578.6 2012.9V2045.4H900" stroke="#000" stroke-width="1.7" fill="none" stroke-linecap="square"/>
<line x1="593" y1="2045.4" x2="593" y2="2049.6" stroke="#000" stroke-width="1.4" stroke-linecap="butt"/>
<text x="593" y="2062.8" font-size="14.2" text-anchor="middle" fill="#000">0</text>
<text x="593" y="2025" font-size="10.2" text-anchor="middle" fill="#000">211</text>
<text x="593" y="2040.4" font-size="10.2" text-anchor="middle" fill="#000">15</text>
<line x1="641.9" y1="2045.4" x2="641.9" y2="2049.6" stroke="#000" stroke-width="1.4" stroke-linecap="butt"/>
<text x="641.9" y="2062.8" font-size="14.2" text-anchor="middle" fill="#000">1000</text>
<text x="641.9" y="2025" font-size="10.2" text-anchor="middle" fill="#000">77</text>
<text x="641.9" y="2040.4" font-size="10.2" text-anchor="middle" fill="#000">6</text>
<line x1="690.8" y1="2045.4" x2="690.8" y2="2049.6" stroke="#000" stroke-width="1.4" stroke-linecap="butt"/>
<text x="690.8" y="2062.8" font-size="14.2" text-anchor="middle" fill="#000">2000</text>
<text x="690.8" y="2025" font-size="10.2" text-anchor="middle" fill="#000">33</text>
<text x="690.8" y="2040.4" font-size="10.2" text-anchor="middle" fill="#000">1</text>
<line x1="739.8" y1="2045.4" x2="739.8" y2="2049.6" stroke="#000" stroke-width="1.4" stroke-linecap="butt"/>
<text x="739.8" y="2062.8" font-size="14.2" text-anchor="middle" fill="#000">3000</text>
<text x="739.8" y="2025" font-size="10.2" text-anchor="middle" fill="#000">9</text>
<text x="739.8" y="2040.4" font-size="10.2" text-anchor="middle" fill="#000">0</text>
<line x1="788.7" y1="2045.4" x2="788.7" y2="2049.6" stroke="#000" stroke-width="1.4" stroke-linecap="butt"/>
<text x="788.7" y="2062.8" font-size="14.2" text-anchor="middle" fill="#000">4000</text>
<text x="788.7" y="2025" font-size="10.2" text-anchor="middle" fill="#000">1</text>
<text x="788.7" y="2040.4" font-size="10.2" text-anchor="middle" fill="#000">0</text>
<line x1="837.6" y1="2045.4" x2="837.6" y2="2049.6" stroke="#000" stroke-width="1.4" stroke-linecap="butt"/>
<text x="837.6" y="2062.8" font-size="14.2" text-anchor="middle" fill="#000">5000</text>
<text x="837.6" y="2025" font-size="10.2" text-anchor="middle" fill="#000">1</text>
<text x="837.6" y="2040.4" font-size="10.2" text-anchor="middle" fill="#000">0</text>
<line x1="886.5" y1="2045.4" x2="886.5" y2="2049.6" stroke="#000" stroke-width="1.4" stroke-linecap="butt"/>
<text x="886.5" y="2062.8" font-size="14.2" text-anchor="middle" fill="#000">6000</text>
<text x="886.5" y="2025" font-size="10.2" text-anchor="middle" fill="#000">0</text>
<text x="886.5" y="2040.4" font-size="10.2" text-anchor="middle" fill="#000">0</text>
<text x="739.8" y="2080.7" font-size="16.3" text-anchor="middle" fill="#000">Time</text>
<rect x="554.5" y="2016.9" width="14.6" height="5" fill="#2E2183"/>
<rect x="554.5" y="2032.3" width="14.6" height="5" fill="#F2A20F"/>
<path d="M593.5 1748.5 L603.5 1748.5 L603.5 1761.5 L607.5 1761.5 L607.5 1774.5 L609.5 1774.5 L609.5 1802.5 L657.5 1802.5 L657.5 1842.5 L709.5 1842.5" stroke="#F2A20F" stroke-width="1.2" fill="none" clip-path="url(#c11)" stroke-linejoin="miter"/>
<path d="M593.5 1748.5 L596.5 1748.5 L596.5 1749.5 L599.5 1749.5 L599.5 1750.5 L603.5 1750.5 L603.5 1750.5 L606.5 1750.5 L606.5 1752.5 L608.5 1752.5 L608.5 1754.5 L611.5 1754.5 L611.5 1755.5 L614.5 1755.5 L614.5 1757.5 L617.5 1757.5 L617.5 1759.5 L620.5 1759.5 L620.5 1760.5 L622.5 1760.5 L622.5 1763.5 L625.5 1763.5 L625.5 1765.5 L628.5 1765.5 L628.5 1767.5 L631.5 1767.5 L631.5 1767.5 L634.5 1767.5 L634.5 1768.5 L636.5 1768.5 L636.5 1768.5 L639.5 1768.5 L639.5 1768.5 L642.5 1768.5 L642.5 1768.5 L645.5 1768.5 L645.5 1769.5 L648.5 1769.5 L648.5 1769.5 L650.5 1769.5 L650.5 1770.5 L653.5 1770.5 L653.5 1770.5 L656.5 1770.5 L656.5 1771.5 L659.5 1771.5 L659.5 1771.5 L662.5 1771.5 L662.5 1772.5 L664.5 1772.5 L664.5 1773.5 L667.5 1773.5 L667.5 1773.5 L670.5 1773.5 L670.5 1774.5 L673.5 1774.5 L673.5 1775.5 L676.5 1775.5 L676.5 1776.5 L678.5 1776.5 L678.5 1776.5 L681.5 1776.5 L681.5 1777.5 L684.5 1777.5 L684.5 1777.5 L687.5 1777.5 L687.5 1778.5 L690.5 1778.5 L690.5 1778.5 L692.5 1778.5 L692.5 1778.5 L696.5 1778.5 L696.5 1778.5 L699.5 1778.5 L699.5 1778.5 L702.5 1778.5 L702.5 1779.5 L705.5 1779.5 L705.5 1779.5 L708.5 1779.5 L708.5 1779.5 L712.5 1779.5 L712.5 1779.5 L715.5 1779.5 L715.5 1779.5 L720.5 1779.5 L720.5 1786.5 L886.5 1786.5" stroke="#2E2183" stroke-width="1.4" fill="none" clip-path="url(#c11)" stroke-linejoin="miter"/>
<path d="M643.5 1764.2v8.7M639.1 1768.5h8.7M645.5 1764.2v8.7M641.1 1768.5h8.7M646.5 1765.2v8.7M642.1 1769.5h8.7M649.5 1765.2v8.7M645.1 1769.5h8.7M651.5 1766.2v8.7M647.1 1770.5h8.7M653.5 1766.2v8.7M649.1 1770.5h8.7M655.5 1766.2v8.7M651.1 1770.5h8.7M658.5 1767.2v8.7M654.1 1771.5h8.7M677.5 1772.2v8.7M673.1 1776.5h8.7M679.5 1772.2v8.7M675.1 1776.5h8.7M681.5 1773.2v8.7M677.1 1777.5h8.7M683.5 1773.2v8.7M679.1 1777.5h8.7M686.5 1773.2v8.7M682.1 1777.5h8.7M688.5 1774.2v8.7M684.1 1778.5h8.7M690.5 1774.2v8.7M686.1 1778.5h8.7M692.5 1774.2v8.7M688.1 1778.5h8.7M700.5 1774.2v8.7M696.1 1778.5h8.7M702.5 1775.2v8.7M698.1 1779.5h8.7M704.5 1775.2v8.7M700.1 1779.5h8.7M706.5 1775.2v8.7M702.1 1779.5h8.7M709.5 1775.2v8.7M705.1 1779.5h8.7M721.5 1782.2v8.7M717.1 1786.5h8.7M738.5 1782.2v8.7M734.1 1786.5h8.7M739.5 1782.2v8.7M735.1 1786.5h8.7M740.5 1782.2v8.7M736.1 1786.5h8.7M741.5 1782.2v8.7M737.1 1786.5h8.7M751.5 1782.2v8.7M747.1 1786.5h8.7M767.5 1782.2v8.7M763.1 1786.5h8.7M777.5 1782.2v8.7M773.1 1786.5h8.7M779.5 1782.2v8.7M775.1 1786.5h8.7M882.5 1782.2v8.7M878.1 1786.5h8.7M595.2 1745v8.7M590.9 1749.3h8.7M597.2 1745.3v8.7M592.9 1749.7h8.7M599.3 1745.7v8.7M594.9 1750.1h8.7M601.3 1746.1v8.7M596.9 1750.5h8.7M603.3 1746.5v8.7M598.9 1750.9h8.7M605 1747.5v8.7M600.6 1751.9h8.7M606.7 1748.5v8.7M602.3 1752.9h8.7M608.3 1749.5v8.7M604 1753.9h8.7M610 1750.6v8.7M605.7 1754.9h8.7M611.7 1751.6v8.7M607.3 1755.9h8.7M613.4 1752.5v8.7M609 1756.9h8.7M615.1 1753.5v8.7M610.7 1757.8h8.7M616.7 1754.4v8.7M612.4 1758.8h8.7M618.4 1755.4v8.7M614.1 1759.7h8.7M620.1 1756.3v8.7M615.7 1760.7h8.7M621.5 1757.5v8.7M617.2 1761.8h8.7M622.9 1758.7v8.7M618.6 1763h8.7M624.3 1759.8v8.7M620 1764.2h8.7M625.7 1761v8.7M621.4 1765.3h8.7M627.1 1762.2v8.7M622.8 1766.5h8.7M628.5 1763.3v8.7M624.2 1767.7h8.7M630.5 1763.5v8.7M626.2 1767.8h8.7M632.5 1763.6v8.7M628.2 1767.9h8.7M634.5 1763.7v8.7M630.2 1768h8.7M636.5 1763.8v8.7M632.2 1768.2h8.7M638.5 1763.9v8.7M634.2 1768.3h8.7M664.9 1768.9v8.7M660.6 1773.3h8.7M666.8 1769.4v8.7M662.4 1773.8h8.7M668.7 1769.9v8.7M664.3 1774.2h8.7M670.5 1770.3v8.7M666.2 1774.7h8.7M711.6 1774.8v8.7M707.3 1779.1h8.7M713.5 1774.8v8.7M709.1 1779.1h8.7M715.4 1774.8v8.7M711 1779.2h8.7M728.2 1782.4v8.7M723.9 1786.7h8.7M730.1 1782.4v8.7M725.7 1786.7h8.7" stroke="#2E2183" stroke-width="1.6" fill="none" clip-path="url(#c11)"/>
<path d="M594.5 1744.2v8.7M590.1 1748.5h8.7M605.5 1757.2v8.7M601.1 1761.5h8.7M615.5 1798.2v8.7M611.1 1802.5h8.7M617.5 1798.2v8.7M613.1 1802.5h8.7M633.5 1798.2v8.7M629.1 1802.5h8.7M643.5 1798.2v8.7M639.1 1802.5h8.7M644.5 1798.2v8.7M640.1 1802.5h8.7M677.5 1838.2v8.7M673.1 1842.5h8.7M706.5 1838.2v8.7M702.1 1842.5h8.7" stroke="#F2A20F" stroke-width="1.4" fill="none" clip-path="url(#c11)"/>
<clipPath id="c21"><rect x="968.9" y="1735.6" width="321.4" height="197"/></clipPath>
<path d="M968.9 1741.6V1932.6H1290.3" stroke="#000" stroke-width="1.7" fill="none" stroke-linecap="square"/>
<line x1="964.7" y1="1748.9" x2="968.9" y2="1748.9" stroke="#000" stroke-width="1.4" stroke-linecap="butt"/>
<text x="961.6" y="1754" font-size="14.2" text-anchor="end" fill="#000">1.00</text>
<line x1="964.7" y1="1792.8" x2="968.9" y2="1792.8" stroke="#000" stroke-width="1.4" stroke-linecap="butt"/>
<text x="961.6" y="1797.8" font-size="14.2" text-anchor="end" fill="#000">0.75</text>
<line x1="964.7" y1="1836.6" x2="968.9" y2="1836.6" stroke="#000" stroke-width="1.4" stroke-linecap="butt"/>
<text x="961.6" y="1841.7" font-size="14.2" text-anchor="end" fill="#000">0.50</text>
<line x1="964.7" y1="1880.5" x2="968.9" y2="1880.5" stroke="#000" stroke-width="1.4" stroke-linecap="butt"/>
<text x="961.6" y="1885.5" font-size="14.2" text-anchor="end" fill="#000">0.25</text>
<line x1="964.7" y1="1924.3" x2="968.9" y2="1924.3" stroke="#000" stroke-width="1.4" stroke-linecap="butt"/>
<text x="961.6" y="1929.4" font-size="14.2" text-anchor="end" fill="#000">0.00</text>
<line x1="983.3" y1="1932.6" x2="983.3" y2="1936.8" stroke="#000" stroke-width="1.4" stroke-linecap="butt"/>
<text x="983.3" y="1949.5" font-size="14.2" text-anchor="middle" fill="#000">0</text>
<line x1="1056.7" y1="1932.6" x2="1056.7" y2="1936.8" stroke="#000" stroke-width="1.4" stroke-linecap="butt"/>
<text x="1056.7" y="1949.5" font-size="14.2" text-anchor="middle" fill="#000">1000</text>
<line x1="1130" y1="1932.6" x2="1130" y2="1936.8" stroke="#000" stroke-width="1.4" stroke-linecap="butt"/>
<text x="1130" y="1949.5" font-size="14.2" text-anchor="middle" fill="#000">2000</text>
<line x1="1203.4" y1="1932.6" x2="1203.4" y2="1936.8" stroke="#000" stroke-width="1.4" stroke-linecap="butt"/>
<text x="1203.4" y="1949.5" font-size="14.2" text-anchor="middle" fill="#000">3000</text>
<line x1="1276.8" y1="1932.6" x2="1276.8" y2="1936.8" stroke="#000" stroke-width="1.4" stroke-linecap="butt"/>
<text x="1276.8" y="1949.5" font-size="14.2" text-anchor="middle" fill="#000">4000</text>
<text x="1130" y="1968.5" font-size="16.3" text-anchor="middle" fill="#000">Time</text>
<text x="926.8" y="1836.6" font-size="17" text-anchor="middle" transform="rotate(-90 926.8 1836.6)">Survival probability</text>
<text x="969.2" y="1679.2" font-size="19.2" text-anchor="start" fill="#000">CN9 KIRC</text>
<text x="993.7" y="1895.2" font-size="17.1" text-anchor="start" fill="#000">q = 0.078</text>
<line x1="998.5" y1="1708.6" x2="1014.8" y2="1708.6" stroke="#2E2183" stroke-width="1.4" stroke-linecap="butt"/>
<line x1="1006.6" y1="1704.4" x2="1006.6" y2="1712.8" stroke="#2E2183" stroke-width="1.4" stroke-linecap="butt"/>
<text x="1022.6" y="1712.9" font-size="12.1" text-anchor="start" fill="#000">CN9 sig. unattributed</text>
<line x1="1145.4" y1="1708.6" x2="1161.7" y2="1708.6" stroke="#F2A20F" stroke-width="1.4" stroke-linecap="butt"/>
<line x1="1153.6" y1="1704.4" x2="1153.6" y2="1712.8" stroke="#F2A20F" stroke-width="1.4" stroke-linecap="butt"/>
<text x="1169.5" y="1712.9" font-size="12.1" text-anchor="start" fill="#000">CN9 sig. attributed</text>
<path d="M968.9 2012.9V2045.4H1290.3" stroke="#000" stroke-width="1.7" fill="none" stroke-linecap="square"/>
<line x1="983.3" y1="2045.4" x2="983.3" y2="2049.6" stroke="#000" stroke-width="1.4" stroke-linecap="butt"/>
<text x="983.3" y="2062.8" font-size="14.2" text-anchor="middle" fill="#000">0</text>
<text x="983.3" y="2025" font-size="10.2" text-anchor="middle" fill="#000">418</text>
<text x="983.3" y="2040.4" font-size="10.2" text-anchor="middle" fill="#000">37</text>
<line x1="1056.7" y1="2045.4" x2="1056.7" y2="2049.6" stroke="#000" stroke-width="1.4" stroke-linecap="butt"/>
<text x="1056.7" y="2062.8" font-size="14.2" text-anchor="middle" fill="#000">1000</text>
<text x="1056.7" y="2025" font-size="10.2" text-anchor="middle" fill="#000">243</text>
<text x="1056.7" y="2040.4" font-size="10.2" text-anchor="middle" fill="#000">17</text>
<line x1="1130" y1="2045.4" x2="1130" y2="2049.6" stroke="#000" stroke-width="1.4" stroke-linecap="butt"/>
<text x="1130" y="2062.8" font-size="14.2" text-anchor="middle" fill="#000">2000</text>
<text x="1130" y="2025" font-size="10.2" text-anchor="middle" fill="#000">102</text>
<text x="1130" y="2040.4" font-size="10.2" text-anchor="middle" fill="#000">6</text>
<line x1="1203.4" y1="2045.4" x2="1203.4" y2="2049.6" stroke="#000" stroke-width="1.4" stroke-linecap="butt"/>
<text x="1203.4" y="2062.8" font-size="14.2" text-anchor="middle" fill="#000">3000</text>
<text x="1203.4" y="2025" font-size="10.2" text-anchor="middle" fill="#000">32</text>
<text x="1203.4" y="2040.4" font-size="10.2" text-anchor="middle" fill="#000">3</text>
<line x1="1276.8" y1="2045.4" x2="1276.8" y2="2049.6" stroke="#000" stroke-width="1.4" stroke-linecap="butt"/>
<text x="1276.8" y="2062.8" font-size="14.2" text-anchor="middle" fill="#000">4000</text>
<text x="1276.8" y="2025" font-size="10.2" text-anchor="middle" fill="#000">3</text>
<text x="1276.8" y="2040.4" font-size="10.2" text-anchor="middle" fill="#000">0</text>
<text x="1130" y="2080.7" font-size="16.3" text-anchor="middle" fill="#000">Time</text>
<rect x="944.8" y="2016.9" width="14.6" height="5" fill="#2E2183"/>
<rect x="944.8" y="2032.3" width="14.6" height="5" fill="#F2A20F"/>
<path d="M983.5 1748.5 L984.5 1748.5 L984.5 1751.5 L986.5 1751.5 L986.5 1755.5 L987.5 1755.5 L987.5 1758.5 L989.5 1758.5 L989.5 1762.5 L993.5 1762.5 L993.5 1764.5 L996.5 1764.5 L996.5 1766.5 L998.5 1766.5 L998.5 1767.5 L1001.5 1767.5 L1001.5 1769.5 L1005.5 1769.5 L1005.5 1773.5 L1017.5 1773.5 L1017.5 1785.5 L1020.5 1785.5 L1020.5 1786.5 L1022.5 1786.5 L1022.5 1787.5 L1026.5 1787.5 L1026.5 1788.5 L1029.5 1788.5 L1029.5 1790.5 L1031.5 1790.5 L1031.5 1792.5 L1033.5 1792.5 L1033.5 1795.5 L1039.5 1795.5 L1039.5 1808.5 L1042.5 1808.5 L1042.5 1810.5 L1045.5 1810.5 L1045.5 1812.5 L1047.5 1812.5 L1047.5 1813.5 L1050.5 1813.5 L1050.5 1815.5 L1051.5 1815.5 L1051.5 1817.5 L1052.5 1817.5 L1052.5 1820.5 L1073.5 1820.5 L1073.5 1827.5 L1076.5 1827.5 L1076.5 1827.5 L1079.5 1827.5 L1079.5 1827.5 L1081.5 1827.5 L1081.5 1827.5 L1084.5 1827.5 L1084.5 1827.5 L1087.5 1827.5 L1087.5 1827.5 L1090.5 1827.5 L1090.5 1827.5 L1093.5 1827.5 L1093.5 1827.5 L1096.5 1827.5 L1096.5 1827.5 L1099.5 1827.5 L1099.5 1827.5 L1102.5 1827.5 L1102.5 1827.5 L1102.5 1836.5 L1267.5 1836.5" stroke="#F2A20F" stroke-width="1.2" fill="none" clip-path="url(#c21)" stroke-linejoin="miter"/>
<path d="M983.5 1748.5 L986.5 1748.5 L986.5 1749.5 L989.5 1749.5 L989.5 1750.5 L992.5 1750.5 L992.5 1751.5 L996.5 1751.5 L996.5 1752.5 L998.5 1752.5 L998.5 1753.5 L1001.5 1753.5 L1001.5 1755.5 L1004.5 1755.5 L1004.5 1756.5 L1007.5 1756.5 L1007.5 1757.5 L1010.5 1757.5 L1010.5 1759.5 L1012.5 1759.5 L1012.5 1760.5 L1015.5 1760.5 L1015.5 1761.5 L1018.5 1761.5 L1018.5 1762.5 L1021.5 1762.5 L1021.5 1763.5 L1024.5 1763.5 L1024.5 1764.5 L1026.5 1764.5 L1026.5 1766.5 L1029.5 1766.5 L1029.5 1767.5 L1032.5 1767.5 L1032.5 1768.5 L1035.5 1768.5 L1035.5 1769.5 L1038.5 1769.5 L1038.5 1770.5 L1040.5 1770.5 L1040.5 1771.5 L1043.5 1771.5 L1043.5 1772.5 L1046.5 1772.5 L1046.5 1773.5 L1049.5 1773.5 L1049.5 1774.5 L1052.5 1774.5 L1052.5 1775.5 L1054.5 1775.5 L1054.5 1776.5 L1057.5 1776.5 L1057.5 1777.5 L1060.5 1777.5 L1060.5 1777.5 L1063.5 1777.5 L1063.5 1778.5 L1066.5 1778.5 L1066.5 1779.5 L1068.5 1779.5 L1068.5 1780.5 L1071.5 1780.5 L1071.5 1780.5 L1074.5 1780.5 L1074.5 1781.5 L1077.5 1781.5 L1077.5 1782.5 L1080.5 1782.5 L1080.5 1783.5 L1082.5 1783.5 L1082.5 1783.5 L1085.5 1783.5 L1085.5 1784.5 L1088.5 1784.5 L1088.5 1785.5 L1091.5 1785.5 L1091.5 1785.5 L1094.5 1785.5 L1094.5 1786.5 L1096.5 1786.5 L1096.5 1787.5 L1099.5 1787.5 L1099.5 1788.5 L1102.5 1788.5 L1102.5 1789.5 L1105.5 1789.5 L1105.5 1790.5 L1108.5 1790.5 L1108.5 1792.5 L1110.5 1792.5 L1110.5 1792.5 L1113.5 1792.5 L1113.5 1792.5 L1116.5 1792.5 L1116.5 1792.5 L1119.5 1792.5 L1119.5 1792.5 L1122.5 1792.5 L1122.5 1792.5 L1124.5 1792.5 L1124.5 1795.5 L1127.5 1795.5 L1127.5 1797.5 L1130.5 1797.5 L1130.5 1797.5 L1133.5 1797.5 L1133.5 1797.5 L1136.5 1797.5 L1136.5 1798.5 L1138.5 1798.5 L1138.5 1798.5 L1141.5 1798.5 L1141.5 1799.5 L1144.5 1799.5 L1144.5 1800.5 L1147.5 1800.5 L1147.5 1801.5 L1150.5 1801.5 L1150.5 1802.5 L1153.5 1802.5 L1153.5 1803.5 L1155.5 1803.5 L1155.5 1803.5 L1158.5 1803.5 L1158.5 1803.5 L1161.5 1803.5 L1161.5 1804.5 L1164.5 1804.5 L1164.5 1804.5 L1167.5 1804.5 L1167.5 1804.5 L1169.5 1804.5 L1169.5 1805.5 L1172.5 1805.5 L1172.5 1805.5 L1175.5 1805.5 L1175.5 1805.5 L1178.5 1805.5 L1178.5 1806.5 L1242.5 1806.5 L1242.5 1811.5 L1245.5 1811.5 L1245.5 1813.5 L1318.5 1813.5" stroke="#2E2183" stroke-width="1.4" fill="none" clip-path="url(#c21)" stroke-linejoin="miter"/>
<path d="M1201.5 1802.2v8.7M1197.2 1806.5h8.7M1206.5 1802.2v8.7M1202.2 1806.5h8.7M1209.5 1802.2v8.7M1205.2 1806.5h8.7M1218.5 1802.2v8.7M1214.2 1806.5h8.7M1221.5 1802.2v8.7M1217.2 1806.5h8.7M1224.5 1802.2v8.7M1220.2 1806.5h8.7M1227.5 1802.2v8.7M1223.2 1806.5h8.7M1231.5 1802.2v8.7M1227.2 1806.5h8.7M1234.5 1802.2v8.7M1230.2 1806.5h8.7M1237.5 1802.2v8.7M1233.2 1806.5h8.7M1239.5 1802.2v8.7M1235.2 1806.5h8.7M1246.5 1809.2v8.7M1242.2 1813.5h8.7M1249.5 1809.2v8.7M1245.2 1813.5h8.7M1257.5 1809.2v8.7M1253.2 1813.5h8.7M1264.5 1809.2v8.7M1260.2 1813.5h8.7M1272.5 1809.2v8.7M1268.2 1813.5h8.7M1274.5 1809.2v8.7M1270.2 1813.5h8.7M1281.5 1809.2v8.7M1277.2 1813.5h8.7M985.6 1745.1v8.7M981.2 1749.5h8.7M987.7 1745.7v8.7M983.3 1750h8.7M989.8 1746.2v8.7M985.4 1750.6h8.7M991.9 1746.8v8.7M987.5 1751.2h8.7M994 1747.4v8.7M989.6 1751.7h8.7M996.1 1747.9v8.7M991.7 1752.3h8.7M997.8 1748.8v8.7M993.5 1753.1h8.7M999.6 1749.7v8.7M995.2 1754h8.7M1001.3 1750.5v8.7M997 1754.9h8.7M1003.1 1751.4v8.7M998.7 1755.8h8.7M1004.8 1752.3v8.7M1000.5 1756.7h8.7M1006.6 1753.2v8.7M1002.2 1757.5h8.7M1008.3 1754.1v8.7M1004 1758.4h8.7M1010.1 1754.9v8.7M1005.7 1759.3h8.7M1012.1 1755.7v8.7M1007.8 1760.1h8.7M1014.1 1756.5v8.7M1009.8 1760.9h8.7M1016.1 1757.3v8.7M1011.8 1761.7h8.7M1018.1 1758.1v8.7M1013.8 1762.5h8.7M1020.1 1758.9v8.7M1015.8 1763.3h8.7M1022.1 1759.7v8.7M1017.8 1764.1h8.7M1024.1 1760.5v8.7M1019.8 1764.9h8.7M1026.1 1761.3v8.7M1021.8 1765.7h8.7M1028.1 1762.1v8.7M1023.8 1766.5h8.7M1030.1 1762.9v8.7M1025.8 1767.3h8.7M1032.1 1763.7v8.7M1027.8 1768.1h8.7M1034.1 1764.5v8.7M1029.8 1768.9h8.7M1036.1 1765.3v8.7M1031.8 1769.7h8.7M1038.1 1766.1v8.7M1033.8 1770.5h8.7M1040.1 1766.9v8.7M1035.8 1771.2h8.7M1042.1 1767.6v8.7M1037.8 1771.9h8.7M1044.1 1768.3v8.7M1039.8 1772.6h8.7M1046.1 1769v8.7M1041.8 1773.4h8.7M1048.1 1769.7v8.7M1043.8 1774.1h8.7M1050.1 1770.5v8.7M1045.8 1774.8h8.7M1052.1 1771.2v8.7M1047.8 1775.5h8.7M1054.1 1771.7v8.7M1049.8 1776.1h8.7M1056.1 1772.3v8.7M1051.8 1776.7h8.7M1058.1 1772.9v8.7M1053.8 1777.2h8.7M1060.1 1773.4v8.7M1055.8 1777.8h8.7M1062.1 1774v8.7M1057.8 1778.3h8.7M1064.1 1774.5v8.7M1059.8 1778.9h8.7M1066.1 1775.1v8.7M1061.8 1779.5h8.7M1068.1 1775.6v8.7M1063.8 1780h8.7M1070.1 1776.1v8.7M1065.8 1780.5h8.7M1072.1 1776.7v8.7M1067.8 1781h8.7M1074.1 1777.2v8.7M1069.8 1781.5h8.7M1076.1 1777.7v8.7M1071.8 1782.1h8.7M1078.1 1778.2v8.7M1073.8 1782.6h8.7M1080.1 1778.7v8.7M1075.8 1783.1h8.7M1082.2 1779.2v8.7M1077.8 1783.6h8.7M1084.2 1779.7v8.7M1079.8 1784.1h8.7M1086.2 1780.2v8.7M1081.8 1784.5h8.7M1088.2 1780.7v8.7M1083.8 1785h8.7M1090.2 1781.1v8.7M1085.8 1785.5h8.7M1092.2 1781.6v8.7M1087.8 1786h8.7M1094.2 1782.1v8.7M1089.8 1786.5h8.7M1096.3 1782.8v8.7M1091.9 1787.2h8.7M1098.4 1783.5v8.7M1094 1787.9h8.7M1100.5 1784.2v8.7M1096.1 1788.6h8.7M1102.6 1784.9v8.7M1098.2 1789.3h8.7M1104.4 1785.8v8.7M1100.1 1790.2h8.7M1106.3 1786.8v8.7M1102 1791.1h8.7M1108.2 1787.7v8.7M1103.8 1792.1h8.7M1110.2 1787.8v8.7M1105.8 1792.2h8.7M1112.2 1788v8.7M1107.8 1792.3h8.7M1114.2 1788.1v8.7M1109.8 1792.4h8.7M1116.2 1788.2v8.7M1111.8 1792.5h8.7M1118.2 1788.3v8.7M1113.8 1792.7h8.7M1120.2 1788.4v8.7M1115.8 1792.8h8.7M1122.2 1788.6v8.7M1117.8 1792.9h8.7M1124 1790v8.7M1119.7 1794.3h8.7M1125.9 1791.4v8.7M1121.6 1795.7h8.7M1127.8 1792.8v8.7M1123.4 1797.1h8.7M1130 1793v8.7M1125.7 1797.4h8.7M1132.3 1793.3v8.7M1127.9 1797.7h8.7M1134.5 1793.6v8.7M1130.2 1797.9h8.7M1136.7 1793.9v8.7M1132.4 1798.2h8.7M1139 1794.2v8.7M1134.6 1798.5h8.7M1140.9 1794.9v8.7M1136.5 1799.2h8.7M1142.7 1795.6v8.7M1138.4 1799.9h8.7M1144.6 1796.3v8.7M1140.2 1800.6h8.7M1146.5 1797v8.7M1142.1 1801.3h8.7M1148.3 1797.7v8.7M1144 1802h8.7M1150.2 1798.4v8.7M1145.8 1802.7h8.7M1152.4 1798.6v8.7M1148.1 1803h8.7M1153 1798.7v8.7M1148.7 1803.1h8.7M1155.8 1799.1v8.7M1151.5 1803.4h8.7M1158.6 1799.4v8.7M1154.3 1803.8h8.7M1161.4 1799.8v8.7M1157.1 1804.1h8.7M1164.2 1800.1v8.7M1159.9 1804.5h8.7M1167 1800.5v8.7M1162.7 1804.9h8.7M1169.8 1800.9v8.7M1165.5 1805.2h8.7M1172.6 1801.3v8.7M1168.3 1805.6h8.7M1175.4 1801.6v8.7M1171.1 1806h8.7M1178.2 1802v8.7M1173.9 1806.4h8.7M1180.8 1802v8.7M1176.4 1806.4h8.7M1183.4 1802v8.7M1179 1806.4h8.7M1186 1802v8.7M1181.6 1806.4h8.7M1188.5 1802v8.7M1184.2 1806.4h8.7M1191.1 1802v8.7M1186.8 1806.4h8.7M1193.7 1802v8.7M1189.3 1806.4h8.7" stroke="#2E2183" stroke-width="1.6" fill="none" clip-path="url(#c21)"/>
<path d="M984.5 1744.2v8.7M980.1 1748.5h8.7M997.5 1762.2v8.7M993.1 1766.5h8.7M1001.5 1765.2v8.7M997.1 1769.5h8.7M1019.5 1781.2v8.7M1015.1 1785.5h8.7M1029.5 1784.2v8.7M1025.2 1788.5h8.7M1036.5 1791.2v8.7M1032.2 1795.5h8.7M1063.5 1816.2v8.7M1059.2 1820.5h8.7M1065.5 1816.2v8.7M1061.2 1820.5h8.7M1072.5 1816.2v8.7M1068.2 1820.5h8.7M1076.5 1823.2v8.7M1072.2 1827.5h8.7M1090.5 1823.2v8.7M1086.2 1827.5h8.7M1114.5 1832.2v8.7M1110.2 1836.5h8.7M1123.5 1832.2v8.7M1119.2 1836.5h8.7M1130.5 1832.2v8.7M1126.2 1836.5h8.7M1136.5 1832.2v8.7M1132.2 1836.5h8.7M1174.5 1832.2v8.7M1170.2 1836.5h8.7M1188.5 1832.2v8.7M1184.2 1836.5h8.7M1219.5 1832.2v8.7M1215.2 1836.5h8.7M1228.5 1832.2v8.7M1224.2 1836.5h8.7M1265.5 1832.2v8.7M1261.2 1836.5h8.7" stroke="#F2A20F" stroke-width="1.4" fill="none" clip-path="url(#c21)"/>
<clipPath id="c31"><rect x="1359" y="1735.6" width="321.4" height="197"/></clipPath>
<path d="M1359 1741.6V1932.6H1680.4" stroke="#000" stroke-width="1.7" fill="none" stroke-linecap="square"/>
<line x1="1354.8" y1="1748.9" x2="1359" y2="1748.9" stroke="#000" stroke-width="1.4" stroke-linecap="butt"/>
<text x="1351.7" y="1754" font-size="14.2" text-anchor="end" fill="#000">1.00</text>
<line x1="1354.8" y1="1792.8" x2="1359" y2="1792.8" stroke="#000" stroke-width="1.4" stroke-linecap="butt"/>
<text x="1351.7" y="1797.8" font-size="14.2" text-anchor="end" fill="#000">0.75</text>
<line x1="1354.8" y1="1836.6" x2="1359" y2="1836.6" stroke="#000" stroke-width="1.4" stroke-linecap="butt"/>
<text x="1351.7" y="1841.7" font-size="14.2" text-anchor="end" fill="#000">0.50</text>
<line x1="1354.8" y1="1880.5" x2="1359" y2="1880.5" stroke="#000" stroke-width="1.4" stroke-linecap="butt"/>
<text x="1351.7" y="1885.5" font-size="14.2" text-anchor="end" fill="#000">0.25</text>
<line x1="1354.8" y1="1924.3" x2="1359" y2="1924.3" stroke="#000" stroke-width="1.4" stroke-linecap="butt"/>
<text x="1351.7" y="1929.4" font-size="14.2" text-anchor="end" fill="#000">0.00</text>
<line x1="1373.4" y1="1932.6" x2="1373.4" y2="1936.8" stroke="#000" stroke-width="1.4" stroke-linecap="butt"/>
<text x="1373.4" y="1949.5" font-size="14.2" text-anchor="middle" fill="#000">0</text>
<line x1="1432.1" y1="1932.6" x2="1432.1" y2="1936.8" stroke="#000" stroke-width="1.4" stroke-linecap="butt"/>
<text x="1432.1" y="1949.5" font-size="14.2" text-anchor="middle" fill="#000">1000</text>
<line x1="1490.8" y1="1932.6" x2="1490.8" y2="1936.8" stroke="#000" stroke-width="1.4" stroke-linecap="butt"/>
<text x="1490.8" y="1949.5" font-size="14.2" text-anchor="middle" fill="#000">2000</text>
<line x1="1549.5" y1="1932.6" x2="1549.5" y2="1936.8" stroke="#000" stroke-width="1.4" stroke-linecap="butt"/>
<text x="1549.5" y="1949.5" font-size="14.2" text-anchor="middle" fill="#000">3000</text>
<line x1="1608.2" y1="1932.6" x2="1608.2" y2="1936.8" stroke="#000" stroke-width="1.4" stroke-linecap="butt"/>
<text x="1608.2" y="1949.5" font-size="14.2" text-anchor="middle" fill="#000">4000</text>
<line x1="1666.9" y1="1932.6" x2="1666.9" y2="1936.8" stroke="#000" stroke-width="1.4" stroke-linecap="butt"/>
<text x="1666.9" y="1949.5" font-size="14.2" text-anchor="middle" fill="#000">5000</text>
<text x="1520.2" y="1968.5" font-size="16.3" text-anchor="middle" fill="#000">Time</text>
<text x="1316.9" y="1836.6" font-size="17" text-anchor="middle" transform="rotate(-90 1316.9 1836.6)">Survival probability</text>
<text x="1359.3" y="1679.2" font-size="19.2" text-anchor="start" fill="#000">CN17 ACC</text>
<text x="1383.8" y="1895.2" font-size="17.1" text-anchor="start" fill="#000">q = 0.078</text>
<line x1="1381.8" y1="1708.6" x2="1398.1" y2="1708.6" stroke="#2E2183" stroke-width="1.4" stroke-linecap="butt"/>
<line x1="1390" y1="1704.4" x2="1390" y2="1712.8" stroke="#2E2183" stroke-width="1.4" stroke-linecap="butt"/>
<text x="1405.9" y="1712.9" font-size="12.1" text-anchor="start" fill="#000">CN17 sig. unattributed</text>
<line x1="1535.5" y1="1708.6" x2="1551.8" y2="1708.6" stroke="#F2A20F" stroke-width="1.4" stroke-linecap="butt"/>
<line x1="1543.7" y1="1704.4" x2="1543.7" y2="1712.8" stroke="#F2A20F" stroke-width="1.4" stroke-linecap="butt"/>
<text x="1559.6" y="1712.9" font-size="12.1" text-anchor="start" fill="#000">CN17 sig. attributed</text>
<path d="M1359 2012.9V2045.4H1680.4" stroke="#000" stroke-width="1.7" fill="none" stroke-linecap="square"/>
<line x1="1373.4" y1="2045.4" x2="1373.4" y2="2049.6" stroke="#000" stroke-width="1.4" stroke-linecap="butt"/>
<text x="1373.4" y="2062.8" font-size="14.2" text-anchor="middle" fill="#000">0</text>
<text x="1373.4" y="2025" font-size="10.2" text-anchor="middle" fill="#000">71</text>
<text x="1373.4" y="2040.4" font-size="10.2" text-anchor="middle" fill="#000">16</text>
<line x1="1432.1" y1="2045.4" x2="1432.1" y2="2049.6" stroke="#000" stroke-width="1.4" stroke-linecap="butt"/>
<text x="1432.1" y="2062.8" font-size="14.2" text-anchor="middle" fill="#000">1000</text>
<text x="1432.1" y="2025" font-size="10.2" text-anchor="middle" fill="#000">45</text>
<text x="1432.1" y="2040.4" font-size="10.2" text-anchor="middle" fill="#000">5</text>
<line x1="1490.8" y1="2045.4" x2="1490.8" y2="2049.6" stroke="#000" stroke-width="1.4" stroke-linecap="butt"/>
<text x="1490.8" y="2062.8" font-size="14.2" text-anchor="middle" fill="#000">2000</text>
<text x="1490.8" y="2025" font-size="10.2" text-anchor="middle" fill="#000">21</text>
<text x="1490.8" y="2040.4" font-size="10.2" text-anchor="middle" fill="#000">4</text>
<line x1="1549.5" y1="2045.4" x2="1549.5" y2="2049.6" stroke="#000" stroke-width="1.4" stroke-linecap="butt"/>
<text x="1549.5" y="2062.8" font-size="14.2" text-anchor="middle" fill="#000">3000</text>
<text x="1549.5" y="2025" font-size="10.2" text-anchor="middle" fill="#000">6</text>
<text x="1549.5" y="2040.4" font-size="10.2" text-anchor="middle" fill="#000">1</text>
<line x1="1608.2" y1="2045.4" x2="1608.2" y2="2049.6" stroke="#000" stroke-width="1.4" stroke-linecap="butt"/>
<text x="1608.2" y="2062.8" font-size="14.2" text-anchor="middle" fill="#000">4000</text>
<text x="1608.2" y="2025" font-size="10.2" text-anchor="middle" fill="#000">2</text>
<text x="1608.2" y="2040.4" font-size="10.2" text-anchor="middle" fill="#000">0</text>
<line x1="1666.9" y1="2045.4" x2="1666.9" y2="2049.6" stroke="#000" stroke-width="1.4" stroke-linecap="butt"/>
<text x="1666.9" y="2062.8" font-size="14.2" text-anchor="middle" fill="#000">5000</text>
<text x="1666.9" y="2025" font-size="10.2" text-anchor="middle" fill="#000">0</text>
<text x="1666.9" y="2040.4" font-size="10.2" text-anchor="middle" fill="#000">0</text>
<text x="1520.2" y="2080.7" font-size="16.3" text-anchor="middle" fill="#000">Time</text>
<rect x="1334.9" y="2016.9" width="14.6" height="5" fill="#2E2183"/>
<rect x="1334.9" y="2032.3" width="14.6" height="5" fill="#F2A20F"/>
<path d="M1373.5 1748.5 L1373.5 1759.5 L1394.5 1759.5 L1395.5 1759.5 L1395.5 1761.5 L1396.5 1761.5 L1396.5 1764.5 L1397.5 1764.5 L1397.5 1767.5 L1398.5 1767.5 L1398.5 1769.5 L1402.5 1769.5 L1402.5 1805.5 L1406.5 1805.5 L1406.5 1818.5 L1428.5 1818.5 L1428.5 1832.5 L1431.5 1832.5 L1431.5 1848.5 L1497.5 1848.5 L1497.5 1866.5 L1514.5 1866.5 L1514.5 1886.5 L1580.5 1886.5" stroke="#F2A20F" stroke-width="1.2" fill="none" clip-path="url(#c31)" stroke-linejoin="miter"/>
<path d="M1373.5 1748.5 L1382.5 1748.5 L1382.5 1753.5 L1394.5 1753.5 L1394.5 1759.5 L1398.5 1759.5 L1398.5 1764.5 L1401.5 1764.5 L1401.5 1765.5 L1403.5 1765.5 L1403.5 1765.5 L1406.5 1765.5 L1406.5 1766.5 L1406.5 1771.5 L1410.5 1771.5 L1410.5 1772.5 L1413.5 1772.5 L1413.5 1773.5 L1413.5 1776.5 L1440.5 1776.5 L1440.5 1780.5 L1444.5 1780.5 L1444.5 1785.5 L1448.5 1785.5 L1448.5 1786.5 L1451.5 1786.5 L1451.5 1787.5 L1454.5 1787.5 L1454.5 1792.5 L1468.5 1792.5 L1468.5 1797.5 L1472.5 1797.5 L1472.5 1802.5 L1514.5 1802.5 L1514.5 1811.5 L1651.5 1811.5" stroke="#2E2183" stroke-width="1.4" fill="none" clip-path="url(#c31)" stroke-linejoin="miter"/>
<path d="M1397.5 1755.2v8.7M1393.2 1759.5h8.7M1400.5 1760.2v8.7M1396.2 1764.5h8.7M1405.5 1761.2v8.7M1401.2 1765.5h8.7M1408.5 1767.2v8.7M1404.2 1771.5h8.7M1415.5 1772.2v8.7M1411.2 1776.5h8.7M1417.5 1772.2v8.7M1413.2 1776.5h8.7M1422.5 1772.2v8.7M1418.2 1776.5h8.7M1424.5 1772.2v8.7M1420.2 1776.5h8.7M1426.5 1772.2v8.7M1422.2 1776.5h8.7M1429.5 1772.2v8.7M1425.2 1776.5h8.7M1432.5 1772.2v8.7M1428.2 1776.5h8.7M1437.5 1772.2v8.7M1433.2 1776.5h8.7M1441.5 1776.2v8.7M1437.2 1780.5h8.7M1443.5 1776.2v8.7M1439.2 1780.5h8.7M1450.5 1782.2v8.7M1446.2 1786.5h8.7M1452.5 1783.2v8.7M1448.2 1787.5h8.7M1455.5 1788.2v8.7M1451.2 1792.5h8.7M1461.5 1788.2v8.7M1457.2 1792.5h8.7M1478.5 1798.2v8.7M1474.2 1802.5h8.7M1482.5 1798.2v8.7M1478.2 1802.5h8.7M1493.5 1798.2v8.7M1489.2 1802.5h8.7M1494.5 1798.2v8.7M1490.2 1802.5h8.7M1496.5 1798.2v8.7M1492.2 1802.5h8.7M1497.5 1798.2v8.7M1493.2 1802.5h8.7M1503.5 1798.2v8.7M1499.2 1802.5h8.7M1510.5 1798.2v8.7M1506.2 1802.5h8.7M1531.5 1807.2v8.7M1527.2 1811.5h8.7M1533.5 1807.2v8.7M1529.2 1811.5h8.7M1535.5 1807.2v8.7M1531.2 1811.5h8.7M1536.5 1807.2v8.7M1532.2 1811.5h8.7M1544.5 1807.2v8.7M1540.2 1811.5h8.7M1552.5 1807.2v8.7M1548.2 1811.5h8.7M1566.5 1807.2v8.7M1562.2 1811.5h8.7M1590.5 1807.2v8.7M1586.2 1811.5h8.7M1601.5 1807.2v8.7M1597.2 1811.5h8.7M1645.5 1807.2v8.7M1641.2 1811.5h8.7M1648.5 1807.2v8.7M1644.2 1811.5h8.7" stroke="#2E2183" stroke-width="1.6" fill="none" clip-path="url(#c31)"/>
<path d="M1399.5 1765.2v8.7M1395.2 1769.5h8.7M1413.5 1814.2v8.7M1409.2 1818.5h8.7M1417.5 1814.2v8.7M1413.2 1818.5h8.7M1467.5 1844.2v8.7M1463.2 1848.5h8.7M1523.5 1882.2v8.7M1519.2 1886.5h8.7M1577.5 1882.2v8.7M1573.2 1886.5h8.7" stroke="#F2A20F" stroke-width="1.4" fill="none" clip-path="url(#c31)"/>
<clipPath id="c02"><rect x="187.6" y="2170" width="321.4" height="197"/></clipPath>
<path d="M187.6 2176V2367H509" stroke="#000" stroke-width="1.7" fill="none" stroke-linecap="square"/>
<line x1="183.4" y1="2183.3" x2="187.6" y2="2183.3" stroke="#000" stroke-width="1.4" stroke-linecap="butt"/>
<text x="180.3" y="2188.4" font-size="14.2" text-anchor="end" fill="#000">1.00</text>
<line x1="183.4" y1="2227.2" x2="187.6" y2="2227.2" stroke="#000" stroke-width="1.4" stroke-linecap="butt"/>
<text x="180.3" y="2232.2" font-size="14.2" text-anchor="end" fill="#000">0.75</text>
<line x1="183.4" y1="2271" x2="187.6" y2="2271" stroke="#000" stroke-width="1.4" stroke-linecap="butt"/>
<text x="180.3" y="2276.1" font-size="14.2" text-anchor="end" fill="#000">0.50</text>
<line x1="183.4" y1="2314.8" x2="187.6" y2="2314.8" stroke="#000" stroke-width="1.4" stroke-linecap="butt"/>
<text x="180.3" y="2319.9" font-size="14.2" text-anchor="end" fill="#000">0.25</text>
<line x1="183.4" y1="2358.7" x2="187.6" y2="2358.7" stroke="#000" stroke-width="1.4" stroke-linecap="butt"/>
<text x="180.3" y="2363.8" font-size="14.2" text-anchor="end" fill="#000">0.00</text>
<line x1="202" y1="2367" x2="202" y2="2371.2" stroke="#000" stroke-width="1.4" stroke-linecap="butt"/>
<text x="202" y="2383.9" font-size="14.2" text-anchor="middle" fill="#000">0</text>
<line x1="250.9" y1="2367" x2="250.9" y2="2371.2" stroke="#000" stroke-width="1.4" stroke-linecap="butt"/>
<text x="250.9" y="2383.9" font-size="14.2" text-anchor="middle" fill="#000">1000</text>
<line x1="299.8" y1="2367" x2="299.8" y2="2371.2" stroke="#000" stroke-width="1.4" stroke-linecap="butt"/>
<text x="299.8" y="2383.9" font-size="14.2" text-anchor="middle" fill="#000">2000</text>
<line x1="348.8" y1="2367" x2="348.8" y2="2371.2" stroke="#000" stroke-width="1.4" stroke-linecap="butt"/>
<text x="348.8" y="2383.9" font-size="14.2" text-anchor="middle" fill="#000">3000</text>
<line x1="397.7" y1="2367" x2="397.7" y2="2371.2" stroke="#000" stroke-width="1.4" stroke-linecap="butt"/>
<text x="397.7" y="2383.9" font-size="14.2" text-anchor="middle" fill="#000">4000</text>
<line x1="446.6" y1="2367" x2="446.6" y2="2371.2" stroke="#000" stroke-width="1.4" stroke-linecap="butt"/>
<text x="446.6" y="2383.9" font-size="14.2" text-anchor="middle" fill="#000">5000</text>
<line x1="495.5" y1="2367" x2="495.5" y2="2371.2" stroke="#000" stroke-width="1.4" stroke-linecap="butt"/>
<text x="495.5" y="2383.9" font-size="14.2" text-anchor="middle" fill="#000">6000</text>
<text x="348.8" y="2402.9" font-size="16.3" text-anchor="middle" fill="#000">Time</text>
<text x="145.5" y="2271" font-size="17" text-anchor="middle" transform="rotate(-90 145.5 2271)">Survival probability</text>
<text x="187.9" y="2113.6" font-size="19.2" text-anchor="start" fill="#000">CN17 UCEC</text>
<text x="212.4" y="2329.6" font-size="17.1" text-anchor="start" fill="#000">q = 0.059</text>
<line x1="210.4" y1="2143" x2="226.7" y2="2143" stroke="#2E2183" stroke-width="1.4" stroke-linecap="butt"/>
<line x1="218.6" y1="2138.8" x2="218.6" y2="2147.2" stroke="#2E2183" stroke-width="1.4" stroke-linecap="butt"/>
<text x="234.5" y="2147.3" font-size="12.1" text-anchor="start" fill="#000">CN17 sig. unattributed</text>
<line x1="364.1" y1="2143" x2="380.4" y2="2143" stroke="#F2A20F" stroke-width="1.4" stroke-linecap="butt"/>
<line x1="372.3" y1="2138.8" x2="372.3" y2="2147.2" stroke="#F2A20F" stroke-width="1.4" stroke-linecap="butt"/>
<text x="388.2" y="2147.3" font-size="12.1" text-anchor="start" fill="#000">CN17 sig. attributed</text>
<path d="M187.6 2447.3V2479.8H509" stroke="#000" stroke-width="1.7" fill="none" stroke-linecap="square"/>
<line x1="202" y1="2479.8" x2="202" y2="2484" stroke="#000" stroke-width="1.4" stroke-linecap="butt"/>
<text x="202" y="2497.2" font-size="14.2" text-anchor="middle" fill="#000">0</text>
<text x="202" y="2459.4" font-size="10.2" text-anchor="middle" fill="#000">318</text>
<text x="202" y="2474.8" font-size="10.2" text-anchor="middle" fill="#000">103</text>
<line x1="250.9" y1="2479.8" x2="250.9" y2="2484" stroke="#000" stroke-width="1.4" stroke-linecap="butt"/>
<text x="250.9" y="2497.2" font-size="14.2" text-anchor="middle" fill="#000">1000</text>
<text x="250.9" y="2459.4" font-size="10.2" text-anchor="middle" fill="#000">135</text>
<text x="250.9" y="2474.8" font-size="10.2" text-anchor="middle" fill="#000">42</text>
<line x1="299.8" y1="2479.8" x2="299.8" y2="2484" stroke="#000" stroke-width="1.4" stroke-linecap="butt"/>
<text x="299.8" y="2497.2" font-size="14.2" text-anchor="middle" fill="#000">2000</text>
<text x="299.8" y="2459.4" font-size="10.2" text-anchor="middle" fill="#000">54</text>
<text x="299.8" y="2474.8" font-size="10.2" text-anchor="middle" fill="#000">14</text>
<line x1="348.8" y1="2479.8" x2="348.8" y2="2484" stroke="#000" stroke-width="1.4" stroke-linecap="butt"/>
<text x="348.8" y="2497.2" font-size="14.2" text-anchor="middle" fill="#000">3000</text>
<text x="348.8" y="2459.4" font-size="10.2" text-anchor="middle" fill="#000">13</text>
<text x="348.8" y="2474.8" font-size="10.2" text-anchor="middle" fill="#000">4</text>
<line x1="397.7" y1="2479.8" x2="397.7" y2="2484" stroke="#000" stroke-width="1.4" stroke-linecap="butt"/>
<text x="397.7" y="2497.2" font-size="14.2" text-anchor="middle" fill="#000">4000</text>
<text x="397.7" y="2459.4" font-size="10.2" text-anchor="middle" fill="#000">3</text>
<text x="397.7" y="2474.8" font-size="10.2" text-anchor="middle" fill="#000">0</text>
<line x1="446.6" y1="2479.8" x2="446.6" y2="2484" stroke="#000" stroke-width="1.4" stroke-linecap="butt"/>
<text x="446.6" y="2497.2" font-size="14.2" text-anchor="middle" fill="#000">5000</text>
<text x="446.6" y="2459.4" font-size="10.2" text-anchor="middle" fill="#000">1</text>
<text x="446.6" y="2474.8" font-size="10.2" text-anchor="middle" fill="#000">0</text>
<line x1="495.5" y1="2479.8" x2="495.5" y2="2484" stroke="#000" stroke-width="1.4" stroke-linecap="butt"/>
<text x="495.5" y="2497.2" font-size="14.2" text-anchor="middle" fill="#000">6000</text>
<text x="495.5" y="2459.4" font-size="10.2" text-anchor="middle" fill="#000">0</text>
<text x="495.5" y="2474.8" font-size="10.2" text-anchor="middle" fill="#000">0</text>
<text x="348.8" y="2515.1" font-size="16.3" text-anchor="middle" fill="#000">Time</text>
<rect x="163.5" y="2451.3" width="14.6" height="5" fill="#2E2183"/>
<rect x="163.5" y="2466.7" width="14.6" height="5" fill="#F2A20F"/>
<path d="M201.5 2183.5 L205.5 2183.5 L205.5 2185.5 L208.5 2185.5 L208.5 2187.5 L211.5 2187.5 L211.5 2188.5 L214.5 2188.5 L214.5 2190.5 L217.5 2190.5 L217.5 2191.5 L220.5 2191.5 L220.5 2193.5 L222.5 2193.5 L222.5 2195.5 L225.5 2195.5 L225.5 2197.5 L228.5 2197.5 L228.5 2200.5 L231.5 2200.5 L231.5 2204.5 L234.5 2204.5 L234.5 2208.5 L236.5 2208.5 L236.5 2208.5 L239.5 2208.5 L239.5 2209.5 L242.5 2209.5 L242.5 2209.5 L245.5 2209.5 L245.5 2209.5 L248.5 2209.5 L248.5 2212.5 L250.5 2212.5 L250.5 2214.5 L253.5 2214.5 L253.5 2216.5 L256.5 2216.5 L256.5 2218.5 L259.5 2218.5 L259.5 2218.5 L262.5 2218.5 L262.5 2219.5 L264.5 2219.5 L264.5 2219.5 L267.5 2219.5 L267.5 2222.5 L269.5 2222.5 L269.5 2225.5 L273.5 2225.5 L273.5 2229.5 L274.5 2229.5 L274.5 2233.5 L274.5 2233.5 L274.5 2236.5 L276.5 2236.5 L276.5 2238.5 L277.5 2238.5 L277.5 2241.5 L318.5 2241.5 L318.5 2252.5 L392.5 2252.5" stroke="#F2A20F" stroke-width="1.2" fill="none" clip-path="url(#c02)" stroke-linejoin="miter"/>
<path d="M201.5 2183.5 L205.5 2183.5 L205.5 2183.5 L208.5 2183.5 L208.5 2183.5 L211.5 2183.5 L211.5 2184.5 L214.5 2184.5 L214.5 2184.5 L217.5 2184.5 L217.5 2185.5 L220.5 2185.5 L220.5 2186.5 L222.5 2186.5 L222.5 2187.5 L225.5 2187.5 L225.5 2188.5 L228.5 2188.5 L228.5 2188.5 L231.5 2188.5 L231.5 2189.5 L234.5 2189.5 L234.5 2190.5 L236.5 2190.5 L236.5 2191.5 L239.5 2191.5 L239.5 2193.5 L242.5 2193.5 L242.5 2195.5 L245.5 2195.5 L245.5 2197.5 L248.5 2197.5 L248.5 2198.5 L250.5 2198.5 L250.5 2200.5 L253.5 2200.5 L253.5 2201.5 L256.5 2201.5 L256.5 2203.5 L259.5 2203.5 L259.5 2203.5 L262.5 2203.5 L262.5 2204.5 L264.5 2204.5 L264.5 2204.5 L267.5 2204.5 L267.5 2204.5 L270.5 2204.5 L270.5 2204.5 L273.5 2204.5 L273.5 2204.5 L276.5 2204.5 L276.5 2205.5 L280.5 2205.5 L280.5 2205.5 L283.5 2205.5 L283.5 2205.5 L286.5 2205.5 L286.5 2205.5 L289.5 2205.5 L289.5 2205.5 L292.5 2205.5 L292.5 2205.5 L295.5 2205.5 L295.5 2206.5 L298.5 2206.5 L298.5 2206.5 L301.5 2206.5 L301.5 2206.5 L304.5 2206.5 L304.5 2207.5 L482.5 2207.5" stroke="#2E2183" stroke-width="1.4" fill="none" clip-path="url(#c02)" stroke-linejoin="miter"/>
<path d="M294.5 2201.2v8.7M290.1 2205.5h8.7M297.5 2202.2v8.7M293.1 2206.5h8.7M299.5 2202.2v8.7M295.1 2206.5h8.7M302.5 2202.2v8.7M298.1 2206.5h8.7M308.5 2203.2v8.7M304.1 2207.5h8.7M311.5 2203.2v8.7M307.1 2207.5h8.7M313.5 2203.2v8.7M309.1 2207.5h8.7M318.5 2203.2v8.7M314.1 2207.5h8.7M323.5 2203.2v8.7M319.1 2207.5h8.7M327.5 2203.2v8.7M323.1 2207.5h8.7M330.5 2203.2v8.7M326.1 2207.5h8.7M332.5 2203.2v8.7M328.1 2207.5h8.7M334.5 2203.2v8.7M330.1 2207.5h8.7M337.5 2203.2v8.7M333.1 2207.5h8.7M341.5 2203.2v8.7M337.1 2207.5h8.7M344.5 2203.2v8.7M340.1 2207.5h8.7M353.5 2203.2v8.7M349.1 2207.5h8.7M360.5 2203.2v8.7M356.1 2207.5h8.7M365.5 2203.2v8.7M361.1 2207.5h8.7M369.5 2203.2v8.7M365.1 2207.5h8.7M370.5 2203.2v8.7M366.1 2207.5h8.7M377.5 2203.2v8.7M373.1 2207.5h8.7M386.5 2203.2v8.7M382.1 2207.5h8.7M395.5 2203.2v8.7M391.1 2207.5h8.7M405.5 2203.2v8.7M401.1 2207.5h8.7M425.5 2203.2v8.7M421.1 2207.5h8.7M478.5 2203.2v8.7M474.1 2207.5h8.7M204 2179.2v8.7M199.6 2183.5h8.7M206.1 2179.4v8.7M201.7 2183.7h8.7M208.2 2179.6v8.7M203.8 2184h8.7M210.3 2179.9v8.7M205.9 2184.2h8.7M212.4 2180.1v8.7M208 2184.5h8.7M214.5 2180.3v8.7M210.1 2184.7h8.7M216.4 2180.9v8.7M212 2185.2h8.7M218.2 2181.5v8.7M213.9 2185.8h8.7M220.1 2182v8.7M215.7 2186.4h8.7M222 2182.6v8.7M217.6 2186.9h8.7M223.8 2183.1v8.7M219.5 2187.5h8.7M225.7 2183.7v8.7M221.4 2188h8.7M227.6 2184.3v8.7M223.2 2188.7h8.7M229.4 2184.9v8.7M225.1 2189.3h8.7M231.3 2185.5v8.7M227 2189.9h8.7M233.2 2186.1v8.7M228.8 2190.5h8.7M235 2186.7v8.7M230.7 2191.1h8.7M236.9 2187.3v8.7M232.6 2191.7h8.7M238.6 2188.5v8.7M234.2 2192.8h8.7M240.3 2189.6v8.7M235.9 2193.9h8.7M242 2190.7v8.7M237.6 2195.1h8.7M243.6 2191.8v8.7M239.3 2196.2h8.7M245.3 2192.9v8.7M241 2197.3h8.7M247.2 2193.9v8.7M242.8 2198.2h8.7M249.1 2194.8v8.7M244.7 2199.2h8.7M250.9 2195.7v8.7M246.6 2200.1h8.7M252.8 2196.9v8.7M248.4 2201.2h8.7M254.7 2198v8.7M250.3 2202.3h8.7M256.5 2199.1v8.7M252.2 2203.5h8.7M258.5 2199.3v8.7M254.2 2203.7h8.7M259.3 2199.4v8.7M255 2203.7h8.7M262.1 2199.7v8.7M257.8 2204h8.7M264.9 2199.9v8.7M260.6 2204.3h8.7M267.7 2200.2v8.7M263.4 2204.6h8.7M270.5 2200.5v8.7M266.2 2204.9h8.7M273 2200.6v8.7M268.7 2205h8.7M275.5 2200.7v8.7M271.2 2205h8.7M278 2200.8v8.7M273.7 2205.1h8.7M280.5 2200.9v8.7M276.1 2205.2h8.7M283 2201v8.7M278.6 2205.3h8.7M285.5 2201.1v8.7M281.1 2205.4h8.7M288 2201.2v8.7M283.6 2205.5h8.7M290.5 2201.3v8.7M286.1 2205.6h8.7M293 2201.3v8.7M288.6 2205.7h8.7M293 2201.3v8.7M288.6 2205.7h8.7M296.7 2201.8v8.7M292.3 2206.2h8.7M300.4 2202.3v8.7M296.1 2206.6h8.7M304.2 2202.7v8.7M299.8 2207.1h8.7M307.8 2202.7v8.7M303.5 2207.1h8.7M311.4 2202.7v8.7M307.1 2207.1h8.7M315.1 2202.7v8.7M310.7 2207.1h8.7M318.7 2202.7v8.7M314.4 2207.1h8.7M322.4 2202.7v8.7M318 2207.1h8.7M326 2202.7v8.7M321.7 2207.1h8.7M329.7 2202.7v8.7M325.3 2207.1h8.7M333.3 2202.7v8.7M329 2207.1h8.7M336.9 2202.7v8.7M332.6 2207.1h8.7M340.6 2202.7v8.7M336.2 2207.1h8.7M344.2 2202.7v8.7M339.9 2207.1h8.7" stroke="#2E2183" stroke-width="1.6" fill="none" clip-path="url(#c02)"/>
<path d="M202.5 2179.2v8.7M198.2 2183.5h8.7M204.5 2179.2v8.7M200.2 2183.5h8.7M207.5 2181.2v8.7M203.2 2185.5h8.7M211.5 2184.2v8.7M207.2 2188.5h8.7M217.5 2186.2v8.7M213.2 2190.5h8.7M221.5 2189.2v8.7M217.2 2193.5h8.7M225.5 2193.2v8.7M221.2 2197.5h8.7M228.5 2196.2v8.7M224.2 2200.5h8.7M233.5 2200.2v8.7M229.2 2204.5h8.7M236.5 2204.2v8.7M232.2 2208.5h8.7M242.5 2205.2v8.7M238.2 2209.5h8.7M245.5 2205.2v8.7M241.2 2209.5h8.7M249.5 2208.2v8.7M245.2 2212.5h8.7M252.5 2210.2v8.7M248.2 2214.5h8.7M255.5 2212.2v8.7M251.2 2216.5h8.7M257.5 2214.2v8.7M253.2 2218.5h8.7M259.5 2214.2v8.7M255.2 2218.5h8.7M263.5 2215.2v8.7M259.1 2219.5h8.7M270.5 2221.2v8.7M266.1 2225.5h8.7M271.5 2221.2v8.7M267.1 2225.5h8.7M279.5 2237.2v8.7M275.1 2241.5h8.7M282.5 2237.2v8.7M278.1 2241.5h8.7M288.5 2237.2v8.7M284.1 2241.5h8.7M290.5 2237.2v8.7M286.1 2241.5h8.7M292.5 2237.2v8.7M288.1 2241.5h8.7M300.5 2237.2v8.7M296.1 2241.5h8.7M309.5 2237.2v8.7M305.1 2241.5h8.7M316.5 2237.2v8.7M312.1 2241.5h8.7M321.5 2248.2v8.7M317.1 2252.5h8.7M326.5 2248.2v8.7M322.1 2252.5h8.7M343.5 2248.2v8.7M339.1 2252.5h8.7M347.5 2248.2v8.7M343.1 2252.5h8.7M365.5 2248.2v8.7M361.1 2252.5h8.7M366.5 2248.2v8.7M362.1 2252.5h8.7M378.5 2248.2v8.7M374.1 2252.5h8.7M389.5 2248.2v8.7M385.1 2252.5h8.7M205.4 2181v8.7M201 2185.4h8.7M208.9 2183.1v8.7M204.5 2187.5h8.7M211.7 2184.5v8.7M207.3 2188.9h8.7M214.5 2185.9v8.7M210.1 2190.3h8.7M217.3 2187.3v8.7M212.9 2191.7h8.7M220.1 2189.2v8.7M215.7 2193.6h8.7M222.9 2191.1v8.7M218.6 2195.4h8.7M225.7 2192.9v8.7M221.4 2197.3h8.7M227.6 2195.3v8.7M223.2 2199.6h8.7M229.4 2197.6v8.7M225.1 2202h8.7M231.3 2199.9v8.7M227 2204.3h8.7M234.1 2204.2v8.7M229.8 2208.5h8.7M236.9 2204.5v8.7M232.6 2208.9h8.7M239.7 2204.9v8.7M235.4 2209.2h8.7M242.5 2205.2v8.7M238.2 2209.6h8.7M245.3 2205.6v8.7M241 2209.9h8.7M248.1 2207.7v8.7M243.8 2212h8.7M250.9 2209.8v8.7M246.6 2214.1h8.7M253.7 2211.9v8.7M249.4 2216.2h8.7M256.5 2214v8.7M252.2 2218.3h8.7M259.3 2214.4v8.7M255 2218.8h8.7M262.1 2214.9v8.7M257.8 2219.2h8.7M264.9 2215.4v8.7M260.6 2219.7h8.7" stroke="#F2A20F" stroke-width="1.4" fill="none" clip-path="url(#c02)"/>
<clipPath id="c12"><rect x="578.6" y="2170" width="321.4" height="197"/></clipPath>
<path d="M578.6 2176V2367H900" stroke="#000" stroke-width="1.7" fill="none" stroke-linecap="square"/>
<line x1="574.4" y1="2183.3" x2="578.6" y2="2183.3" stroke="#000" stroke-width="1.4" stroke-linecap="butt"/>
<text x="571.3" y="2188.4" font-size="14.2" text-anchor="end" fill="#000">1.00</text>
<line x1="574.4" y1="2227.2" x2="578.6" y2="2227.2" stroke="#000" stroke-width="1.4" stroke-linecap="butt"/>
<text x="571.3" y="2232.2" font-size="14.2" text-anchor="end" fill="#000">0.75</text>
<line x1="574.4" y1="2271" x2="578.6" y2="2271" stroke="#000" stroke-width="1.4" stroke-linecap="butt"/>
<text x="571.3" y="2276.1" font-size="14.2" text-anchor="end" fill="#000">0.50</text>
<line x1="574.4" y1="2314.8" x2="578.6" y2="2314.8" stroke="#000" stroke-width="1.4" stroke-linecap="butt"/>
<text x="571.3" y="2319.9" font-size="14.2" text-anchor="end" fill="#000">0.25</text>
<line x1="574.4" y1="2358.7" x2="578.6" y2="2358.7" stroke="#000" stroke-width="1.4" stroke-linecap="butt"/>
<text x="571.3" y="2363.8" font-size="14.2" text-anchor="end" fill="#000">0.00</text>
<line x1="593" y1="2367" x2="593" y2="2371.2" stroke="#000" stroke-width="1.4" stroke-linecap="butt"/>
<text x="593" y="2383.9" font-size="14.2" text-anchor="middle" fill="#000">0</text>
<line x1="666.4" y1="2367" x2="666.4" y2="2371.2" stroke="#000" stroke-width="1.4" stroke-linecap="butt"/>
<text x="666.4" y="2383.9" font-size="14.2" text-anchor="middle" fill="#000">1000</text>
<line x1="739.8" y1="2367" x2="739.8" y2="2371.2" stroke="#000" stroke-width="1.4" stroke-linecap="butt"/>
<text x="739.8" y="2383.9" font-size="14.2" text-anchor="middle" fill="#000">2000</text>
<line x1="813.1" y1="2367" x2="813.1" y2="2371.2" stroke="#000" stroke-width="1.4" stroke-linecap="butt"/>
<text x="813.1" y="2383.9" font-size="14.2" text-anchor="middle" fill="#000">3000</text>
<line x1="886.5" y1="2367" x2="886.5" y2="2371.2" stroke="#000" stroke-width="1.4" stroke-linecap="butt"/>
<text x="886.5" y="2383.9" font-size="14.2" text-anchor="middle" fill="#000">4000</text>
<text x="739.8" y="2402.9" font-size="16.3" text-anchor="middle" fill="#000">Time</text>
<text x="536.5" y="2271" font-size="17" text-anchor="middle" transform="rotate(-90 536.5 2271)">Survival probability</text>
<text x="578.9" y="2113.6" font-size="19.2" text-anchor="start" fill="#000">CN1 THYM</text>
<text x="603.4" y="2329.6" font-size="17.1" text-anchor="start" fill="#000">q = 0.034</text>
<line x1="608.2" y1="2143" x2="624.5" y2="2143" stroke="#2E2183" stroke-width="1.4" stroke-linecap="butt"/>
<line x1="616.3" y1="2138.8" x2="616.3" y2="2147.2" stroke="#2E2183" stroke-width="1.4" stroke-linecap="butt"/>
<text x="632.3" y="2147.3" font-size="12.1" text-anchor="start" fill="#000">CN1 sig. unattributed</text>
<line x1="755.1" y1="2143" x2="771.4" y2="2143" stroke="#F2A20F" stroke-width="1.4" stroke-linecap="butt"/>
<line x1="763.3" y1="2138.8" x2="763.3" y2="2147.2" stroke="#F2A20F" stroke-width="1.4" stroke-linecap="butt"/>
<text x="779.2" y="2147.3" font-size="12.1" text-anchor="start" fill="#000">CN1 sig. attributed</text>
<path d="M578.6 2447.3V2479.8H900" stroke="#000" stroke-width="1.7" fill="none" stroke-linecap="square"/>
<line x1="593" y1="2479.8" x2="593" y2="2484" stroke="#000" stroke-width="1.4" stroke-linecap="butt"/>
<text x="593" y="2497.2" font-size="14.2" text-anchor="middle" fill="#000">0</text>
<text x="593" y="2459.4" font-size="10.2" text-anchor="middle" fill="#000">14</text>
<text x="593" y="2474.8" font-size="10.2" text-anchor="middle" fill="#000">62</text>
<line x1="666.4" y1="2479.8" x2="666.4" y2="2484" stroke="#000" stroke-width="1.4" stroke-linecap="butt"/>
<text x="666.4" y="2497.2" font-size="14.2" text-anchor="middle" fill="#000">1000</text>
<text x="666.4" y="2459.4" font-size="10.2" text-anchor="middle" fill="#000">3</text>
<text x="666.4" y="2474.8" font-size="10.2" text-anchor="middle" fill="#000">36</text>
<line x1="739.8" y1="2479.8" x2="739.8" y2="2484" stroke="#000" stroke-width="1.4" stroke-linecap="butt"/>
<text x="739.8" y="2497.2" font-size="14.2" text-anchor="middle" fill="#000">2000</text>
<text x="739.8" y="2459.4" font-size="10.2" text-anchor="middle" fill="#000">1</text>
<text x="739.8" y="2474.8" font-size="10.2" text-anchor="middle" fill="#000">13</text>
<line x1="813.1" y1="2479.8" x2="813.1" y2="2484" stroke="#000" stroke-width="1.4" stroke-linecap="butt"/>
<text x="813.1" y="2497.2" font-size="14.2" text-anchor="middle" fill="#000">3000</text>
<text x="813.1" y="2459.4" font-size="10.2" text-anchor="middle" fill="#000">0</text>
<text x="813.1" y="2474.8" font-size="10.2" text-anchor="middle" fill="#000">4</text>
<line x1="886.5" y1="2479.8" x2="886.5" y2="2484" stroke="#000" stroke-width="1.4" stroke-linecap="butt"/>
<text x="886.5" y="2497.2" font-size="14.2" text-anchor="middle" fill="#000">4000</text>
<text x="886.5" y="2459.4" font-size="10.2" text-anchor="middle" fill="#000">0</text>
<text x="886.5" y="2474.8" font-size="10.2" text-anchor="middle" fill="#000">1</text>
<text x="739.8" y="2515.1" font-size="16.3" text-anchor="middle" fill="#000">Time</text>
<rect x="554.5" y="2451.3" width="14.6" height="5" fill="#2E2183"/>
<rect x="554.5" y="2466.7" width="14.6" height="5" fill="#F2A20F"/>
<path d="M593.5 2183.5 L620.5 2183.5 L620.5 2197.5 L655.5 2197.5 L655.5 2230.5 L781.5 2230.5" stroke="#2E2183" stroke-width="1.4" fill="none" clip-path="url(#c12)" stroke-linejoin="miter"/>
<path d="M593.5 2183.5 L928.5 2183.5" stroke="#F2A20F" stroke-width="1.2" fill="none" clip-path="url(#c12)" stroke-linejoin="miter"/>
<path d="M596.5 2179.2v8.7M592.1 2183.5h8.7M606.5 2179.2v8.7M602.1 2183.5h8.7M625.5 2193.2v8.7M621.1 2197.5h8.7M641.5 2193.2v8.7M637.1 2197.5h8.7M644.5 2193.2v8.7M640.1 2197.5h8.7M645.5 2193.2v8.7M641.1 2197.5h8.7M650.5 2193.2v8.7M646.1 2197.5h8.7M655.5 2193.2v8.7M651.1 2197.5h8.7M662.5 2226.2v8.7M658.1 2230.5h8.7M705.5 2226.2v8.7M701.1 2230.5h8.7M711.5 2226.2v8.7M707.1 2230.5h8.7M777.5 2226.2v8.7M773.1 2230.5h8.7" stroke="#2E2183" stroke-width="1.6" fill="none" clip-path="url(#c12)"/>
<path d="M602.5 2179.2v8.7M598.1 2183.5h8.7M614.5 2179.2v8.7M610.1 2183.5h8.7M617.5 2179.2v8.7M613.1 2183.5h8.7M620.5 2179.2v8.7M616.1 2183.5h8.7M622.5 2179.2v8.7M618.1 2183.5h8.7M624.5 2179.2v8.7M620.1 2183.5h8.7M625.5 2179.2v8.7M621.1 2183.5h8.7M639.5 2179.2v8.7M635.1 2183.5h8.7M641.5 2179.2v8.7M637.1 2183.5h8.7M643.5 2179.2v8.7M639.1 2183.5h8.7M645.5 2179.2v8.7M641.1 2183.5h8.7M646.5 2179.2v8.7M642.1 2183.5h8.7M650.5 2179.2v8.7M646.1 2183.5h8.7M652.5 2179.2v8.7M648.1 2183.5h8.7M653.5 2179.2v8.7M649.1 2183.5h8.7M659.5 2179.2v8.7M655.1 2183.5h8.7M664.5 2179.2v8.7M660.1 2183.5h8.7M670.5 2179.2v8.7M666.1 2183.5h8.7M675.5 2179.2v8.7M671.1 2183.5h8.7M678.5 2179.2v8.7M674.1 2183.5h8.7M685.5 2179.2v8.7M681.1 2183.5h8.7M687.5 2179.2v8.7M683.1 2183.5h8.7M695.5 2179.2v8.7M691.1 2183.5h8.7M704.5 2179.2v8.7M700.1 2183.5h8.7M711.5 2179.2v8.7M707.1 2183.5h8.7M714.5 2179.2v8.7M710.1 2183.5h8.7M725.5 2179.2v8.7M721.1 2183.5h8.7M733.5 2179.2v8.7M729.1 2183.5h8.7M736.5 2179.2v8.7M732.1 2183.5h8.7M739.5 2179.2v8.7M735.1 2183.5h8.7M745.5 2179.2v8.7M741.1 2183.5h8.7M752.5 2179.2v8.7M748.1 2183.5h8.7M755.5 2179.2v8.7M751.1 2183.5h8.7M765.5 2179.2v8.7M761.1 2183.5h8.7M766.5 2179.2v8.7M762.1 2183.5h8.7M794.5 2179.2v8.7M790.1 2183.5h8.7M807.5 2179.2v8.7M803.1 2183.5h8.7M808.5 2179.2v8.7M804.1 2183.5h8.7M810.5 2179.2v8.7M806.1 2183.5h8.7M833.5 2179.2v8.7M829.1 2183.5h8.7M861.5 2179.2v8.7M857.1 2183.5h8.7M872.5 2179.2v8.7M868.1 2183.5h8.7" stroke="#F2A20F" stroke-width="1.4" fill="none" clip-path="url(#c12)"/>
<clipPath id="c22"><rect x="968.9" y="2170" width="321.4" height="197"/></clipPath>
<path d="M968.9 2176V2367H1290.3" stroke="#000" stroke-width="1.7" fill="none" stroke-linecap="square"/>
<line x1="964.7" y1="2183.3" x2="968.9" y2="2183.3" stroke="#000" stroke-width="1.4" stroke-linecap="butt"/>
<text x="961.6" y="2188.4" font-size="14.2" text-anchor="end" fill="#000">1.00</text>
<line x1="964.7" y1="2227.2" x2="968.9" y2="2227.2" stroke="#000" stroke-width="1.4" stroke-linecap="butt"/>
<text x="961.6" y="2232.2" font-size="14.2" text-anchor="end" fill="#000">0.75</text>
<line x1="964.7" y1="2271" x2="968.9" y2="2271" stroke="#000" stroke-width="1.4" stroke-linecap="butt"/>
<text x="961.6" y="2276.1" font-size="14.2" text-anchor="end" fill="#000">0.50</text>
<line x1="964.7" y1="2314.8" x2="968.9" y2="2314.8" stroke="#000" stroke-width="1.4" stroke-linecap="butt"/>
<text x="961.6" y="2319.9" font-size="14.2" text-anchor="end" fill="#000">0.25</text>
<line x1="964.7" y1="2358.7" x2="968.9" y2="2358.7" stroke="#000" stroke-width="1.4" stroke-linecap="butt"/>
<text x="961.6" y="2363.8" font-size="14.2" text-anchor="end" fill="#000">0.00</text>
<line x1="983.3" y1="2367" x2="983.3" y2="2371.2" stroke="#000" stroke-width="1.4" stroke-linecap="butt"/>
<text x="983.3" y="2383.9" font-size="14.2" text-anchor="middle" fill="#000">0</text>
<line x1="1042" y1="2367" x2="1042" y2="2371.2" stroke="#000" stroke-width="1.4" stroke-linecap="butt"/>
<text x="1042" y="2383.9" font-size="14.2" text-anchor="middle" fill="#000">1000</text>
<line x1="1100.7" y1="2367" x2="1100.7" y2="2371.2" stroke="#000" stroke-width="1.4" stroke-linecap="butt"/>
<text x="1100.7" y="2383.9" font-size="14.2" text-anchor="middle" fill="#000">2000</text>
<line x1="1159.4" y1="2367" x2="1159.4" y2="2371.2" stroke="#000" stroke-width="1.4" stroke-linecap="butt"/>
<text x="1159.4" y="2383.9" font-size="14.2" text-anchor="middle" fill="#000">3000</text>
<line x1="1218.1" y1="2367" x2="1218.1" y2="2371.2" stroke="#000" stroke-width="1.4" stroke-linecap="butt"/>
<text x="1218.1" y="2383.9" font-size="14.2" text-anchor="middle" fill="#000">4000</text>
<line x1="1276.8" y1="2367" x2="1276.8" y2="2371.2" stroke="#000" stroke-width="1.4" stroke-linecap="butt"/>
<text x="1276.8" y="2383.9" font-size="14.2" text-anchor="middle" fill="#000">5000</text>
<text x="1130" y="2402.9" font-size="16.3" text-anchor="middle" fill="#000">Time</text>
<text x="926.8" y="2271" font-size="17" text-anchor="middle" transform="rotate(-90 926.8 2271)">Survival probability</text>
<text x="969.2" y="2113.6" font-size="19.2" text-anchor="start" fill="#000">CN9 LGG</text>
<text x="993.7" y="2329.6" font-size="17.1" text-anchor="start" fill="#000">q = 0.0075</text>
<line x1="998.5" y1="2143" x2="1014.8" y2="2143" stroke="#2E2183" stroke-width="1.4" stroke-linecap="butt"/>
<line x1="1006.6" y1="2138.8" x2="1006.6" y2="2147.2" stroke="#2E2183" stroke-width="1.4" stroke-linecap="butt"/>
<text x="1022.6" y="2147.3" font-size="12.1" text-anchor="start" fill="#000">CN9 sig. unattributed</text>
<line x1="1145.4" y1="2143" x2="1161.7" y2="2143" stroke="#F2A20F" stroke-width="1.4" stroke-linecap="butt"/>
<line x1="1153.6" y1="2138.8" x2="1153.6" y2="2147.2" stroke="#F2A20F" stroke-width="1.4" stroke-linecap="butt"/>
<text x="1169.5" y="2147.3" font-size="12.1" text-anchor="start" fill="#000">CN9 sig. attributed</text>
<path d="M968.9 2447.3V2479.8H1290.3" stroke="#000" stroke-width="1.7" fill="none" stroke-linecap="square"/>
<line x1="983.3" y1="2479.8" x2="983.3" y2="2484" stroke="#000" stroke-width="1.4" stroke-linecap="butt"/>
<text x="983.3" y="2497.2" font-size="14.2" text-anchor="middle" fill="#000">0</text>
<text x="983.3" y="2459.4" font-size="10.2" text-anchor="middle" fill="#000">380</text>
<text x="983.3" y="2474.8" font-size="10.2" text-anchor="middle" fill="#000">84</text>
<line x1="1042" y1="2479.8" x2="1042" y2="2484" stroke="#000" stroke-width="1.4" stroke-linecap="butt"/>
<text x="1042" y="2497.2" font-size="14.2" text-anchor="middle" fill="#000">1000</text>
<text x="1042" y="2459.4" font-size="10.2" text-anchor="middle" fill="#000">133</text>
<text x="1042" y="2474.8" font-size="10.2" text-anchor="middle" fill="#000">18</text>
<line x1="1100.7" y1="2479.8" x2="1100.7" y2="2484" stroke="#000" stroke-width="1.4" stroke-linecap="butt"/>
<text x="1100.7" y="2497.2" font-size="14.2" text-anchor="middle" fill="#000">2000</text>
<text x="1100.7" y="2459.4" font-size="10.2" text-anchor="middle" fill="#000">41</text>
<text x="1100.7" y="2474.8" font-size="10.2" text-anchor="middle" fill="#000">5</text>
<line x1="1159.4" y1="2479.8" x2="1159.4" y2="2484" stroke="#000" stroke-width="1.4" stroke-linecap="butt"/>
<text x="1159.4" y="2497.2" font-size="14.2" text-anchor="middle" fill="#000">3000</text>
<text x="1159.4" y="2459.4" font-size="10.2" text-anchor="middle" fill="#000">13</text>
<text x="1159.4" y="2474.8" font-size="10.2" text-anchor="middle" fill="#000">3</text>
<line x1="1218.1" y1="2479.8" x2="1218.1" y2="2484" stroke="#000" stroke-width="1.4" stroke-linecap="butt"/>
<text x="1218.1" y="2497.2" font-size="14.2" text-anchor="middle" fill="#000">4000</text>
<text x="1218.1" y="2459.4" font-size="10.2" text-anchor="middle" fill="#000">8</text>
<text x="1218.1" y="2474.8" font-size="10.2" text-anchor="middle" fill="#000">1</text>
<line x1="1276.8" y1="2479.8" x2="1276.8" y2="2484" stroke="#000" stroke-width="1.4" stroke-linecap="butt"/>
<text x="1276.8" y="2497.2" font-size="14.2" text-anchor="middle" fill="#000">5000</text>
<text x="1276.8" y="2459.4" font-size="10.2" text-anchor="middle" fill="#000">2</text>
<text x="1276.8" y="2474.8" font-size="10.2" text-anchor="middle" fill="#000">1</text>
<text x="1130" y="2515.1" font-size="16.3" text-anchor="middle" fill="#000">Time</text>
<rect x="944.8" y="2451.3" width="14.6" height="5" fill="#2E2183"/>
<rect x="944.8" y="2466.7" width="14.6" height="5" fill="#F2A20F"/>
<path d="M983.5 2183.5 L986.5 2183.5 L986.5 2184.5 L990.5 2184.5 L990.5 2186.5 L993.5 2186.5 L993.5 2187.5 L996.5 2187.5 L996.5 2190.5 L998.5 2190.5 L998.5 2194.5 L1001.5 2194.5 L1001.5 2197.5 L1004.5 2197.5 L1004.5 2201.5 L1005.5 2201.5 L1005.5 2204.5 L1007.5 2204.5 L1007.5 2207.5 L1008.5 2207.5 L1008.5 2209.5 L1012.5 2209.5 L1012.5 2212.5 L1015.5 2212.5 L1015.5 2215.5 L1017.5 2215.5 L1017.5 2218.5 L1018.5 2218.5 L1018.5 2221.5 L1019.5 2221.5 L1019.5 2223.5 L1021.5 2223.5 L1021.5 2226.5 L1022.5 2226.5 L1022.5 2229.5 L1024.5 2229.5 L1024.5 2232.5 L1025.5 2232.5 L1025.5 2235.5 L1026.5 2235.5 L1026.5 2237.5 L1028.5 2237.5 L1028.5 2240.5 L1029.5 2240.5 L1029.5 2243.5 L1030.5 2243.5 L1030.5 2246.5 L1031.5 2246.5 L1031.5 2249.5 L1031.5 2249.5 L1031.5 2251.5 L1031.5 2251.5 L1031.5 2254.5 L1031.5 2254.5 L1031.5 2257.5 L1031.5 2257.5 L1031.5 2260.5 L1031.5 2260.5 L1031.5 2263.5 L1035.5 2263.5 L1035.5 2263.5 L1038.5 2263.5 L1038.5 2264.5 L1040.5 2264.5 L1040.5 2268.5 L1056.5 2268.5 L1058.5 2268.5 L1058.5 2271.5 L1060.5 2271.5 L1060.5 2275.5 L1086.5 2275.5 L1086.5 2287.5 L1139.5 2287.5 L1139.5 2305.5 L1318.5 2305.5" stroke="#F2A20F" stroke-width="1.2" fill="none" clip-path="url(#c22)" stroke-linejoin="miter"/>
<path d="M983.5 2183.5 L986.5 2183.5 L986.5 2184.5 L989.5 2184.5 L989.5 2185.5 L992.5 2185.5 L992.5 2186.5 L994.5 2186.5 L994.5 2187.5 L997.5 2187.5 L997.5 2188.5 L1000.5 2188.5 L1000.5 2189.5 L1003.5 2189.5 L1003.5 2190.5 L1005.5 2190.5 L1005.5 2192.5 L1008.5 2192.5 L1008.5 2193.5 L1011.5 2193.5 L1011.5 2195.5 L1015.5 2195.5 L1015.5 2196.5 L1018.5 2196.5 L1018.5 2198.5 L1021.5 2198.5 L1021.5 2199.5 L1024.5 2199.5 L1024.5 2200.5 L1026.5 2200.5 L1026.5 2201.5 L1029.5 2201.5 L1029.5 2201.5 L1032.5 2201.5 L1032.5 2202.5 L1035.5 2202.5 L1035.5 2202.5 L1038.5 2202.5 L1038.5 2202.5 L1041.5 2202.5 L1041.5 2205.5 L1044.5 2205.5 L1044.5 2208.5 L1047.5 2208.5 L1047.5 2210.5 L1050.5 2210.5 L1050.5 2213.5 L1053.5 2213.5 L1053.5 2215.5 L1056.5 2215.5 L1056.5 2217.5 L1058.5 2217.5 L1058.5 2219.5 L1061.5 2219.5 L1061.5 2221.5 L1064.5 2221.5 L1064.5 2224.5 L1068.5 2224.5 L1068.5 2226.5 L1071.5 2226.5 L1071.5 2229.5 L1074.5 2229.5 L1074.5 2232.5 L1078.5 2232.5 L1078.5 2236.5 L1081.5 2236.5 L1081.5 2236.5 L1084.5 2236.5 L1084.5 2236.5 L1088.5 2236.5 L1088.5 2236.5 L1091.5 2236.5 L1091.5 2237.5 L1094.5 2237.5 L1094.5 2238.5 L1098.5 2238.5 L1098.5 2240.5 L1102.5 2240.5 L1102.5 2244.5 L1105.5 2244.5 L1105.5 2244.5 L1108.5 2244.5 L1108.5 2245.5 L1110.5 2245.5 L1110.5 2245.5 L1113.5 2245.5 L1113.5 2246.5 L1115.5 2246.5 L1115.5 2249.5 L1116.5 2249.5 L1116.5 2251.5 L1117.5 2251.5 L1117.5 2254.5 L1120.5 2254.5 L1120.5 2256.5 L1123.5 2256.5 L1123.5 2258.5 L1127.5 2258.5 L1127.5 2262.5 L1147.5 2262.5 L1149.5 2262.5 L1149.5 2264.5 L1151.5 2264.5 L1151.5 2267.5 L1152.5 2267.5 L1152.5 2270.5 L1153.5 2270.5 L1153.5 2274.5 L1157.5 2274.5 L1157.5 2278.5 L1158.5 2278.5 L1158.5 2282.5 L1172.5 2282.5 L1172.5 2288.5 L1223.5 2288.5 L1223.5 2297.5 L1231.5 2297.5 L1231.5 2307.5 L1242.5 2307.5 L1242.5 2317.5 L1259.5 2317.5 L1259.5 2328.5 L1286.5 2328.5 L1286.5 2342.5 L1318.5 2342.5" stroke="#2E2183" stroke-width="1.4" fill="none" clip-path="url(#c22)" stroke-linejoin="miter"/>
<path d="M1080.5 2232.2v8.7M1076.2 2236.5h8.7M1084.5 2232.2v8.7M1080.2 2236.5h8.7M1089.5 2232.2v8.7M1085.2 2236.5h8.7M1090.5 2232.2v8.7M1086.2 2236.5h8.7M1096.5 2234.2v8.7M1092.2 2238.5h8.7M1100.5 2236.2v8.7M1096.2 2240.5h8.7M1105.5 2240.2v8.7M1101.2 2244.5h8.7M1107.5 2240.2v8.7M1103.2 2244.5h8.7M1114.5 2242.2v8.7M1110.2 2246.5h8.7M1117.5 2247.2v8.7M1113.2 2251.5h8.7M1130.5 2258.2v8.7M1126.2 2262.5h8.7M1133.5 2258.2v8.7M1129.2 2262.5h8.7M1136.5 2258.2v8.7M1132.2 2262.5h8.7M1139.5 2258.2v8.7M1135.2 2262.5h8.7M1142.5 2258.2v8.7M1138.2 2262.5h8.7M1145.5 2258.2v8.7M1141.2 2262.5h8.7M1151.5 2260.2v8.7M1147.2 2264.5h8.7M1153.5 2266.2v8.7M1149.2 2270.5h8.7M1154.5 2270.2v8.7M1150.2 2274.5h8.7M1155.5 2270.2v8.7M1151.2 2274.5h8.7M1174.5 2284.2v8.7M1170.2 2288.5h8.7M1193.5 2284.2v8.7M1189.2 2288.5h8.7M1202.5 2284.2v8.7M1198.2 2288.5h8.7M1203.5 2284.2v8.7M1199.2 2288.5h8.7M1223.5 2293.2v8.7M1219.2 2297.5h8.7M1225.5 2293.2v8.7M1221.2 2297.5h8.7M1261.5 2324.2v8.7M1257.2 2328.5h8.7M986.3 2179.9v8.7M982 2184.2h8.7M989.2 2180.8v8.7M984.8 2185.2h8.7M992.1 2181.8v8.7M987.7 2186.1h8.7M994.9 2182.7v8.7M990.6 2187.1h8.7M997.8 2183.7v8.7M993.4 2188h8.7M999.3 2184.5v8.7M994.9 2188.8h8.7M1000.8 2185.2v8.7M996.5 2189.6h8.7M1002.3 2186v8.7M998 2190.3h8.7M1003.9 2186.7v8.7M999.5 2191.1h8.7M1005.4 2187.5v8.7M1001 2191.8h8.7M1006.9 2188.3v8.7M1002.5 2192.6h8.7M1008.4 2189v8.7M1004.1 2193.4h8.7M1010.1 2189.9v8.7M1005.8 2194.3h8.7M1011.9 2190.8v8.7M1007.5 2195.1h8.7M1013.6 2191.7v8.7M1009.3 2196h8.7M1015.3 2192.6v8.7M1011 2196.9h8.7M1017.1 2193.5v8.7M1012.7 2197.8h8.7M1018.8 2194.3v8.7M1014.4 2198.7h8.7M1020.6 2194.9v8.7M1016.2 2199.2h8.7M1022.3 2195.4v8.7M1018 2199.7h8.7M1024.1 2195.9v8.7M1019.8 2200.2h8.7M1025.9 2196.4v8.7M1021.5 2200.7h8.7M1027.7 2196.9v8.7M1023.3 2201.3h8.7M1029.4 2197.4v8.7M1025.1 2201.8h8.7M1031.2 2197.7v8.7M1026.8 2202h8.7M1032.9 2197.9v8.7M1028.6 2202.2h8.7M1034.6 2198.1v8.7M1030.3 2202.4h8.7M1036.4 2198.3v8.7M1032 2202.7h8.7M1038.1 2198.5v8.7M1033.8 2202.9h8.7M1039.5 2199.7v8.7M1035.2 2204h8.7M1040.9 2200.9v8.7M1036.6 2205.2h8.7M1042.3 2202v8.7M1038 2206.4h8.7M1043.7 2203.2v8.7M1039.4 2207.5h8.7M1045.1 2204.3v8.7M1040.8 2208.7h8.7M1046.5 2205.5v8.7M1042.2 2209.8h8.7M1047.9 2206.6v8.7M1043.6 2211h8.7M1049.3 2207.8v8.7M1045 2212.1h8.7M1050.7 2208.9v8.7M1046.4 2213.3h8.7M1052.1 2210v8.7M1047.7 2214.3h8.7M1053.4 2211.1v8.7M1049 2215.4h8.7M1054.7 2212.2v8.7M1050.4 2216.5h8.7M1056.1 2213.3v8.7M1051.7 2217.6h8.7M1057.4 2214.3v8.7M1053 2218.7h8.7M1058.7 2215.4v8.7M1054.4 2219.8h8.7M1060 2216.5v8.7M1055.7 2220.9h8.7M1061.4 2217.6v8.7M1057 2222h8.7M1062.9 2218.6v8.7M1058.5 2223h8.7M1064.3 2219.7v8.7M1060 2224h8.7M1065.8 2220.7v8.7M1061.5 2225.1h8.7M1067.3 2221.8v8.7M1063 2226.1h8.7M1068.8 2222.8v8.7M1064.4 2227.2h8.7M1070.3 2223.8v8.7M1065.9 2228.2h8.7M1071.7 2224.9v8.7M1067.4 2229.2h8.7M1073 2226.3v8.7M1068.7 2230.7h8.7M1074.3 2227.8v8.7M1070 2232.1h8.7M1075.6 2229.3v8.7M1071.3 2233.6h8.7M1076.9 2230.7v8.7M1072.5 2235.1h8.7" stroke="#2E2183" stroke-width="1.6" fill="none" clip-path="url(#c22)"/>
<path d="M984.5 2179.2v8.7M980.1 2183.5h8.7M987.5 2180.2v8.7M983.1 2184.5h8.7M989.5 2180.2v8.7M985.1 2184.5h8.7M991.5 2182.2v8.7M987.1 2186.5h8.7M993.5 2182.2v8.7M989.1 2186.5h8.7M996.5 2183.2v8.7M992.1 2187.5h8.7M998.5 2190.2v8.7M994.1 2194.5h8.7M1001.5 2193.2v8.7M997.1 2197.5h8.7M1007.5 2200.2v8.7M1003.1 2204.5h8.7M1010.5 2205.2v8.7M1006.1 2209.5h8.7M1012.5 2208.2v8.7M1008.1 2212.5h8.7M1015.5 2211.2v8.7M1011.1 2215.5h8.7M1018.5 2217.2v8.7M1014.1 2221.5h8.7M1021.5 2219.2v8.7M1017.1 2223.5h8.7M1024.5 2225.2v8.7M1020.1 2229.5h8.7M1026.5 2233.2v8.7M1022.1 2237.5h8.7M1029.5 2236.2v8.7M1025.2 2240.5h8.7M1031.5 2242.2v8.7M1027.2 2246.5h8.7M1032.5 2259.2v8.7M1028.2 2263.5h8.7M1035.5 2259.2v8.7M1031.2 2263.5h8.7M1038.5 2259.2v8.7M1034.2 2263.5h8.7M1039.5 2260.2v8.7M1035.2 2264.5h8.7M1045.5 2264.2v8.7M1041.2 2268.5h8.7M1054.5 2264.2v8.7M1050.2 2268.5h8.7M1057.5 2264.2v8.7M1053.2 2268.5h8.7M1059.5 2267.2v8.7M1055.2 2271.5h8.7M1063.5 2271.2v8.7M1059.2 2275.5h8.7M1066.5 2271.2v8.7M1062.2 2275.5h8.7M1069.5 2271.2v8.7M1065.2 2275.5h8.7M1085.5 2271.2v8.7M1081.2 2275.5h8.7M1092.5 2283.2v8.7M1088.2 2287.5h8.7M1123.5 2283.2v8.7M1119.2 2287.5h8.7M1159.5 2301.2v8.7M1155.2 2305.5h8.7M1202.5 2301.2v8.7M1198.2 2305.5h8.7" stroke="#F2A20F" stroke-width="1.4" fill="none" clip-path="url(#c22)"/>
</svg>
</body></html>
